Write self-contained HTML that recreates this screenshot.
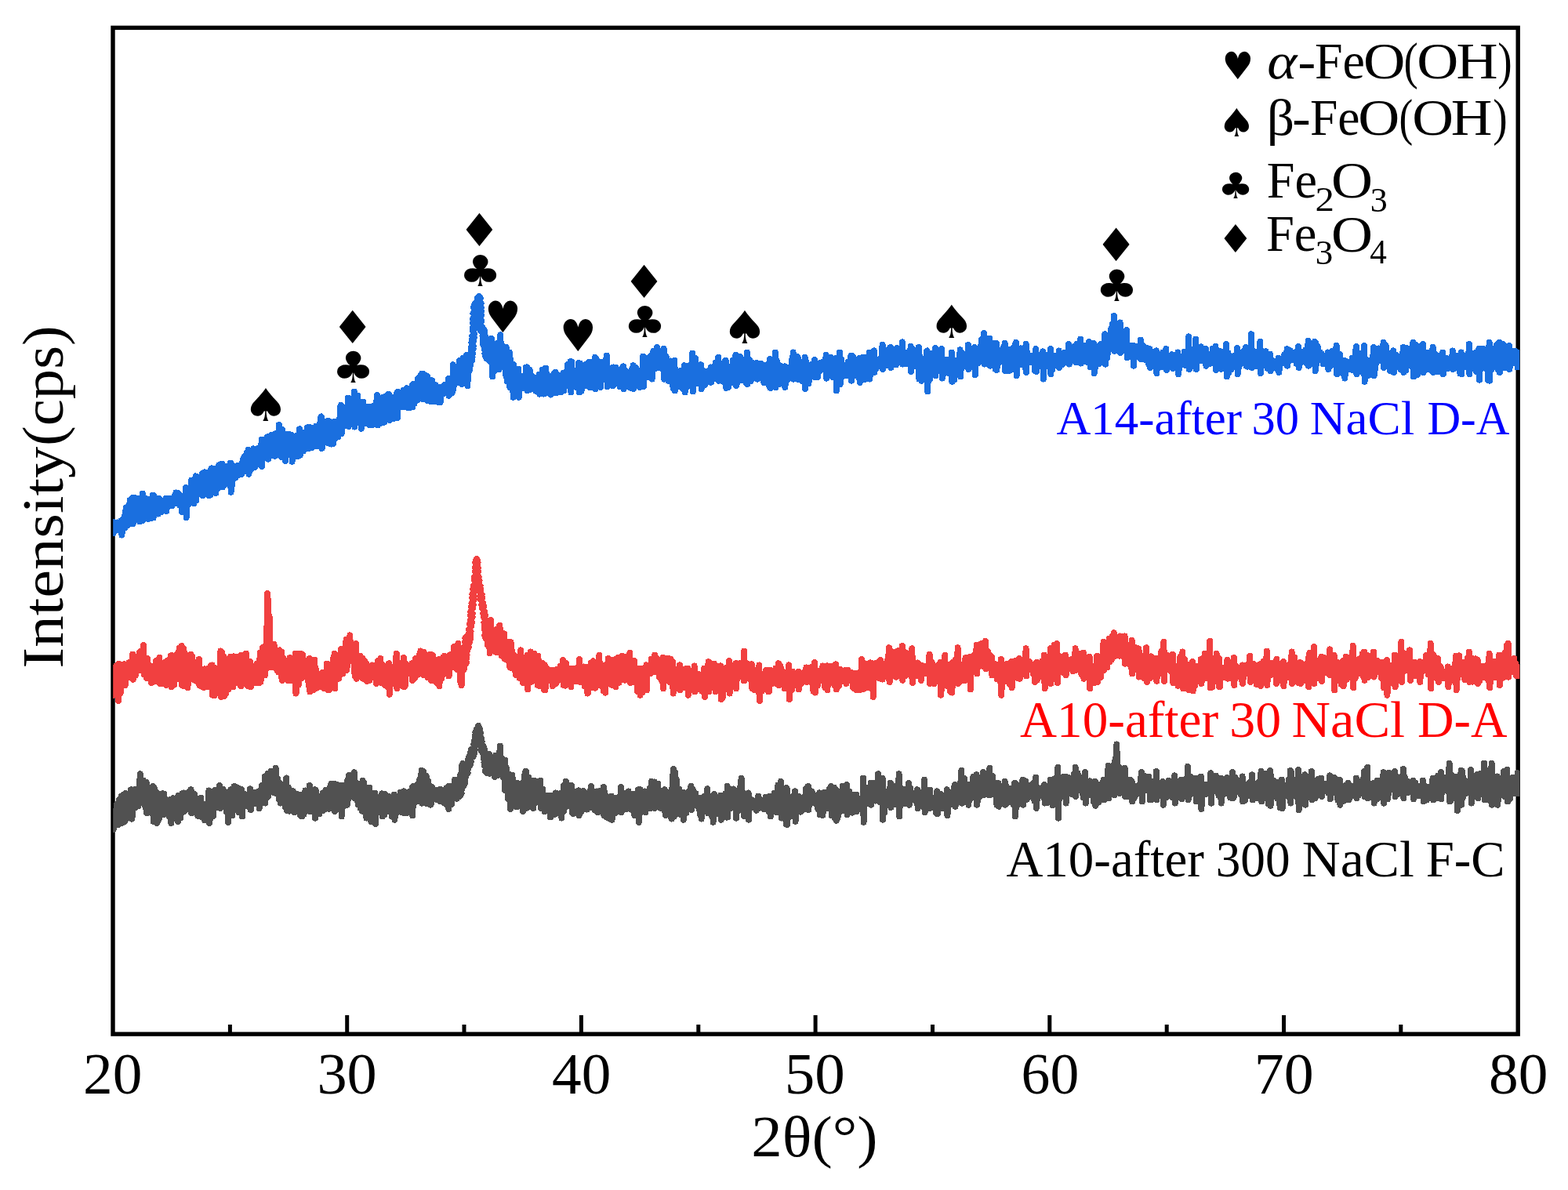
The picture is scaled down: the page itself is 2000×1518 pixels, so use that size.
<!DOCTYPE html>
<html lang="en">
<head>
<meta charset="utf-8">
<title>XRD patterns</title>
<style>
html,body{margin:0;padding:0;background:#fff;}
body{width:2000px;height:1518px;overflow:hidden;}
svg{display:block;}
</style>
</head>
<body>
<svg width="2000" height="1518" viewBox="0 0 2000 1518">
<rect x="0" y="0" width="2000" height="1518" fill="#ffffff"/>
<rect x="144.0" y="35.4" width="1792.2" height="1283.7" fill="none" stroke="#000" stroke-width="5.4"/>
<path d="M442.7 1319.1 V1295.0 M741.4 1319.1 V1295.0 M1040.1 1319.1 V1295.0 M1338.8 1319.1 V1295.0 M1637.5 1319.1 V1295.0 M293.4 1319.1 V1307.0 M592.0 1319.1 V1307.0 M890.8 1319.1 V1307.0 M1189.5 1319.1 V1307.0 M1488.2 1319.1 V1307.0 M1786.8 1319.1 V1307.0" stroke="#000" stroke-width="5" fill="none"/>
<text font-size="74.2" font-family="'Liberation Serif', 'DejaVu Serif', serif" fill="#000"><tspan x="105.95" textLength="75.38" lengthAdjust="spacingAndGlyphs" y="1394.90">20</tspan></text>
<text font-size="74.2" font-family="'Liberation Serif', 'DejaVu Serif', serif" fill="#000"><tspan x="404.40" textLength="76.37" lengthAdjust="spacingAndGlyphs" y="1394.90">30</tspan></text>
<text font-size="74.2" font-family="'Liberation Serif', 'DejaVu Serif', serif" fill="#000"><tspan x="704.08" textLength="75.25" lengthAdjust="spacingAndGlyphs" y="1394.90">40</tspan></text>
<text font-size="74.2" font-family="'Liberation Serif', 'DejaVu Serif', serif" fill="#000"><tspan x="1000.73" textLength="77.07" lengthAdjust="spacingAndGlyphs" y="1394.90">50</tspan></text>
<text font-size="74.2" font-family="'Liberation Serif', 'DejaVu Serif', serif" fill="#000"><tspan x="1302.62" textLength="73.65" lengthAdjust="spacingAndGlyphs" y="1394.90">60</tspan></text>
<text font-size="74.2" font-family="'Liberation Serif', 'DejaVu Serif', serif" fill="#000"><tspan x="1599.89" textLength="75.86" lengthAdjust="spacingAndGlyphs" y="1394.90">70</tspan></text>
<text font-size="74.2" font-family="'Liberation Serif', 'DejaVu Serif', serif" fill="#000"><tspan x="1898.95" textLength="75.38" lengthAdjust="spacingAndGlyphs" y="1394.90">80</tspan></text>
<text font-size="74.5" font-family="'Liberation Serif', 'DejaVu Serif', serif" fill="#000"><tspan x="958.30" textLength="161.26" lengthAdjust="spacingAndGlyphs" y="1475.00">2θ(°)</tspan></text>
<text transform="translate(80.00 0) rotate(-90)" y="0" font-size="74.8" font-family="'Liberation Serif', 'DejaVu Serif', serif" fill="#000"><tspan x="-852.70" textLength="283.09" lengthAdjust="spacingAndGlyphs">Intensity</tspan><tspan x="-568.79" textLength="153.30" lengthAdjust="spacingAndGlyphs">(cps)</tspan></text>
<text font-size="60.4" font-family="'Liberation Serif', 'DejaVu Serif', serif" fill="#0000ff"><tspan x="1347.40" textLength="236.64" lengthAdjust="spacingAndGlyphs" y="554.00">A14-after</tspan> <tspan x="1596.49" textLength="60.50" lengthAdjust="spacingAndGlyphs" y="554.00">30</tspan> <tspan x="1670.73" textLength="133.50" lengthAdjust="spacingAndGlyphs" y="554.00">NaCl</tspan> <tspan x="1820.43" textLength="105.00" lengthAdjust="spacingAndGlyphs" y="554.00">D-A</tspan></text>
<text font-size="65.2" font-family="'Liberation Serif', 'DejaVu Serif', serif" fill="#ff0000"><tspan x="1301.10" textLength="253.07" lengthAdjust="spacingAndGlyphs" y="940.40">A10-after</tspan> <tspan x="1568.37" textLength="65.84" lengthAdjust="spacingAndGlyphs" y="940.40">30</tspan> <tspan x="1647.50" textLength="144.67" lengthAdjust="spacingAndGlyphs" y="940.40">NaCl</tspan> <tspan x="1808.02" textLength="114.55" lengthAdjust="spacingAndGlyphs" y="940.40">D-A</tspan></text>
<text font-size="65.2" font-family="'Liberation Serif', 'DejaVu Serif', serif" fill="#000"><tspan x="1283.40" textLength="252.47" lengthAdjust="spacingAndGlyphs" y="1118.10">A10-after</tspan> <tspan x="1550.69" textLength="94.93" lengthAdjust="spacingAndGlyphs" y="1118.10">300</tspan> <tspan x="1660.82" textLength="142.93" lengthAdjust="spacingAndGlyphs" y="1118.10">NaCl</tspan> <tspan x="1818.71" textLength="100.92" lengthAdjust="spacingAndGlyphs" y="1118.10">F-C</tspan></text>
<text font-size="64.5" font-family="'Liberation Serif', 'DejaVu Serif', serif" fill="#000"><tspan x="1616.35" textLength="38.17" lengthAdjust="spacingAndGlyphs" y="99.50" font-style="italic">α</tspan><tspan x="1655.56" textLength="22.66" lengthAdjust="spacingAndGlyphs" y="99.50">-</tspan><tspan x="1677.02" textLength="63.97" lengthAdjust="spacingAndGlyphs" y="99.50">Fe</tspan><tspan x="1738.93" textLength="53.44" lengthAdjust="spacingAndGlyphs" y="99.50">O</tspan><tspan x="1790.45" textLength="18.23" lengthAdjust="spacingAndGlyphs" y="99.50">(</tspan><tspan x="1807.16" textLength="52.99" lengthAdjust="spacingAndGlyphs" y="99.50">O</tspan><tspan x="1857.52" textLength="53.06" lengthAdjust="spacingAndGlyphs" y="99.50">H</tspan><tspan x="1910.28" textLength="18.49" lengthAdjust="spacingAndGlyphs" y="99.50">)</tspan></text>
<text font-size="64.5" font-family="'Liberation Serif', 'DejaVu Serif', serif" fill="#000"><tspan x="1615.69" textLength="35.35" lengthAdjust="spacingAndGlyphs" y="172.20">β</tspan><tspan x="1648.27" textLength="23.44" lengthAdjust="spacingAndGlyphs" y="172.20">-</tspan><tspan x="1671.03" textLength="63.54" lengthAdjust="spacingAndGlyphs" y="172.20">Fe</tspan><tspan x="1732.16" textLength="52.99" lengthAdjust="spacingAndGlyphs" y="172.20">O</tspan><tspan x="1784.53" textLength="17.71" lengthAdjust="spacingAndGlyphs" y="172.20">(</tspan><tspan x="1801.17" textLength="52.77" lengthAdjust="spacingAndGlyphs" y="172.20">O</tspan><tspan x="1850.74" textLength="52.62" lengthAdjust="spacingAndGlyphs" y="172.20">H</tspan><tspan x="1904.28" textLength="18.49" lengthAdjust="spacingAndGlyphs" y="172.20">)</tspan></text>
<text font-size="64.5" font-family="'Liberation Serif', 'DejaVu Serif', serif" fill="#000"><tspan x="1615.81" textLength="64.18" lengthAdjust="spacingAndGlyphs" y="252.20">Fe</tspan><tspan x="1677.56" textLength="24.41" lengthAdjust="spacingAndGlyphs" y="269.00" font-size="43.6">2</tspan><tspan x="1697.96" textLength="52.99" lengthAdjust="spacingAndGlyphs" y="252.30">O</tspan><tspan x="1747.78" textLength="22.04" lengthAdjust="spacingAndGlyphs" y="269.60" font-size="43.6">3</tspan></text>
<text font-size="64.5" font-family="'Liberation Serif', 'DejaVu Serif', serif" fill="#000"><tspan x="1615.00" textLength="64.50" lengthAdjust="spacingAndGlyphs" y="320.00">Fe</tspan><tspan x="1677.73" textLength="22.52" lengthAdjust="spacingAndGlyphs" y="336.50" font-size="43.6">3</tspan><tspan x="1697.96" textLength="52.99" lengthAdjust="spacingAndGlyphs" y="320.50">O</tspan><tspan x="1747.21" textLength="21.58" lengthAdjust="spacingAndGlyphs" y="336.20" font-size="43.6">4</tspan></text>
<text transform="translate(309.39 537.00) scale(0.6569 0.5753)" font-size="100" font-family="'DejaVu Sans', 'Liberation Serif', sans-serif" fill="#000">♠</text>
<text transform="translate(422.67 438.00) scale(0.6018 0.5793)" font-size="100" font-family="'DejaVu Sans', 'Liberation Serif', sans-serif" fill="#000">♦</text>
<text transform="translate(423.20 488.06) scale(0.6089 0.5522)" font-size="100" font-family="'DejaVu Sans', 'Liberation Serif', sans-serif" fill="#000">♣</text>
<text transform="translate(584.57 314.00) scale(0.6018 0.5807)" font-size="100" font-family="'DejaVu Sans', 'Liberation Serif', sans-serif" fill="#000">♦</text>
<text transform="translate(585.19 365.00) scale(0.6104 0.5507)" font-size="100" font-family="'DejaVu Sans', 'Liberation Serif', sans-serif" fill="#000">♣</text>
<text transform="translate(618.14 424.40) scale(0.5181 0.5562)" font-size="100" font-family="'DejaVu Sans', 'Liberation Serif', sans-serif" fill="#000">♥</text>
<text transform="translate(714.01 447.70) scale(0.5208 0.5630)" font-size="100" font-family="'DejaVu Sans', 'Liberation Serif', sans-serif" fill="#000">♥</text>
<text transform="translate(794.54 380.00) scale(0.6036 0.5793)" font-size="100" font-family="'DejaVu Sans', 'Liberation Serif', sans-serif" fill="#000">♦</text>
<text transform="translate(795.05 430.00) scale(0.6133 0.5507)" font-size="100" font-family="'DejaVu Sans', 'Liberation Serif', sans-serif" fill="#000">♣</text>
<text transform="translate(920.46 438.20) scale(0.6586 0.5781)" font-size="100" font-family="'DejaVu Sans', 'Liberation Serif', sans-serif" fill="#000">♠</text>
<text transform="translate(1184.21 431.20) scale(0.6621 0.5795)" font-size="100" font-family="'DejaVu Sans', 'Liberation Serif', sans-serif" fill="#000">♠</text>
<text transform="translate(1396.51 333.20) scale(0.6054 0.5834)" font-size="100" font-family="'DejaVu Sans', 'Liberation Serif', sans-serif" fill="#000">♦</text>
<text transform="translate(1396.97 384.30) scale(0.6119 0.5562)" font-size="100" font-family="'DejaVu Sans', 'Liberation Serif', sans-serif" fill="#000">♣</text>
<text transform="translate(1558.75 101.00) scale(0.4500 0.4849)" font-size="100" font-family="'DejaVu Sans', 'Liberation Serif', sans-serif" fill="#000">♥</text>
<text transform="translate(1553.19 174.00) scale(0.5379 0.4959)" font-size="100" font-family="'DejaVu Sans', 'Liberation Serif', sans-serif" fill="#000">♠</text>
<text transform="translate(1553.19 253.00) scale(0.5096 0.4548)" font-size="100" font-family="'DejaVu Sans', 'Liberation Serif', sans-serif" fill="#000">♣</text>
<text transform="translate(1553.10 321.80) scale(0.5117 0.4938)" font-size="100" font-family="'DejaVu Sans', 'Liberation Serif', sans-serif" fill="#000">♦</text>
<clipPath id="plotclip"><rect x="144.2" y="30" width="1794.1" height="1295"/></clipPath>
<g fill="none" stroke-width="8.0" stroke-linejoin="round" stroke-linecap="butt" clip-path="url(#plotclip)" shape-rendering="crispEdges">
<path d="M144.0 1031.5 L144.6 1058.3 L145.2 1056.3 L145.8 1041.0 L146.4 1051.3 L147.0 1041.5 L147.6 1038.0 L148.2 1036.7 L148.8 1026.1 L149.4 1036.9 L150.0 1038.9 L150.6 1052.1 L151.2 1033.4 L151.8 1020.2 L152.4 1022.7 L153.0 1044.9 L153.6 1037.2 L154.2 1030.6 L154.8 1015.7 L155.4 1049.9 L156.0 1022.7 L156.6 1031.4 L157.2 1014.1 L157.8 1020.6 L158.4 1048.4 L159.0 1012.9 L159.6 1046.5 L160.2 1012.1 L160.8 1028.0 L161.4 1022.5 L162.0 1028.1 L162.6 1032.1 L163.2 1043.6 L163.8 1037.5 L164.4 1022.8 L165.0 1041.7 L165.6 1025.1 L166.2 1017.6 L166.8 1007.7 L167.4 1007.3 L168.0 1044.6 L168.6 1022.6 L169.2 1040.9 L169.8 1018.4 L170.4 1029.7 L171.0 1014.2 L171.6 1010.6 L172.2 1007.1 L172.8 1030.0 L173.4 1012.1 L174.0 1016.7 L174.6 1024.6 L175.2 1012.5 L175.8 1012.8 L176.4 1028.1 L177.0 1013.5 L177.6 1001.5 L178.2 1000.3 L178.8 987.3 L179.4 1024.6 L180.0 1009.6 L180.6 1023.8 L181.2 1004.1 L181.8 1020.0 L182.4 1008.8 L183.0 995.7 L183.6 1010.7 L184.2 1023.5 L184.8 1021.0 L185.4 1029.6 L186.0 1011.6 L186.6 997.8 L187.2 1037.2 L187.8 1012.1 L188.4 1030.4 L189.0 1009.8 L189.6 1011.5 L190.2 1019.1 L190.8 1025.7 L191.4 1031.8 L192.0 1026.6 L192.6 1011.1 L193.2 1026.2 L193.8 1013.5 L194.4 1012.2 L195.0 1003.0 L195.6 1047.8 L196.2 1027.4 L196.8 1005.3 L197.4 1039.8 L198.0 1028.3 L198.6 1009.7 L199.2 1015.7 L199.8 1049.9 L200.4 1022.5 L201.0 1012.0 L201.6 1047.4 L202.2 1019.4 L202.8 1044.8 L203.4 1029.9 L204.0 1022.5 L204.6 1018.6 L205.2 1021.7 L205.8 1022.5 L206.4 1012.7 L207.0 1029.3 L207.6 1012.3 L208.2 1023.6 L208.8 1039.1 L209.4 1012.6 L210.0 1035.0 L210.6 1029.1 L211.2 1019.7 L211.8 1035.1 L212.4 1030.8 L213.0 1031.3 L213.6 1038.1 L214.2 1035.3 L214.8 1023.1 L215.4 1041.2 L216.0 1034.4 L216.6 1039.5 L217.2 1030.6 L217.8 1020.0 L218.4 1049.9 L219.0 1042.1 L219.6 1037.1 L220.2 1020.6 L220.8 1018.4 L221.4 1033.1 L222.0 1026.0 L222.6 1034.4 L223.2 1041.4 L223.8 1036.8 L224.4 1040.7 L225.0 1029.0 L225.6 1031.6 L226.2 1020.0 L226.8 1047.8 L227.4 1015.2 L228.0 1029.7 L228.6 1018.8 L229.2 1034.8 L229.8 1037.3 L230.4 1043.2 L231.0 1024.4 L231.6 1019.9 L232.2 1012.4 L232.8 1027.2 L233.4 1023.7 L234.0 1024.5 L234.6 1011.5 L235.2 1035.0 L235.8 1027.2 L236.4 1024.5 L237.0 1029.4 L237.6 1024.1 L238.2 1015.3 L238.8 1018.4 L239.4 1030.4 L240.0 1031.7 L240.6 1021.6 L241.2 1017.8 L241.8 1009.6 L242.4 1010.6 L243.0 1023.6 L243.6 1007.3 L244.2 1037.2 L244.8 1011.6 L245.4 1028.3 L246.0 1027.6 L246.6 1034.5 L247.2 1018.7 L247.8 1012.7 L248.4 1014.4 L249.0 1034.0 L249.6 1027.7 L250.2 1029.3 L250.8 1031.3 L251.4 1034.2 L252.0 1040.8 L252.6 1041.0 L253.2 1019.3 L253.8 1020.0 L254.4 1041.5 L255.0 1031.8 L255.6 1028.8 L256.2 1017.8 L256.8 1031.5 L257.4 1042.3 L258.0 1033.8 L258.6 1025.4 L259.2 1035.1 L259.8 1042.4 L260.4 1029.4 L261.0 1046.3 L261.6 1029.2 L262.2 1025.6 L262.8 1027.2 L263.4 1038.8 L264.0 1038.9 L264.6 1029.8 L265.2 1032.9 L265.8 1043.7 L266.4 1008.4 L267.0 1049.9 L267.6 1045.9 L268.2 1042.5 L268.8 1036.8 L269.4 1022.6 L270.0 1021.3 L270.6 1040.3 L271.2 1023.0 L271.8 1041.0 L272.4 1018.8 L273.0 1021.9 L273.6 1019.5 L274.2 1007.8 L274.8 1013.3 L275.4 1010.4 L276.0 1017.6 L276.6 1015.9 L277.2 1012.2 L277.8 1030.5 L278.4 1012.4 L279.0 1010.1 L279.6 1028.6 L280.2 1002.0 L280.8 1031.0 L281.4 1010.3 L282.0 1020.7 L282.6 1017.9 L283.2 1021.4 L283.8 1012.9 L284.4 1006.8 L285.0 1018.6 L285.6 1029.1 L286.2 1029.1 L286.8 1027.7 L287.4 1010.1 L288.0 1012.2 L288.6 1035.5 L289.2 1023.1 L289.8 1025.4 L290.4 1015.7 L291.0 1048.8 L291.6 1029.3 L292.2 1025.6 L292.8 1037.1 L293.4 1023.6 L294.0 1007.6 L294.6 1007.1 L295.2 1032.2 L295.8 1015.2 L296.4 1040.5 L297.0 1023.0 L297.6 1011.2 L298.2 1019.8 L298.8 1003.0 L299.4 1033.0 L300.0 1003.4 L300.6 1011.3 L301.2 1032.7 L301.8 1008.6 L302.4 1004.5 L303.0 1016.8 L303.6 1020.6 L304.2 1017.8 L304.8 1036.5 L305.4 1016.4 L306.0 1031.1 L306.6 1006.4 L307.2 1024.3 L307.8 1032.5 L308.4 1007.3 L309.0 1041.5 L309.6 1012.1 L310.2 1029.9 L310.8 1023.8 L311.4 1014.1 L312.0 1021.3 L312.6 1014.4 L313.2 1013.6 L313.8 1018.6 L314.4 1016.4 L315.0 1022.8 L315.6 1028.6 L316.2 1023.7 L316.8 1022.2 L317.4 1021.0 L318.0 1019.4 L318.6 1017.5 L319.2 1006.3 L319.8 1033.0 L320.4 1015.0 L321.0 1020.0 L321.6 1020.9 L322.2 1020.8 L322.8 1020.9 L323.4 1010.8 L324.0 1018.7 L324.6 1024.4 L325.2 1016.7 L325.8 1021.1 L326.4 1025.0 L327.0 1011.8 L327.6 1022.1 L328.2 1015.1 L328.8 1023.3 L329.4 1009.5 L330.0 1009.4 L330.6 1031.0 L331.2 1021.9 L331.8 1020.6 L332.4 1019.2 L333.0 1011.3 L333.6 1018.9 L334.2 1001.8 L334.8 1005.4 L335.4 1014.4 L336.0 1009.2 L336.6 1015.7 L337.2 1005.9 L337.8 990.5 L338.4 1024.6 L339.0 1004.0 L339.6 1003.4 L340.2 1000.5 L340.8 990.7 L341.4 986.9 L342.0 1015.8 L342.6 992.2 L343.2 1010.1 L343.8 1004.7 L344.4 995.6 L345.0 997.1 L345.6 984.0 L346.2 1009.8 L346.8 997.2 L347.4 997.7 L348.0 1000.7 L348.6 1010.7 L349.2 984.8 L349.8 987.8 L350.4 1000.3 L351.0 1002.2 L351.6 980.0 L352.2 1012.0 L352.8 1010.8 L353.4 1008.4 L354.0 993.2 L354.6 996.0 L355.2 999.4 L355.8 1019.7 L356.4 1016.9 L357.0 998.9 L357.6 1024.6 L358.2 1009.1 L358.8 1005.3 L359.4 1022.0 L360.0 1011.3 L360.6 1001.4 L361.2 1014.8 L361.8 1022.5 L362.4 1008.7 L363.0 1014.9 L363.6 1029.5 L364.2 1005.6 L364.8 993.1 L365.4 992.6 L366.0 1034.0 L366.6 1006.6 L367.2 1016.4 L367.8 1004.3 L368.4 1009.2 L369.0 1034.7 L369.6 1015.1 L370.2 1008.8 L370.8 1032.9 L371.4 1021.8 L372.0 1009.7 L372.6 1031.0 L373.2 1025.0 L373.8 1009.4 L374.4 1035.0 L375.0 1032.2 L375.6 1036.0 L376.2 1019.2 L376.8 1018.3 L377.4 1030.8 L378.0 1012.5 L378.6 1035.5 L379.2 1034.8 L379.8 1014.5 L380.4 1024.9 L381.0 1023.9 L381.6 1017.3 L382.2 1024.8 L382.8 1040.0 L383.4 1034.5 L384.0 1037.7 L384.6 1013.6 L385.2 1041.5 L385.8 1041.2 L386.4 1034.7 L387.0 1028.3 L387.6 1038.7 L388.2 1016.9 L388.8 1025.5 L389.4 1008.5 L390.0 1016.9 L390.6 1010.1 L391.2 1031.9 L391.8 1016.8 L392.4 1027.5 L393.0 1009.6 L393.6 1024.6 L394.2 1026.9 L394.8 1002.0 L395.4 1035.0 L396.0 1024.9 L396.6 1010.7 L397.2 1016.8 L397.8 1034.0 L398.4 1034.0 L399.0 1008.2 L399.6 1014.5 L400.2 1024.2 L400.8 1036.7 L401.4 1007.3 L402.0 1043.6 L402.6 1008.1 L403.2 1029.4 L403.8 1020.9 L404.4 1020.7 L405.0 1030.4 L405.6 1019.9 L406.2 1031.4 L406.8 1023.4 L407.4 1038.1 L408.0 1024.3 L408.6 1026.1 L409.2 1028.6 L409.8 1015.2 L410.4 1027.9 L411.0 1025.1 L411.6 1011.5 L412.2 1034.0 L412.8 1030.8 L413.4 1033.0 L414.0 1016.9 L414.6 1031.6 L415.2 1025.3 L415.8 1007.5 L416.4 1017.1 L417.0 1021.6 L417.6 1018.0 L418.2 1022.4 L418.8 1007.6 L419.4 1031.7 L420.0 1031.7 L420.6 1006.4 L421.2 1003.8 L421.8 1031.2 L422.4 1000.0 L423.0 1031.0 L423.6 1018.3 L424.2 1004.6 L424.8 1005.7 L425.4 1020.7 L426.0 999.7 L426.6 1004.5 L427.2 1035.0 L427.8 1013.1 L428.4 1018.7 L429.0 1021.2 L429.6 1000.7 L430.2 1014.6 L430.8 1013.4 L431.4 1006.6 L432.0 1007.5 L432.6 1016.2 L433.2 1013.5 L433.8 1032.0 L434.4 1010.0 L435.0 1003.0 L435.6 1041.5 L436.2 1001.7 L436.8 1016.8 L437.4 1022.4 L438.0 1007.1 L438.6 1028.2 L439.2 1002.2 L439.8 1016.7 L440.4 1025.2 L441.0 1010.3 L441.6 1020.3 L442.2 1014.1 L442.8 1026.7 L443.4 994.7 L444.0 1020.4 L444.6 1012.0 L445.2 989.0 L445.8 1014.4 L446.4 1002.2 L447.0 1016.4 L447.6 993.6 L448.2 988.6 L448.8 1006.0 L449.4 1013.0 L450.0 1010.9 L450.6 990.3 L451.2 987.6 L451.8 985.2 L452.4 1018.3 L453.0 998.3 L453.6 1011.6 L454.2 998.8 L454.8 1004.9 L455.4 1013.8 L456.0 1010.3 L456.6 1026.4 L457.2 1008.3 L457.8 1021.5 L458.4 1000.4 L459.0 1000.6 L459.6 1030.7 L460.2 1012.0 L460.8 1016.0 L461.4 1031.3 L462.0 1034.6 L462.6 995.7 L463.2 1035.0 L463.8 1006.5 L464.4 998.7 L465.0 1029.3 L465.6 1028.4 L466.2 1026.0 L466.8 1005.2 L467.4 1043.6 L468.0 1015.2 L468.6 1022.1 L469.2 1033.8 L469.8 1035.2 L470.4 1028.0 L471.0 1004.6 L471.6 1027.1 L472.2 1030.3 L472.8 1034.9 L473.4 1047.9 L474.0 1033.2 L474.6 1026.2 L475.2 1043.5 L475.8 1036.3 L476.4 1031.7 L477.0 1027.0 L477.6 1034.4 L478.2 1011.5 L478.8 1051.0 L479.4 1035.1 L480.0 1023.3 L480.6 1027.1 L481.2 1023.3 L481.8 1017.7 L482.4 1019.8 L483.0 1036.4 L483.6 1025.8 L484.2 1029.6 L484.8 1016.5 L485.4 1028.7 L486.0 1025.3 L486.6 1022.0 L487.2 1012.4 L487.8 1041.4 L488.4 1025.2 L489.0 1019.5 L489.6 1012.6 L490.2 1039.4 L490.8 1012.7 L491.4 1022.7 L492.0 1014.2 L492.6 1019.6 L493.2 1027.7 L493.8 1017.1 L494.4 1034.8 L495.0 1020.8 L495.6 1015.6 L496.2 1021.0 L496.8 1017.4 L497.4 1029.6 L498.0 1020.7 L498.6 1025.3 L499.2 1022.9 L499.8 1041.4 L500.4 1032.0 L501.0 1037.7 L501.6 1038.9 L502.2 1033.0 L502.8 1013.6 L503.4 1045.7 L504.0 1036.0 L504.6 1020.9 L505.2 1027.0 L505.8 1035.3 L506.4 1036.9 L507.0 1024.3 L507.6 1032.3 L508.2 1025.5 L508.8 1028.3 L509.4 1031.7 L510.0 1024.0 L510.6 1010.9 L511.2 1025.2 L511.8 1019.2 L512.4 1018.4 L513.0 1036.2 L513.6 1022.9 L514.2 1032.9 L514.8 1009.4 L515.4 1037.2 L516.0 1025.3 L516.6 1017.4 L517.2 1021.3 L517.8 1024.8 L518.4 1026.5 L519.0 1037.0 L519.6 1031.1 L520.2 1011.2 L520.8 1028.3 L521.4 1020.1 L522.0 1022.3 L522.6 1012.4 L523.2 1009.6 L523.8 1019.1 L524.4 1031.6 L525.0 1033.1 L525.6 1005.2 L526.2 1040.4 L526.8 1003.1 L527.4 1028.8 L528.0 1018.8 L528.6 1017.4 L529.2 1018.3 L529.8 1018.4 L530.4 1019.9 L531.0 1013.2 L531.6 1017.1 L532.2 1001.2 L532.8 1013.1 L533.4 1022.1 L534.0 1010.6 L534.6 1019.7 L535.2 994.6 L535.8 1000.0 L536.4 1007.9 L537.0 1004.7 L537.6 983.0 L538.2 1024.6 L538.8 994.0 L539.4 988.0 L540.0 984.0 L540.6 1020.4 L541.2 1024.0 L541.8 1019.4 L542.4 1001.1 L543.0 1008.6 L543.6 989.7 L544.2 1025.1 L544.8 1001.6 L545.4 1010.1 L546.0 996.4 L546.6 1011.2 L547.2 1023.2 L547.8 1015.4 L548.4 1003.0 L549.0 1026.7 L549.6 1026.0 L550.2 1022.9 L550.8 1012.5 L551.4 1004.3 L552.0 1011.1 L552.6 1011.2 L553.2 1014.0 L553.8 1013.3 L554.4 1019.4 L555.0 1010.9 L555.6 1008.8 L556.2 1007.6 L556.8 1013.7 L557.4 1020.2 L558.0 1009.4 L558.6 1007.8 L559.2 1009.6 L559.8 1018.6 L560.4 1014.9 L561.0 1007.3 L561.6 1022.5 L562.2 1015.0 L562.8 1007.3 L563.4 1019.8 L564.0 1014.4 L564.6 1010.5 L565.2 1018.0 L565.8 1023.5 L566.4 1024.4 L567.0 1022.5 L567.6 1007.7 L568.2 1015.3 L568.8 1008.0 L569.4 1005.4 L570.0 1027.2 L570.6 1005.8 L571.2 1025.6 L571.8 1004.0 L572.4 1032.0 L573.0 1002.5 L573.6 1021.5 L574.2 1008.2 L574.8 1016.9 L575.4 1004.5 L576.0 1025.8 L576.6 1008.3 L577.2 1016.8 L577.8 1008.9 L578.4 1009.5 L579.0 1014.1 L579.6 1013.6 L580.2 994.7 L580.8 1016.0 L581.4 1002.7 L582.0 999.7 L582.6 1018.8 L583.2 1003.7 L583.8 998.0 L584.4 1014.3 L585.0 1016.8 L585.6 993.4 L586.2 1014.8 L586.8 989.9 L587.4 1014.7 L588.6 1012.3 L586.7 1009.9 L588.9 1007.6 L587.1 1005.2 L589.3 1002.8 L587.4 1000.4 L589.6 998.0 L587.8 995.6 L589.9 993.3 L588.1 990.9 L590.3 988.5 L588.4 986.1 L590.6 983.7 L588.8 981.3 L591.0 979.0 L589.1 976.6 L590.3 974.2 L591.4 976.5 L589.5 978.8 L591.7 981.1 L589.8 983.4 L591.9 985.7 L590.0 988.0 L592.2 990.4 L590.3 992.7 L592.4 995.0 L590.5 997.3 L592.7 999.6 L591.8 1001.9 L591.0 999.5 L593.2 997.0 L591.4 994.6 L593.6 992.2 L591.7 989.7 L593.9 987.3 L592.1 984.9 L594.3 982.4 L593.5 980.0 L593.0 982.0 L595.4 984.0 L593.8 986.0 L595.3 988.0 L596.6 985.6 L595.0 983.3 L597.3 980.9 L595.7 978.5 L598.0 976.1 L596.3 973.8 L598.7 971.4 L597.0 969.0 L599.4 966.7 L598.7 964.3 L597.9 966.7 L600.1 969.1 L598.3 971.4 L600.5 973.8 L599.7 976.2 L598.9 973.9 L601.0 971.6 L599.2 969.3 L601.4 967.0 L599.5 964.7 L601.7 962.4 L599.9 960.1 L602.0 957.8 L601.2 955.5 L600.7 957.5 L603.2 959.4 L601.7 961.4 L604.2 963.3 L603.7 965.3 L602.9 963.0 L605.2 960.8 L603.4 958.5 L605.7 956.2 L603.9 954.0 L606.1 951.7 L604.4 949.4 L606.6 947.1 L604.9 944.9 L606.1 942.6 L607.4 940.5 L605.8 938.3 L608.1 936.2 L606.4 934.1 L608.8 931.9 L608.1 929.8 L607.3 932.3 L609.5 934.7 L607.7 937.2 L609.9 939.6 L608.0 942.1 L610.2 944.6 L608.4 947.0 L609.6 949.5 L610.6 947.1 L608.7 944.8 L610.8 942.4 L608.8 940.0 L610.9 937.6 L608.9 935.3 L611.0 932.9 L609.0 930.5 L611.1 928.2 L610.1 925.8 L609.6 928.0 L612.1 930.3 L610.5 932.5 L613.0 934.8 L612.5 937.0 L611.8 939.2 L614.0 941.5 L612.2 943.7 L614.5 946.0 L612.8 948.2 L615.0 950.4 L613.2 952.7 L615.5 954.9 L613.8 957.2 L615.0 959.4 L616.4 957.4 L614.8 955.5 L617.1 953.5 L616.5 951.5 L615.7 953.8 L618.0 956.2 L616.2 958.5 L618.4 960.9 L616.7 963.2 L618.9 965.6 L617.1 967.9 L619.3 970.3 L617.6 972.6 L619.8 975.0 L618.0 977.3 L620.3 979.7 L619.5 982.0 L619.0 983.8 L620.5 985.6 L621.0 965.2 L621.6 984.6 L622.2 968.9 L622.8 973.7 L623.4 976.4 L624.0 961.9 L624.6 986.8 L625.2 968.4 L625.8 965.4 L626.4 965.5 L627.0 973.1 L627.6 976.0 L628.2 968.3 L628.8 966.4 L629.4 976.0 L630.0 975.0 L630.6 965.2 L631.2 990.9 L631.8 974.9 L632.4 963.6 L633.0 977.5 L633.6 985.9 L634.2 989.2 L634.8 969.6 L635.4 986.4 L636.0 980.4 L636.6 962.7 L637.2 962.6 L637.8 951.5 L638.4 986.7 L639.0 975.1 L639.6 985.9 L640.2 967.0 L640.8 978.4 L641.4 980.0 L642.0 991.8 L642.6 987.1 L643.2 971.5 L643.8 1007.7 L644.4 970.0 L645.0 1002.2 L645.6 989.8 L646.2 980.3 L646.8 996.0 L647.4 1005.8 L648.0 1018.5 L648.6 1014.6 L649.2 1005.4 L649.8 1020.1 L650.4 988.3 L651.0 1032.0 L651.6 1025.8 L652.2 1000.8 L652.8 1009.3 L653.4 988.6 L654.0 1004.3 L654.6 1027.9 L655.2 1016.2 L655.8 1024.8 L656.4 1022.7 L657.0 1004.1 L657.6 1022.7 L658.2 1029.2 L658.8 1015.0 L659.4 1006.0 L660.0 998.9 L660.6 1028.8 L661.2 1010.4 L661.8 1021.3 L662.4 1006.3 L663.0 1023.5 L663.6 1006.8 L664.2 1013.9 L664.8 1015.1 L665.4 1006.2 L666.0 1021.3 L666.6 998.9 L667.2 1035.0 L667.8 1010.9 L668.4 1000.0 L669.0 994.6 L669.6 986.3 L670.2 995.9 L670.8 983.7 L671.4 1031.0 L672.0 999.9 L672.6 1004.1 L673.2 1000.7 L673.8 1008.6 L674.4 991.6 L675.0 1013.8 L675.6 1022.3 L676.2 1029.1 L676.8 1026.9 L677.4 998.6 L678.0 1006.2 L678.6 1006.7 L679.2 1020.5 L679.8 995.7 L680.4 1031.0 L681.0 1016.4 L681.6 996.0 L682.2 1008.4 L682.8 1014.2 L683.4 996.4 L684.0 1009.3 L684.6 1021.7 L685.2 1019.3 L685.8 1013.4 L686.4 1015.0 L687.0 1018.6 L687.6 1023.2 L688.2 1011.9 L688.8 1017.6 L689.4 995.7 L690.0 1031.0 L690.6 1018.6 L691.2 1018.4 L691.8 1011.4 L692.4 1006.8 L693.0 1032.0 L693.6 1019.8 L694.2 1031.3 L694.8 1035.4 L695.4 1027.2 L696.0 1020.3 L696.6 1025.2 L697.2 1027.3 L697.8 1025.1 L698.4 1033.9 L699.0 1015.3 L699.6 1024.0 L700.2 1034.6 L700.8 1025.2 L701.4 1020.0 L702.0 1042.5 L702.6 1014.9 L703.2 1033.1 L703.8 1026.2 L704.4 1036.5 L705.0 1019.2 L705.6 1030.2 L706.2 1029.4 L706.8 1038.9 L707.4 1033.6 L708.0 1032.0 L708.6 1011.5 L709.2 1033.0 L709.8 1037.8 L710.4 1022.6 L711.0 1023.4 L711.6 1015.6 L712.2 1027.5 L712.8 1014.1 L713.4 1012.9 L714.0 1020.1 L714.6 1029.4 L715.2 1029.2 L715.8 1011.5 L716.4 1043.6 L717.0 1019.6 L717.6 1019.9 L718.2 1015.3 L718.8 1002.1 L719.4 1034.4 L720.0 1003.0 L720.6 1014.7 L721.2 1004.1 L721.8 996.8 L722.4 1028.8 L723.0 1007.3 L723.6 1012.8 L724.2 1006.9 L724.8 1007.4 L725.4 1028.0 L726.0 1007.3 L726.6 1022.9 L727.2 1020.8 L727.8 1011.8 L728.4 1018.9 L729.0 1001.8 L729.6 1007.3 L730.2 1037.2 L730.8 1023.0 L731.4 1038.0 L732.0 1023.7 L732.6 1025.3 L733.2 1020.3 L733.8 1015.4 L734.4 1019.0 L735.0 1037.1 L735.6 1024.0 L736.2 1025.6 L736.8 1017.6 L737.4 1018.8 L738.0 1008.4 L738.6 1040.4 L739.2 1027.5 L739.8 1026.3 L740.4 1014.8 L741.0 1031.1 L741.6 1035.4 L742.2 1017.9 L742.8 1017.9 L743.4 1031.7 L744.0 1008.9 L744.6 1021.8 L745.2 1022.8 L745.8 1020.3 L746.4 1031.9 L747.0 1026.6 L747.6 1019.1 L748.2 1018.8 L748.8 1032.6 L749.4 1011.9 L750.0 1025.3 L750.6 1027.8 L751.2 1028.2 L751.8 1026.8 L752.4 1009.4 L753.0 1020.0 L753.6 1012.8 L754.2 1003.0 L754.8 1029.9 L755.4 1028.9 L756.0 1020.7 L756.6 1012.3 L757.2 1023.8 L757.8 1013.6 L758.4 1021.4 L759.0 1033.6 L759.6 1014.0 L760.2 1014.3 L760.8 1025.4 L761.4 1009.4 L762.0 1031.0 L762.6 1036.4 L763.2 1011.3 L763.8 1011.2 L764.4 1025.9 L765.0 1020.9 L765.6 1025.1 L766.2 1008.7 L766.8 1020.8 L767.4 1022.6 L768.0 1030.8 L768.6 1024.8 L769.2 1017.2 L769.8 1004.0 L770.4 1040.4 L771.0 1010.0 L771.6 1019.5 L772.2 1014.1 L772.8 1022.8 L773.4 1030.3 L774.0 1042.6 L774.6 1039.6 L775.2 1024.2 L775.8 1030.8 L776.4 1025.0 L777.0 1044.1 L777.6 1032.0 L778.2 1036.3 L778.8 1022.6 L779.4 1029.0 L780.0 1015.7 L780.6 1045.7 L781.2 1017.7 L781.8 1036.4 L782.4 1032.2 L783.0 1017.7 L783.6 1026.5 L784.2 1032.9 L784.8 1037.2 L785.4 1027.2 L786.0 1031.6 L786.6 1032.8 L787.2 1022.8 L787.8 1032.9 L788.4 1017.3 L789.0 1022.5 L789.6 1027.9 L790.2 1017.6 L790.8 1024.7 L791.4 1024.2 L792.0 1004.0 L792.6 1036.2 L793.2 1020.5 L793.8 1026.4 L794.4 1017.4 L795.0 1023.9 L795.6 1014.5 L796.2 1016.0 L796.8 1019.6 L797.4 1019.0 L798.0 1012.0 L798.6 1032.3 L799.2 1026.1 L799.8 1021.1 L800.4 1025.8 L801.0 1024.1 L801.6 1009.4 L802.2 1031.0 L802.8 1012.9 L803.4 1023.9 L804.0 1019.9 L804.6 1019.3 L805.2 1032.6 L805.8 1029.8 L806.4 1026.5 L807.0 1017.4 L807.6 1012.6 L808.2 1027.5 L808.8 1024.9 L809.4 1040.0 L810.0 1023.4 L810.6 1035.9 L811.2 1023.7 L811.8 1032.2 L812.4 1037.3 L813.0 1034.0 L813.6 1032.4 L814.2 1007.3 L814.8 1048.8 L815.4 1039.5 L816.0 1010.0 L816.6 1007.1 L817.2 1015.7 L817.8 1011.0 L818.4 1028.3 L819.0 1035.7 L819.6 1035.5 L820.2 1011.1 L820.8 1021.9 L821.4 1018.1 L822.0 1032.8 L822.6 1009.4 L823.2 1036.2 L823.8 1016.0 L824.4 1027.1 L825.0 1014.0 L825.6 1012.6 L826.2 1013.5 L826.8 1024.8 L827.4 1019.2 L828.0 1031.1 L828.6 1025.0 L829.2 1005.1 L829.8 1008.8 L830.4 1030.8 L831.0 996.8 L831.6 1028.8 L832.2 1027.0 L832.8 1008.1 L833.4 1027.8 L834.0 1015.1 L834.6 997.5 L835.2 1031.0 L835.8 1006.2 L836.4 1019.5 L837.0 1011.7 L837.6 1016.1 L838.2 1005.7 L838.8 1007.7 L839.4 1000.0 L840.0 1024.6 L840.6 1015.0 L841.2 1020.7 L841.8 1021.8 L842.4 1030.8 L843.0 1016.8 L843.6 1028.7 L844.2 1014.5 L844.8 1013.9 L845.4 1016.4 L846.0 1014.3 L846.6 1028.6 L847.2 1027.2 L847.8 1007.3 L848.4 1036.2 L849.0 1040.1 L849.6 1017.0 L850.2 1017.0 L850.8 1022.2 L851.4 1029.8 L852.0 1028.3 L852.6 1030.6 L853.2 1010.8 L853.8 1015.7 L854.4 1019.3 L855.0 1041.3 L855.6 1028.9 L856.2 1011.5 L856.8 1044.6 L857.4 1007.2 L858.0 991.0 L858.6 986.4 L859.2 981.0 L859.8 1041.5 L860.4 1010.3 L861.0 985.3 L861.6 1014.5 L862.2 993.6 L862.8 994.0 L863.4 1030.4 L864.0 1023.3 L864.6 1036.7 L865.2 1010.8 L865.8 1018.0 L866.4 1006.9 L867.0 1021.6 L867.6 1038.7 L868.2 1019.9 L868.8 1019.7 L869.4 1021.2 L870.0 1029.9 L870.6 1025.6 L871.2 1010.5 L871.8 1045.7 L872.4 1042.8 L873.0 1012.5 L873.6 1013.0 L874.2 1021.5 L874.8 1021.1 L875.4 1037.0 L876.0 1027.8 L876.6 1022.9 L877.2 1030.8 L877.8 1016.5 L878.4 1010.1 L879.0 1018.6 L879.6 1019.0 L880.2 1027.0 L880.8 1022.4 L881.4 1003.0 L882.0 1033.0 L882.6 1006.5 L883.2 1015.7 L883.8 1007.4 L884.4 1026.1 L885.0 1014.8 L885.6 1027.1 L886.2 1019.6 L886.8 1017.9 L887.4 1012.2 L888.0 1027.6 L888.6 1026.2 L889.2 1022.0 L889.8 1024.7 L890.4 1024.5 L891.0 1027.2 L891.6 1032.7 L892.2 1024.8 L892.8 1021.6 L893.4 1039.9 L894.0 1017.8 L894.6 1044.6 L895.2 1032.2 L895.8 1022.4 L896.4 1027.6 L897.0 1022.6 L897.6 1022.7 L898.2 1016.0 L898.8 1022.1 L899.4 1021.6 L900.0 1031.5 L900.6 1023.6 L901.2 1017.7 L901.8 1019.6 L902.4 1006.3 L903.0 1037.2 L903.6 1018.2 L904.2 1028.2 L904.8 1032.0 L905.4 1026.2 L906.0 1030.8 L906.6 1030.2 L907.2 1020.9 L907.8 1029.5 L908.4 1042.2 L909.0 1017.8 L909.6 1048.8 L910.2 1034.9 L910.8 1013.2 L911.4 1031.8 L912.0 1024.8 L912.6 1036.4 L913.2 1026.5 L913.8 1038.0 L914.4 1028.8 L915.0 1029.5 L915.6 1033.7 L916.2 1038.2 L916.8 1025.9 L917.4 1025.7 L918.0 1018.2 L918.6 1036.2 L919.2 1014.7 L919.8 1045.7 L920.4 1015.5 L921.0 1021.5 L921.6 1019.2 L922.2 1016.1 L922.8 1022.0 L923.4 1035.2 L924.0 1030.3 L924.6 1036.4 L925.2 1012.5 L925.8 1028.5 L926.4 1026.6 L927.0 1042.7 L927.6 1003.0 L928.2 1042.5 L928.8 1021.4 L929.4 1029.5 L930.0 1015.7 L930.6 1022.0 L931.2 1031.2 L931.8 1020.3 L932.4 1022.4 L933.0 1015.3 L933.6 1019.4 L934.2 1017.3 L934.8 1027.6 L935.4 1006.4 L936.0 1018.7 L936.6 1010.4 L937.2 1012.0 L937.8 1029.4 L938.4 1009.4 L939.0 1043.6 L939.6 1031.0 L940.2 1009.4 L940.8 1035.0 L941.4 1023.0 L942.0 1015.2 L942.6 1013.8 L943.2 1014.8 L943.8 1004.4 L944.4 1016.9 L945.0 1005.6 L945.6 992.6 L946.2 1033.0 L946.8 1017.4 L947.4 1010.6 L948.0 1011.2 L948.6 1014.5 L949.2 1041.2 L949.8 1028.6 L950.4 1028.2 L951.0 1022.8 L951.6 1035.4 L952.2 1018.0 L952.8 1017.5 L953.4 1036.6 L954.0 1017.4 L954.6 1011.5 L955.2 1045.7 L955.8 1023.2 L956.4 1021.0 L957.0 1025.3 L957.6 1028.2 L958.2 1028.7 L958.8 1020.2 L959.4 1022.0 L960.0 1025.4 L960.6 1029.8 L961.2 1024.2 L961.8 1024.6 L962.4 1025.4 L963.0 1027.8 L963.6 1029.8 L964.2 1021.4 L964.8 1033.8 L965.4 1024.4 L966.0 1028.0 L966.6 1021.9 L967.2 1015.7 L967.8 1031.0 L968.4 1022.7 L969.0 1021.7 L969.6 1030.0 L970.2 1026.7 L970.8 1020.3 L971.4 1022.4 L972.0 1026.1 L972.6 1021.1 L973.2 1031.4 L973.8 1032.1 L974.4 1023.5 L975.0 1027.1 L975.6 1028.5 L976.2 1029.4 L976.8 1016.5 L977.4 1022.8 L978.0 1032.5 L978.6 1031.8 L979.2 1019.8 L979.8 1028.0 L980.4 1035.4 L981.0 1033.7 L981.6 1029.6 L982.2 1015.7 L982.8 1041.5 L983.4 1015.8 L984.0 1036.2 L984.6 1018.0 L985.2 1035.7 L985.8 1034.6 L986.4 1030.7 L987.0 1027.7 L987.6 1011.6 L988.2 1028.5 L988.8 1026.0 L989.4 1031.8 L990.0 1019.7 L990.6 1036.2 L991.2 1019.0 L991.8 1008.4 L992.4 1001.5 L993.0 1031.7 L993.6 1019.6 L994.2 1023.2 L994.8 1017.6 L995.4 1025.7 L996.0 996.8 L996.6 1043.6 L997.2 1026.8 L997.8 1023.6 L998.4 1022.5 L999.0 1025.4 L999.6 1025.2 L1000.2 1017.5 L1000.8 1026.1 L1001.4 1027.4 L1002.0 1028.9 L1002.6 1050.7 L1003.2 1005.2 L1003.8 1052.0 L1004.4 1007.6 L1005.0 1033.8 L1005.6 1027.9 L1006.2 1042.9 L1006.8 1042.0 L1007.4 1026.3 L1008.0 1037.0 L1008.6 1025.6 L1009.2 1030.5 L1009.8 1023.2 L1010.4 1040.8 L1011.0 1039.9 L1011.6 1021.7 L1012.2 1035.2 L1012.8 1014.7 L1013.4 1036.4 L1014.0 1009.4 L1014.6 1047.8 L1015.2 1021.7 L1015.8 1035.0 L1016.4 1023.5 L1017.0 1032.6 L1017.6 1033.8 L1018.2 1026.1 L1018.8 1015.9 L1019.4 1032.6 L1020.0 1025.5 L1020.6 1021.7 L1021.2 1035.7 L1021.8 1025.6 L1022.4 1020.8 L1023.0 1018.1 L1023.6 1022.8 L1024.2 1023.0 L1024.8 1021.3 L1025.4 1032.6 L1026.0 1031.6 L1026.6 1022.2 L1027.2 1020.4 L1027.8 1006.3 L1028.4 1025.0 L1029.0 1014.2 L1029.6 1031.1 L1030.2 1020.4 L1030.8 1003.0 L1031.4 1033.0 L1032.0 1016.3 L1032.6 1012.2 L1033.2 1010.4 L1033.8 1018.1 L1034.4 1009.1 L1035.0 1024.0 L1035.6 1010.0 L1036.2 1024.5 L1036.8 1020.6 L1037.4 1018.2 L1038.0 1013.8 L1038.6 1018.4 L1039.2 1019.8 L1039.8 1023.3 L1040.4 1017.6 L1041.0 1021.1 L1041.6 1020.5 L1042.2 1027.1 L1042.8 1015.0 L1043.4 1032.3 L1044.0 1024.2 L1044.6 1015.5 L1045.2 1011.5 L1045.8 1039.4 L1046.4 1023.1 L1047.0 1027.5 L1047.6 1024.7 L1048.2 1020.3 L1048.8 1026.8 L1049.4 1040.0 L1050.0 1031.2 L1050.6 1022.2 L1051.2 1011.2 L1051.8 1015.6 L1052.4 1023.2 L1053.0 1026.3 L1053.6 1029.6 L1054.2 1020.4 L1054.8 1031.1 L1055.4 1010.3 L1056.0 1018.4 L1056.6 1015.1 L1057.2 1024.3 L1057.8 1006.1 L1058.4 1022.0 L1059.0 1015.4 L1059.6 1022.0 L1060.2 1003.0 L1060.8 1040.4 L1061.4 1026.7 L1062.0 1011.9 L1062.6 1030.4 L1063.2 1039.1 L1063.8 1004.6 L1064.4 1038.7 L1065.0 1044.1 L1065.6 1028.8 L1066.2 1007.3 L1066.8 1046.7 L1067.4 1018.0 L1068.0 1016.8 L1068.6 1042.7 L1069.2 1036.5 L1069.8 1037.3 L1070.4 1012.3 L1071.0 1030.5 L1071.6 1019.1 L1072.2 1019.9 L1072.8 1020.6 L1073.4 1011.8 L1074.0 1028.8 L1074.6 1002.8 L1075.2 1020.4 L1075.8 1034.2 L1076.4 1014.7 L1077.0 1030.1 L1077.6 1015.7 L1078.2 1031.8 L1078.8 1025.7 L1079.4 1023.0 L1080.0 1001.0 L1080.6 1039.4 L1081.2 1020.5 L1081.8 1012.7 L1082.4 1027.2 L1083.0 1009.3 L1083.6 1012.3 L1084.2 1021.9 L1084.8 1032.5 L1085.4 1027.2 L1086.0 1028.1 L1086.6 1013.9 L1087.2 1036.6 L1087.8 1029.3 L1088.4 1018.6 L1089.0 1026.1 L1089.6 1024.7 L1090.2 1017.9 L1090.8 1031.0 L1091.4 1028.7 L1092.0 1013.6 L1092.6 1035.0 L1093.2 1021.1 L1093.8 1028.6 L1094.4 1019.8 L1095.0 1018.7 L1095.6 1027.9 L1096.2 1018.7 L1096.8 1021.0 L1097.4 1027.7 L1098.0 1019.7 L1098.6 1031.3 L1099.2 1028.1 L1099.8 1027.8 L1100.4 1034.2 L1101.0 992.6 L1101.6 1048.8 L1102.2 1028.5 L1102.8 1025.5 L1103.4 1020.4 L1104.0 1024.8 L1104.6 1024.7 L1105.2 1015.9 L1105.8 1005.5 L1106.4 1017.6 L1107.0 1025.3 L1107.6 1009.5 L1108.2 1012.3 L1108.8 1015.8 L1109.4 1004.6 L1110.0 1018.6 L1110.6 998.9 L1111.2 1026.7 L1111.8 1006.0 L1112.4 1009.9 L1113.0 1016.4 L1113.6 1006.3 L1114.2 1015.7 L1114.8 1013.9 L1115.4 999.1 L1116.0 1002.9 L1116.6 1021.6 L1117.2 1016.7 L1117.8 1017.9 L1118.4 1007.4 L1119.0 1006.4 L1119.6 999.8 L1120.2 987.3 L1120.8 1018.3 L1121.4 1013.6 L1122.0 1011.7 L1122.6 1023.4 L1123.2 1014.3 L1123.8 1000.8 L1124.4 1018.1 L1125.0 1011.8 L1125.6 992.6 L1126.2 1045.7 L1126.8 1028.8 L1127.4 1031.9 L1128.0 1036.6 L1128.6 1023.1 L1129.2 1020.6 L1129.8 1010.1 L1130.4 1013.7 L1131.0 1016.4 L1131.6 1026.9 L1132.2 1024.6 L1132.8 1025.7 L1133.4 1020.2 L1134.0 1012.1 L1134.6 1011.1 L1135.2 1008.1 L1135.8 998.9 L1136.4 1029.9 L1137.0 1016.7 L1137.6 1024.8 L1138.2 1017.8 L1138.8 1024.3 L1139.4 1006.3 L1140.0 1004.3 L1140.6 1004.2 L1141.2 1002.6 L1141.8 1026.5 L1142.4 1024.6 L1143.0 1017.0 L1143.6 1023.2 L1144.2 1015.0 L1144.8 1021.1 L1145.4 1002.5 L1146.0 1022.9 L1146.6 987.3 L1147.2 1041.5 L1147.8 1021.3 L1148.4 1011.2 L1149.0 1016.5 L1149.6 1006.0 L1150.2 1014.9 L1150.8 1024.2 L1151.4 1009.7 L1152.0 1006.7 L1152.6 1014.8 L1153.2 1015.5 L1153.8 1025.5 L1154.4 1008.2 L1155.0 1018.8 L1155.6 1010.2 L1156.2 1017.3 L1156.8 1013.6 L1157.4 1016.7 L1158.0 1008.0 L1158.6 1002.2 L1159.2 998.9 L1159.8 1026.7 L1160.4 1013.8 L1161.0 1004.8 L1161.6 1020.3 L1162.2 1018.3 L1162.8 1016.6 L1163.4 1020.4 L1164.0 1018.9 L1164.6 1015.1 L1165.2 1014.6 L1165.8 1012.2 L1166.4 1019.3 L1167.0 1019.9 L1167.6 1021.7 L1168.2 1012.7 L1168.8 1018.9 L1169.4 1019.5 L1170.0 1007.3 L1170.6 1031.0 L1171.2 1013.1 L1171.8 1010.6 L1172.4 1015.7 L1173.0 1021.0 L1173.6 1014.8 L1174.2 1018.6 L1174.8 1017.1 L1175.4 1010.5 L1176.0 1028.5 L1176.6 1026.0 L1177.2 1021.0 L1177.8 1016.1 L1178.4 1030.4 L1179.0 994.7 L1179.6 1036.2 L1180.2 1008.2 L1180.8 1011.9 L1181.4 1028.1 L1182.0 1017.3 L1182.6 1015.4 L1183.2 1011.4 L1183.8 1009.4 L1184.4 1023.2 L1185.0 1022.6 L1185.6 1031.3 L1186.2 1007.6 L1186.8 1020.5 L1187.4 1019.1 L1188.0 1026.0 L1188.6 1023.6 L1189.2 1017.8 L1189.8 1027.2 L1190.4 1021.8 L1191.0 1022.6 L1191.6 1025.7 L1192.2 1030.9 L1192.8 1023.3 L1193.4 1021.2 L1194.0 1036.9 L1194.6 1015.6 L1195.2 1009.4 L1195.8 1038.3 L1196.4 1019.4 L1197.0 1017.8 L1197.6 1024.2 L1198.2 1031.5 L1198.8 1024.8 L1199.4 1020.8 L1200.0 1013.2 L1200.6 1019.3 L1201.2 1020.8 L1201.8 1025.4 L1202.4 1030.6 L1203.0 1019.4 L1203.6 1014.9 L1204.2 1024.0 L1204.8 1031.2 L1205.4 1026.3 L1206.0 1026.2 L1206.6 1027.3 L1207.2 1030.4 L1207.8 1007.3 L1208.4 1040.4 L1209.0 1031.1 L1209.6 1019.1 L1210.2 1018.0 L1210.8 1018.9 L1211.4 1020.2 L1212.0 1012.9 L1212.6 1026.0 L1213.2 1014.5 L1213.8 1026.5 L1214.4 1012.5 L1215.0 1012.4 L1215.6 1018.3 L1216.2 1010.8 L1216.8 1005.0 L1217.4 1008.0 L1218.0 1001.0 L1218.6 1028.8 L1219.2 1012.8 L1219.8 1013.3 L1220.4 1006.2 L1221.0 1017.6 L1221.6 1008.9 L1222.2 1008.0 L1222.8 1009.3 L1223.4 1001.4 L1224.0 1008.7 L1224.6 999.2 L1225.2 997.6 L1225.8 1004.0 L1226.4 983.0 L1227.0 1024.6 L1227.6 1018.1 L1228.2 996.7 L1228.8 1008.5 L1229.4 997.7 L1230.0 993.0 L1230.6 1018.5 L1231.2 1016.6 L1231.8 999.9 L1232.4 1008.5 L1233.0 1011.7 L1233.6 1006.3 L1234.2 1014.0 L1234.8 1001.0 L1235.4 1026.7 L1236.0 1011.6 L1236.6 1008.4 L1237.2 1004.7 L1237.8 1011.2 L1238.4 1002.6 L1239.0 1017.4 L1239.6 1017.8 L1240.2 1012.2 L1240.8 997.7 L1241.4 990.7 L1242.0 1000.7 L1242.6 1003.5 L1243.2 1009.6 L1243.8 1004.1 L1244.4 1008.8 L1245.0 1011.6 L1245.6 988.3 L1246.2 1026.7 L1246.8 1008.7 L1247.4 1021.1 L1248.0 1002.5 L1248.6 995.0 L1249.2 1003.3 L1249.8 1000.0 L1250.4 1015.8 L1251.0 1007.9 L1251.6 1009.0 L1252.2 1006.4 L1252.8 1014.3 L1253.4 997.5 L1254.0 985.2 L1254.6 1014.0 L1255.2 994.9 L1255.8 1005.9 L1256.4 1006.1 L1257.0 1000.3 L1257.6 999.0 L1258.2 1002.8 L1258.8 1002.5 L1259.4 992.2 L1260.0 1003.2 L1260.6 997.7 L1261.2 1014.0 L1261.8 992.0 L1262.4 980.0 L1263.0 1014.0 L1263.6 1000.4 L1264.2 999.9 L1264.8 993.9 L1265.4 1004.1 L1266.0 990.2 L1266.6 1007.4 L1267.2 997.0 L1267.8 1013.3 L1268.4 1001.7 L1269.0 1006.0 L1269.6 1010.9 L1270.2 1009.0 L1270.8 1018.7 L1271.4 1026.5 L1272.0 1003.4 L1272.6 1012.3 L1273.2 998.9 L1273.8 1028.8 L1274.4 1022.6 L1275.0 1012.4 L1275.6 1023.0 L1276.2 1006.6 L1276.8 1011.8 L1277.4 1014.2 L1278.0 1003.3 L1278.6 1010.6 L1279.2 1009.1 L1279.8 1023.4 L1280.4 1016.8 L1281.0 1014.9 L1281.6 996.8 L1282.2 1026.7 L1282.8 1001.4 L1283.4 1014.7 L1284.0 1010.6 L1284.6 1024.0 L1285.2 1016.4 L1285.8 1016.7 L1286.4 1013.9 L1287.0 1009.8 L1287.6 1013.8 L1288.2 1006.0 L1288.8 1012.5 L1289.4 1013.7 L1290.0 1018.1 L1290.6 1017.0 L1291.2 1010.1 L1291.8 1014.2 L1292.4 1026.0 L1293.0 1024.2 L1293.6 1012.5 L1294.2 998.9 L1294.8 1041.5 L1295.4 1023.2 L1296.0 1017.5 L1296.6 1029.8 L1297.2 1000.9 L1297.8 1015.9 L1298.4 1011.4 L1299.0 1015.7 L1299.6 1017.6 L1300.2 1018.0 L1300.8 1001.6 L1301.4 1005.5 L1302.0 1013.5 L1302.6 1008.6 L1303.2 1006.3 L1303.8 1014.5 L1304.4 994.7 L1305.0 1026.7 L1305.6 1007.2 L1306.2 1008.2 L1306.8 1020.1 L1307.4 1016.5 L1308.0 996.3 L1308.6 1011.5 L1309.2 1013.6 L1309.8 1019.7 L1310.4 1018.5 L1311.0 1009.2 L1311.6 1001.7 L1312.2 1017.0 L1312.8 1006.2 L1313.4 1008.1 L1314.0 1016.5 L1314.6 1009.0 L1315.2 1011.6 L1315.8 1014.0 L1316.4 1007.7 L1317.0 1014.9 L1317.6 1010.2 L1318.2 999.2 L1318.8 1013.8 L1319.4 1021.6 L1320.0 1021.2 L1320.6 1015.6 L1321.2 991.5 L1321.8 1031.0 L1322.4 1022.6 L1323.0 1017.2 L1323.6 1004.9 L1324.2 1010.2 L1324.8 1010.5 L1325.4 1006.9 L1326.0 1009.5 L1326.6 1014.8 L1327.2 1010.4 L1327.8 1013.7 L1328.4 1015.0 L1329.0 1005.2 L1329.6 1012.5 L1330.2 1012.1 L1330.8 1012.3 L1331.4 1011.2 L1332.0 1001.0 L1332.6 1024.6 L1333.2 1008.1 L1333.8 1006.5 L1334.4 1020.0 L1335.0 1009.8 L1335.6 1014.0 L1336.2 1024.0 L1336.8 1003.9 L1337.4 1017.3 L1338.0 1013.1 L1338.6 1018.5 L1339.2 1010.1 L1339.8 994.7 L1340.4 1022.5 L1341.0 999.6 L1341.6 1014.5 L1342.2 1019.7 L1342.8 1027.4 L1343.4 1008.1 L1344.0 1017.3 L1344.6 993.5 L1345.2 1022.1 L1345.8 1002.7 L1346.4 993.9 L1347.0 1020.2 L1347.6 1015.2 L1348.2 1012.0 L1348.8 1009.6 L1349.4 978.9 L1350.0 1043.6 L1350.6 1017.8 L1351.2 1013.9 L1351.8 1009.2 L1352.4 1009.5 L1353.0 1004.9 L1353.6 1006.4 L1354.2 1011.4 L1354.8 1015.7 L1355.4 1009.9 L1356.0 1009.7 L1356.6 990.7 L1357.2 1009.6 L1357.8 996.5 L1358.4 1006.3 L1359.0 990.5 L1359.6 1024.6 L1360.2 1009.3 L1360.8 997.2 L1361.4 1013.3 L1362.0 991.6 L1362.6 1008.7 L1363.2 1000.7 L1363.8 1004.0 L1364.4 998.5 L1365.0 999.2 L1365.6 994.0 L1366.2 1009.9 L1366.8 1003.6 L1367.4 1003.0 L1368.0 1013.2 L1368.6 995.7 L1369.2 1003.7 L1369.8 987.5 L1370.4 1003.8 L1371.0 1014.1 L1371.6 978.9 L1372.2 1016.0 L1372.8 1003.0 L1373.4 1000.2 L1374.0 992.7 L1374.6 986.3 L1375.2 997.5 L1375.8 994.8 L1376.4 1003.3 L1377.0 995.4 L1377.6 999.1 L1378.2 1006.3 L1378.8 992.4 L1379.4 1009.2 L1380.0 1000.2 L1380.6 1007.8 L1381.2 1011.4 L1381.8 1017.6 L1382.4 1005.7 L1383.0 1009.3 L1383.6 1016.8 L1384.2 985.2 L1384.8 1024.6 L1385.4 1007.2 L1386.0 1015.6 L1386.6 1003.0 L1387.2 1006.2 L1387.8 1000.3 L1388.4 1004.4 L1389.0 997.2 L1389.6 1012.1 L1390.2 996.4 L1390.8 1013.1 L1391.4 1009.2 L1392.0 1011.9 L1392.6 1014.0 L1393.2 1010.9 L1393.8 1010.8 L1394.4 1003.1 L1395.0 1022.4 L1395.6 1008.3 L1396.2 1007.8 L1396.8 996.8 L1397.4 1027.8 L1398.0 1021.7 L1398.6 1014.4 L1399.2 1009.6 L1399.8 1006.6 L1400.4 1001.6 L1401.0 1023.6 L1401.6 1009.5 L1402.2 1002.9 L1402.8 1005.5 L1403.4 1010.7 L1404.0 1000.6 L1404.6 1019.1 L1405.2 1003.3 L1405.8 1004.2 L1406.4 1003.3 L1407.0 1000.6 L1407.6 994.7 L1408.2 1020.4 L1408.8 1003.8 L1409.4 1007.4 L1410.0 1007.0 L1410.6 1000.2 L1411.2 1006.3 L1411.8 995.5 L1412.4 1009.9 L1413.0 999.3 L1413.6 976.8 L1414.2 1018.3 L1414.8 1001.9 L1415.4 994.2 L1416.0 991.8 L1416.6 1006.1 L1417.2 1001.6 L1417.8 983.3 L1418.4 999.8 L1419.0 989.0 L1419.6 1001.7 L1420.2 996.8 L1420.8 976.0 L1421.4 1014.0 L1422.0 977.9 L1422.6 968.1 L1423.2 974.7 L1423.8 984.6 L1424.4 949.4 L1425.0 995.0 L1425.6 983.9 L1426.2 982.8 L1426.8 996.3 L1427.4 979.0 L1428.0 1012.0 L1428.6 994.5 L1429.2 989.6 L1429.8 982.6 L1430.4 993.6 L1431.0 983.3 L1431.6 994.9 L1432.2 1005.0 L1432.8 999.0 L1433.4 996.3 L1434.0 983.3 L1434.6 980.0 L1435.2 1016.0 L1435.8 1011.8 L1436.4 999.0 L1437.0 996.9 L1437.6 1011.5 L1438.2 997.7 L1438.8 999.2 L1439.4 1008.9 L1440.0 1016.3 L1440.6 1003.9 L1441.2 994.8 L1441.8 1000.9 L1442.4 1005.8 L1443.0 1008.0 L1443.6 996.8 L1444.2 1022.5 L1444.8 1004.1 L1445.4 1001.7 L1446.0 1003.8 L1446.6 1018.3 L1447.2 1011.9 L1447.8 1013.2 L1448.4 1014.3 L1449.0 1003.6 L1449.6 1008.1 L1450.2 1005.5 L1450.8 1009.5 L1451.4 1004.1 L1452.0 1011.6 L1452.6 1001.6 L1453.2 1003.7 L1453.8 1003.9 L1454.4 1005.2 L1455.0 991.9 L1455.6 1001.3 L1456.2 985.2 L1456.8 1022.5 L1457.4 1011.9 L1458.0 1003.3 L1458.6 998.3 L1459.2 989.7 L1459.8 1000.0 L1460.4 998.6 L1461.0 1004.9 L1461.6 993.1 L1462.2 1007.8 L1462.8 999.4 L1463.4 1005.0 L1464.0 1007.1 L1464.6 1002.5 L1465.2 990.8 L1465.8 1000.0 L1466.4 1007.3 L1467.0 1020.5 L1467.6 997.0 L1468.2 1011.8 L1468.8 1010.8 L1469.4 1020.0 L1470.0 1015.3 L1470.6 998.9 L1471.2 999.0 L1471.8 1006.6 L1472.4 1007.5 L1473.0 999.2 L1473.6 1001.8 L1474.2 1004.5 L1474.8 984.0 L1475.4 1020.4 L1476.0 1010.8 L1476.6 1002.9 L1477.2 1003.8 L1477.8 1000.9 L1478.4 1000.4 L1479.0 1004.3 L1479.6 1004.2 L1480.2 1005.0 L1480.8 1001.6 L1481.4 1000.3 L1482.0 1012.2 L1482.6 997.6 L1483.2 996.8 L1483.8 1026.7 L1484.4 1022.7 L1485.0 1008.8 L1485.6 1018.4 L1486.2 1012.1 L1486.8 1007.2 L1487.4 1017.3 L1488.0 1016.0 L1488.6 1010.5 L1489.2 1015.6 L1489.8 1010.9 L1490.4 995.7 L1491.0 1008.0 L1491.6 1002.1 L1492.2 1000.1 L1492.8 1009.3 L1493.4 1006.0 L1494.0 1012.0 L1494.6 1004.3 L1495.2 1016.8 L1495.8 1010.2 L1496.4 1004.6 L1497.0 1012.8 L1497.6 1009.5 L1498.2 989.4 L1498.8 1024.6 L1499.4 1004.6 L1500.0 996.2 L1500.6 1010.2 L1501.2 1015.9 L1501.8 1014.7 L1502.4 1015.7 L1503.0 1012.1 L1503.6 1013.9 L1504.2 1003.3 L1504.8 1012.8 L1505.4 1013.9 L1506.0 1006.3 L1506.6 994.7 L1507.2 1019.3 L1507.8 1011.8 L1508.4 998.9 L1509.0 1004.1 L1509.6 1001.0 L1510.2 1002.9 L1510.8 994.6 L1511.4 1016.3 L1512.0 1003.6 L1512.6 1005.0 L1513.2 1000.5 L1513.8 992.6 L1514.4 996.6 L1515.0 977.8 L1515.6 1020.4 L1516.2 1007.5 L1516.8 1015.0 L1517.4 1005.4 L1518.0 998.6 L1518.6 991.1 L1519.2 1003.0 L1519.8 1004.7 L1520.4 999.7 L1521.0 1009.3 L1521.6 1007.4 L1522.2 1011.0 L1522.8 993.5 L1523.4 1008.5 L1524.0 1001.2 L1524.6 1013.4 L1525.2 992.6 L1525.8 1022.5 L1526.4 1006.7 L1527.0 1018.4 L1527.6 1006.2 L1528.2 1017.2 L1528.8 1020.1 L1529.4 1008.3 L1530.0 1007.5 L1530.6 996.0 L1531.2 1021.4 L1531.8 990.5 L1532.4 1032.0 L1533.0 1016.2 L1533.6 1008.9 L1534.2 1004.9 L1534.8 1006.3 L1535.4 1002.9 L1536.0 1011.8 L1536.6 1009.7 L1537.2 1009.5 L1537.8 1000.7 L1538.4 1012.8 L1539.0 1001.1 L1539.6 1001.3 L1540.2 1003.9 L1540.8 1006.4 L1541.4 1010.0 L1542.0 1007.9 L1542.6 1010.0 L1543.2 1000.8 L1543.8 1005.4 L1544.4 986.3 L1545.0 1024.6 L1545.6 1002.6 L1546.2 1002.4 L1546.8 1007.8 L1547.4 1009.2 L1548.0 1009.1 L1548.6 1004.5 L1549.2 1005.7 L1549.8 1009.2 L1550.4 1004.3 L1551.0 989.6 L1551.6 994.7 L1552.2 996.1 L1552.8 1002.0 L1553.4 1011.5 L1554.0 1000.1 L1554.6 1014.7 L1555.2 1009.4 L1555.8 1011.7 L1556.4 1012.2 L1557.0 992.6 L1557.6 1024.6 L1558.2 1001.9 L1558.8 1002.8 L1559.4 1009.0 L1560.0 1013.7 L1560.6 1010.0 L1561.2 1009.5 L1561.8 995.4 L1562.4 1003.8 L1563.0 1004.7 L1563.6 1009.1 L1564.2 995.0 L1564.8 992.1 L1565.4 1012.4 L1566.0 1008.7 L1566.6 1011.4 L1567.2 1007.0 L1567.8 1001.2 L1568.4 1005.9 L1569.0 1017.2 L1569.6 1005.4 L1570.2 995.4 L1570.8 1007.0 L1571.4 1018.4 L1572.0 985.2 L1572.6 1018.3 L1573.2 1011.4 L1573.8 1016.8 L1574.4 1005.9 L1575.0 1006.6 L1575.6 991.7 L1576.2 1006.0 L1576.8 1000.2 L1577.4 1009.8 L1578.0 1002.0 L1578.6 1001.6 L1579.2 1001.5 L1579.8 1004.7 L1580.4 1004.3 L1581.0 1009.9 L1581.6 1008.1 L1582.2 1000.9 L1582.8 1013.7 L1583.4 1008.6 L1584.0 1004.1 L1584.6 990.5 L1585.2 1022.5 L1585.8 1007.5 L1586.4 999.3 L1587.0 1006.0 L1587.6 1007.5 L1588.2 1020.8 L1588.8 1013.2 L1589.4 1006.4 L1590.0 1002.2 L1590.6 1006.1 L1591.2 1005.7 L1591.8 1010.2 L1592.4 999.7 L1593.0 1000.7 L1593.6 1003.9 L1594.2 1015.1 L1594.8 997.5 L1595.4 1009.1 L1596.0 1007.7 L1596.6 1003.4 L1597.2 988.3 L1597.8 1020.4 L1598.4 1007.5 L1599.0 1006.7 L1599.6 1003.6 L1600.2 1000.1 L1600.8 1004.9 L1601.4 1003.1 L1602.0 1002.9 L1602.6 1004.3 L1603.2 1018.5 L1603.8 1009.2 L1604.4 1002.8 L1605.0 998.1 L1605.6 1002.3 L1606.2 1011.5 L1606.8 999.4 L1607.4 1003.6 L1608.0 996.3 L1608.6 984.0 L1609.2 1022.5 L1609.8 1005.2 L1610.4 992.0 L1611.0 998.8 L1611.6 999.5 L1612.2 992.9 L1612.8 1007.7 L1613.4 995.4 L1614.0 987.2 L1614.6 1012.7 L1615.2 1004.6 L1615.8 1006.0 L1616.4 1002.2 L1617.0 999.1 L1617.6 1025.6 L1618.2 1009.3 L1618.8 1016.6 L1619.4 1011.8 L1620.0 983.0 L1620.6 1027.8 L1621.2 989.9 L1621.8 1010.1 L1622.4 1004.0 L1623.0 1005.4 L1623.6 1011.7 L1624.2 995.7 L1624.8 1010.9 L1625.4 1015.5 L1626.0 1007.3 L1626.6 1006.3 L1627.2 1001.2 L1627.8 1010.0 L1628.4 1003.4 L1629.0 1018.2 L1629.6 998.0 L1630.2 1013.3 L1630.8 1005.9 L1631.4 1013.1 L1632.0 1008.9 L1632.6 1030.5 L1633.2 1001.3 L1633.8 1007.7 L1634.4 1001.6 L1635.0 994.7 L1635.6 1031.0 L1636.2 1015.8 L1636.8 1015.8 L1637.4 1010.1 L1638.0 1011.5 L1638.6 1014.2 L1639.2 1010.6 L1639.8 1013.5 L1640.4 1001.5 L1641.0 1013.3 L1641.6 1008.4 L1642.2 1001.4 L1642.8 1016.0 L1643.4 1000.6 L1644.0 994.6 L1644.6 1014.5 L1645.2 1009.9 L1645.8 983.0 L1646.4 1024.6 L1647.0 985.3 L1647.6 1014.7 L1648.2 1002.4 L1648.8 1000.6 L1649.4 1014.8 L1650.0 994.5 L1650.6 1003.8 L1651.2 1004.4 L1651.8 1013.1 L1652.4 1012.8 L1653.0 1008.2 L1653.6 1008.3 L1654.2 1016.5 L1654.8 1002.4 L1655.4 1009.0 L1656.0 982.0 L1656.6 1033.0 L1657.2 994.1 L1657.8 989.9 L1658.4 1006.8 L1659.0 1007.3 L1659.6 1020.7 L1660.2 1013.6 L1660.8 1012.6 L1661.4 1013.0 L1662.0 1012.8 L1662.6 1012.7 L1663.2 1000.1 L1663.8 1010.3 L1664.4 988.3 L1665.0 1026.7 L1665.6 1010.7 L1666.2 990.5 L1666.8 1008.2 L1667.4 999.8 L1668.0 1002.1 L1668.6 1004.1 L1669.2 997.7 L1669.8 1008.8 L1670.4 1011.8 L1671.0 997.2 L1671.6 999.9 L1672.2 999.7 L1672.8 984.0 L1673.4 1020.4 L1674.0 1016.9 L1674.6 996.8 L1675.2 1001.5 L1675.8 1002.8 L1676.4 1007.4 L1677.0 1001.9 L1677.6 1017.9 L1678.2 995.6 L1678.8 1001.8 L1679.4 1004.0 L1680.0 1000.4 L1680.6 1006.7 L1681.2 1006.2 L1681.8 993.7 L1682.4 1004.4 L1683.0 1013.4 L1683.6 1005.1 L1684.2 999.8 L1684.8 1008.2 L1685.4 992.6 L1686.0 1016.0 L1686.6 1002.4 L1687.2 1011.0 L1687.8 1002.2 L1688.4 1009.8 L1689.0 1006.3 L1689.6 1002.6 L1690.2 1000.5 L1690.8 1003.9 L1691.4 1009.4 L1692.0 1002.7 L1692.6 1001.1 L1693.2 1008.4 L1693.8 999.2 L1694.4 1011.5 L1695.0 999.8 L1695.6 1005.1 L1696.2 989.4 L1696.8 1019.3 L1697.4 1007.7 L1698.0 1008.7 L1698.6 1011.0 L1699.2 1012.4 L1699.8 1005.5 L1700.4 1002.6 L1701.0 1003.8 L1701.6 1007.4 L1702.2 992.0 L1702.8 1003.5 L1703.4 1007.9 L1704.0 1007.2 L1704.6 1001.3 L1705.2 1006.4 L1705.8 1010.6 L1706.4 1020.5 L1707.0 1011.2 L1707.6 995.1 L1708.2 1017.6 L1708.8 994.7 L1709.4 1026.7 L1710.0 1012.3 L1710.6 1005.2 L1711.2 1013.3 L1711.8 1010.9 L1712.4 1012.2 L1713.0 1012.4 L1713.6 1008.8 L1714.2 1021.6 L1714.8 1009.6 L1715.4 1010.6 L1716.0 1001.9 L1716.6 1012.5 L1717.2 1007.6 L1717.8 1010.9 L1718.4 1015.1 L1719.0 1009.7 L1719.6 998.9 L1720.2 1020.4 L1720.8 1003.7 L1721.4 1017.9 L1722.0 1002.3 L1722.6 1006.1 L1723.2 1006.7 L1723.8 1015.5 L1724.4 1014.5 L1725.0 1005.7 L1725.6 1010.9 L1726.2 1004.7 L1726.8 1007.8 L1727.4 1014.8 L1728.0 1007.4 L1728.6 1002.2 L1729.2 1008.1 L1729.8 992.6 L1730.4 1018.3 L1731.0 994.9 L1731.6 1009.1 L1732.2 1005.4 L1732.8 1014.8 L1733.4 1005.0 L1734.0 1009.7 L1734.6 999.6 L1735.2 1005.9 L1735.8 999.7 L1736.4 1011.7 L1737.0 1000.5 L1737.6 1001.2 L1738.2 998.5 L1738.8 994.3 L1739.4 993.4 L1740.0 984.0 L1740.6 1016.0 L1741.2 994.1 L1741.8 1002.4 L1742.4 1000.6 L1743.0 1006.5 L1743.6 1008.4 L1744.2 978.9 L1744.8 1018.3 L1745.4 1006.8 L1746.0 1003.8 L1746.6 1004.6 L1747.2 1014.3 L1747.8 1000.0 L1748.4 1005.1 L1749.0 1007.0 L1749.6 1005.8 L1750.2 1002.2 L1750.8 1005.7 L1751.4 1003.2 L1752.0 998.9 L1752.6 1024.6 L1753.2 1001.7 L1753.8 1016.3 L1754.4 1019.6 L1755.0 1007.3 L1755.6 1009.4 L1756.2 1019.2 L1756.8 995.6 L1757.4 1015.1 L1758.0 1016.5 L1758.6 1003.4 L1759.2 1008.2 L1759.8 1014.9 L1760.4 1004.5 L1761.0 1007.4 L1761.6 1005.1 L1762.2 997.2 L1762.8 1009.7 L1763.4 1017.7 L1764.0 999.4 L1764.6 985.2 L1765.2 1024.6 L1765.8 999.4 L1766.4 1002.7 L1767.0 1000.7 L1767.6 1002.5 L1768.2 1017.8 L1768.8 1018.9 L1769.4 1008.8 L1770.0 1019.3 L1770.6 1013.7 L1771.2 1007.5 L1771.8 985.8 L1772.4 1008.5 L1773.0 1003.4 L1773.6 1002.4 L1774.2 997.8 L1774.8 990.3 L1775.4 990.3 L1776.0 1006.7 L1776.6 997.5 L1777.2 999.2 L1777.8 1000.8 L1778.4 1000.1 L1779.0 984.0 L1779.6 1016.0 L1780.2 1006.9 L1780.8 990.0 L1781.4 991.4 L1782.0 1009.9 L1782.6 996.1 L1783.2 1003.6 L1783.8 1012.7 L1784.4 1002.4 L1785.0 994.2 L1785.6 995.4 L1786.2 1005.2 L1786.8 1000.5 L1787.4 1005.5 L1788.0 990.3 L1788.6 996.6 L1789.2 1000.5 L1789.8 981.0 L1790.4 1018.3 L1791.0 996.1 L1791.6 991.1 L1792.2 998.6 L1792.8 1005.1 L1793.4 1003.8 L1794.0 1001.1 L1794.6 1008.9 L1795.2 1001.1 L1795.8 1010.9 L1796.4 997.1 L1797.0 1003.2 L1797.6 1009.9 L1798.2 1000.6 L1798.8 1000.0 L1799.4 1007.6 L1800.0 997.4 L1800.6 1001.5 L1801.2 1007.2 L1801.8 1000.1 L1802.4 995.7 L1803.0 1019.3 L1803.6 1005.2 L1804.2 1003.6 L1804.8 1007.8 L1805.4 998.5 L1806.0 1007.7 L1806.6 1002.0 L1807.2 1008.9 L1807.8 1005.2 L1808.4 1008.4 L1809.0 1012.4 L1809.6 1015.1 L1810.2 1006.0 L1810.8 1013.1 L1811.4 1011.7 L1812.0 1003.1 L1812.6 1011.9 L1813.2 1002.3 L1813.8 1009.2 L1814.4 1012.0 L1815.0 995.7 L1815.6 1022.5 L1816.2 1014.7 L1816.8 1008.3 L1817.4 1005.6 L1818.0 1002.9 L1818.6 1005.8 L1819.2 1014.0 L1819.8 1020.6 L1820.4 1007.5 L1821.0 1010.2 L1821.6 1007.2 L1822.2 1009.6 L1822.8 1007.8 L1823.4 1003.9 L1824.0 1005.6 L1824.6 1009.9 L1825.2 1011.1 L1825.8 1011.0 L1826.4 1005.5 L1827.0 999.4 L1827.6 992.6 L1828.2 1020.4 L1828.8 1010.0 L1829.4 1000.9 L1830.0 1008.6 L1830.6 1005.5 L1831.2 1009.8 L1831.8 1002.8 L1832.4 1018.5 L1833.0 1001.9 L1833.6 1000.4 L1834.2 989.5 L1834.8 1007.2 L1835.4 1005.5 L1836.0 992.9 L1836.6 993.4 L1837.2 1003.6 L1837.8 985.2 L1838.4 1019.3 L1839.0 992.5 L1839.6 1007.4 L1840.2 1004.0 L1840.8 1001.2 L1841.4 1004.8 L1842.0 1004.4 L1842.6 1004.0 L1843.2 1001.9 L1843.8 991.7 L1844.4 1002.8 L1845.0 993.4 L1845.6 995.3 L1846.2 1001.5 L1846.8 1009.3 L1847.4 994.4 L1848.0 1004.5 L1848.6 973.6 L1849.2 1022.5 L1849.8 1016.8 L1850.4 987.8 L1851.0 1020.3 L1851.6 989.0 L1852.2 1011.0 L1852.8 998.5 L1853.4 997.7 L1854.0 1004.7 L1854.6 1002.0 L1855.2 1009.9 L1855.8 1006.6 L1856.4 1014.5 L1857.0 1008.7 L1857.6 1012.7 L1858.2 990.5 L1858.8 1034.0 L1859.4 1012.8 L1860.0 1017.5 L1860.6 994.5 L1861.2 1000.7 L1861.8 1012.5 L1862.4 988.0 L1863.0 1006.6 L1863.6 983.0 L1864.2 1026.7 L1864.8 983.6 L1865.4 997.5 L1866.0 1017.3 L1866.6 992.5 L1867.2 1012.8 L1867.8 1005.8 L1868.4 1004.7 L1869.0 999.5 L1869.6 1012.1 L1870.2 1007.9 L1870.8 1002.8 L1871.4 1010.3 L1872.0 1001.5 L1872.6 996.5 L1873.2 1001.4 L1873.8 1002.9 L1874.4 1004.4 L1875.0 1005.5 L1875.6 998.9 L1876.2 982.0 L1876.8 1024.6 L1877.4 1013.6 L1878.0 1008.6 L1878.6 1007.3 L1879.2 1009.0 L1879.8 996.5 L1880.4 1004.4 L1881.0 1007.8 L1881.6 1000.0 L1882.2 1000.1 L1882.8 1003.7 L1883.4 998.7 L1884.0 987.9 L1884.6 990.5 L1885.2 1018.3 L1885.8 1008.7 L1886.4 994.1 L1887.0 1013.3 L1887.6 1007.8 L1888.2 1001.1 L1888.8 986.9 L1889.4 998.3 L1890.0 996.4 L1890.6 996.5 L1891.2 994.3 L1891.8 1000.3 L1892.4 1005.7 L1893.0 973.6 L1893.6 1020.4 L1894.2 981.9 L1894.8 1004.1 L1895.4 1000.0 L1896.0 1007.9 L1896.6 1008.8 L1897.2 1001.6 L1897.8 1002.5 L1898.4 1003.8 L1899.0 1002.1 L1899.6 1020.7 L1900.2 994.6 L1900.8 1007.1 L1901.4 1018.8 L1902.0 997.1 L1902.6 973.6 L1903.2 1026.7 L1903.8 1004.5 L1904.4 1001.4 L1905.0 1013.0 L1905.6 1010.5 L1906.2 1002.3 L1906.8 1003.5 L1907.4 1004.6 L1908.0 1018.4 L1908.6 1013.3 L1909.2 1000.5 L1909.8 990.5 L1910.4 1026.7 L1911.0 1007.6 L1911.6 1009.9 L1912.2 997.7 L1912.8 999.2 L1913.4 1003.9 L1914.0 1001.3 L1914.6 1002.7 L1915.2 998.2 L1915.8 1003.3 L1916.4 1011.4 L1917.0 1009.5 L1917.6 1002.9 L1918.2 984.2 L1918.8 1015.9 L1919.4 1000.1 L1920.0 1008.2 L1920.6 1002.0 L1921.2 1004.4 L1921.8 999.8 L1922.4 982.0 L1923.0 1022.5 L1923.6 1002.7 L1924.2 1011.5 L1924.8 1001.7 L1925.4 1001.9 L1926.0 1018.8 L1926.6 999.4 L1927.2 1009.3 L1927.8 1003.8 L1928.4 999.4 L1929.0 991.9 L1929.6 1005.8 L1930.2 1009.5 L1930.8 1004.6 L1931.4 1012.4 L1932.0 1002.9 L1932.6 1007.5 L1933.2 998.6 L1933.8 993.0 L1934.4 996.7 L1935.0 996.5 L1935.6 986.3 L1936.2 1016.0" stroke="#515151"/>
<path d="M144.0 859.0 L144.6 886.7 L145.2 867.6 L145.8 863.7 L146.4 866.0 L147.0 868.2 L147.6 865.0 L148.2 849.7 L148.8 881.3 L149.4 874.3 L150.0 851.2 L150.6 847.3 L151.2 894.0 L151.8 872.2 L152.4 847.3 L153.0 865.7 L153.6 884.0 L154.2 855.0 L154.8 868.4 L155.4 847.7 L156.0 871.7 L156.6 863.9 L157.2 853.2 L157.8 867.0 L158.4 847.3 L159.0 847.3 L159.6 874.0 L160.2 855.8 L160.8 859.2 L161.4 850.0 L162.0 857.7 L162.6 853.5 L163.2 864.4 L163.8 853.0 L164.4 845.4 L165.0 855.3 L165.6 852.5 L166.2 859.9 L166.8 850.7 L167.4 850.0 L168.0 856.8 L168.6 864.6 L169.2 834.7 L169.8 866.7 L170.4 853.5 L171.0 843.3 L171.6 859.2 L172.2 854.8 L172.8 861.6 L173.4 858.4 L174.0 848.7 L174.6 841.2 L175.2 843.6 L175.8 847.0 L176.4 853.0 L177.0 846.3 L177.6 832.5 L178.2 831.5 L178.8 855.0 L179.4 834.0 L180.0 836.1 L180.6 843.8 L181.2 851.1 L181.8 848.8 L182.4 833.2 L183.0 823.0 L183.6 860.4 L184.2 841.7 L184.8 857.1 L185.4 853.9 L186.0 857.8 L186.6 855.4 L187.2 864.9 L187.8 839.9 L188.4 851.8 L189.0 863.3 L189.6 852.7 L190.2 850.0 L190.8 858.3 L191.4 857.7 L192.0 858.1 L192.6 849.4 L193.2 871.0 L193.8 864.1 L194.4 856.0 L195.0 868.1 L195.6 869.7 L196.2 856.0 L196.8 856.3 L197.4 856.9 L198.0 859.2 L198.6 860.7 L199.2 843.0 L199.8 854.8 L200.4 869.1 L201.0 855.6 L201.6 867.1 L202.2 844.8 L202.8 858.8 L203.4 839.0 L204.0 872.0 L204.6 871.2 L205.2 860.0 L205.8 867.2 L206.4 855.9 L207.0 846.1 L207.6 872.3 L208.2 865.1 L208.8 855.1 L209.4 853.8 L210.0 854.0 L210.6 844.4 L211.2 858.5 L211.8 848.4 L212.4 873.9 L213.0 850.9 L213.6 854.0 L214.2 863.5 L214.8 842.0 L215.4 863.4 L216.0 858.4 L216.6 852.0 L217.2 863.3 L217.8 836.8 L218.4 876.2 L219.0 835.9 L219.6 853.4 L220.2 863.4 L220.8 842.0 L221.4 860.2 L222.0 873.6 L222.6 848.0 L223.2 851.9 L223.8 844.3 L224.4 849.7 L225.0 840.7 L225.6 846.4 L226.2 834.3 L226.8 858.9 L227.4 866.3 L228.0 843.9 L228.6 826.9 L229.2 863.0 L229.8 847.8 L230.4 852.5 L231.0 824.7 L231.6 824.0 L232.2 874.0 L232.8 866.2 L233.4 851.9 L234.0 826.9 L234.6 830.9 L235.2 875.4 L235.8 836.4 L236.4 853.5 L237.0 844.0 L237.6 861.8 L238.2 875.6 L238.8 835.7 L239.4 877.3 L240.0 862.6 L240.6 838.2 L241.2 842.9 L241.8 837.6 L242.4 848.7 L243.0 843.7 L243.6 834.7 L244.2 865.7 L244.8 845.5 L245.4 838.2 L246.0 858.9 L246.6 862.4 L247.2 866.8 L247.8 855.6 L248.4 845.9 L249.0 853.1 L249.6 850.6 L250.2 868.6 L250.8 859.4 L251.4 854.5 L252.0 846.6 L252.6 843.8 L253.2 859.4 L253.8 841.0 L254.4 874.0 L255.0 855.3 L255.6 856.8 L256.2 865.5 L256.8 856.5 L257.4 875.7 L258.0 855.5 L258.6 867.0 L259.2 857.6 L259.8 864.0 L260.4 877.0 L261.0 853.4 L261.6 870.3 L262.2 856.8 L262.8 873.0 L263.4 876.1 L264.0 867.1 L264.6 859.9 L265.2 853.1 L265.8 875.5 L266.4 875.6 L267.0 861.5 L267.6 865.9 L268.2 850.7 L268.8 867.6 L269.4 848.9 L270.0 862.6 L270.6 848.4 L271.2 886.7 L271.8 864.0 L272.4 877.7 L273.0 879.6 L273.6 887.3 L274.2 852.1 L274.8 855.4 L275.4 861.5 L276.0 859.4 L276.6 882.3 L277.2 868.3 L277.8 859.4 L278.4 861.7 L279.0 877.1 L279.6 861.1 L280.2 872.1 L280.8 840.9 L281.4 830.5 L282.0 888.9 L282.6 846.7 L283.2 832.2 L283.8 856.3 L284.4 849.1 L285.0 851.4 L285.6 837.8 L286.2 887.8 L286.8 845.0 L287.4 849.6 L288.0 884.8 L288.6 858.0 L289.2 855.5 L289.8 858.6 L290.4 879.5 L291.0 879.5 L291.6 867.5 L292.2 868.8 L292.8 860.8 L293.4 863.1 L294.0 837.8 L294.6 872.0 L295.2 851.7 L295.8 855.0 L296.4 864.6 L297.0 876.5 L297.6 847.7 L298.2 837.3 L298.8 860.4 L299.4 860.7 L300.0 863.7 L300.6 859.0 L301.2 871.2 L301.8 838.1 L302.4 861.9 L303.0 853.0 L303.6 850.9 L304.2 850.7 L304.8 845.6 L305.4 860.7 L306.0 861.1 L306.6 839.0 L307.2 875.2 L307.8 835.8 L308.4 870.2 L309.0 839.9 L309.6 841.1 L310.2 847.2 L310.8 837.2 L311.4 842.5 L312.0 852.0 L312.6 852.6 L313.2 844.9 L313.8 833.6 L314.4 873.0 L315.0 851.6 L315.6 860.6 L316.2 875.3 L316.8 867.6 L317.4 848.6 L318.0 854.9 L318.6 846.2 L319.2 844.2 L319.8 876.2 L320.4 852.2 L321.0 868.6 L321.6 864.1 L322.2 856.1 L322.8 861.2 L323.4 850.4 L324.0 853.3 L324.6 860.7 L325.2 851.5 L325.8 871.0 L326.4 863.8 L327.0 867.7 L327.6 846.5 L328.2 846.2 L328.8 851.9 L329.4 859.7 L330.0 871.3 L330.6 852.9 L331.2 846.4 L331.8 832.6 L332.4 869.9 L333.0 864.5 L333.6 857.1 L334.2 860.2 L334.8 826.1 L335.4 833.1 L336.0 854.0 L336.6 825.2 L337.2 830.0 L337.8 861.5 L338.4 846.7 L338.6 852.0 L339.2 834.0 L339.8 853.0 L340.2 828.0 L340.2 800.0 L341.2 795.0 L341.2 761.0 L340.9 757.0 L341.7 765.0 L341.8 782.0 L343.8 787.0 L343.8 818.0 L342.5 850.0 L344.5 826.0 L345.5 851.0 L346.5 824.0 L347.5 850.0 L349.5 822.0 L350.5 851.0 L351.0 851.0 L351.6 851.6 L352.2 847.0 L352.8 833.6 L353.4 855.0 L354.0 834.9 L354.6 849.6 L355.2 857.5 L355.8 855.3 L356.4 830.8 L357.0 829.5 L357.6 847.9 L358.2 845.7 L358.8 863.8 L359.4 831.5 L360.0 867.8 L360.6 845.6 L361.2 839.6 L361.8 854.0 L362.4 862.9 L363.0 854.6 L363.6 848.2 L364.2 843.1 L364.8 859.5 L365.4 848.4 L366.0 851.6 L366.6 846.3 L367.2 867.8 L367.8 855.4 L368.4 853.7 L369.0 853.2 L369.6 839.1 L370.2 868.5 L370.8 846.9 L371.4 859.2 L372.0 845.2 L372.6 855.9 L373.2 862.6 L373.8 841.1 L374.4 839.2 L375.0 866.8 L375.6 849.4 L376.2 854.4 L376.8 833.6 L377.4 884.6 L378.0 882.1 L378.6 842.7 L379.2 872.7 L379.8 853.4 L380.4 855.8 L381.0 873.3 L381.6 837.8 L382.2 857.3 L382.8 833.6 L383.4 833.6 L384.0 865.7 L384.6 852.3 L385.2 858.6 L385.8 852.7 L386.4 835.3 L387.0 862.8 L387.6 841.7 L388.2 843.5 L388.8 859.4 L389.4 847.1 L390.0 850.6 L390.6 848.5 L391.2 862.4 L391.8 847.9 L392.4 845.5 L393.0 869.1 L393.6 851.9 L394.2 875.4 L394.8 840.0 L395.4 882.5 L396.0 870.6 L396.6 880.6 L397.2 851.5 L397.8 854.1 L398.4 846.1 L399.0 873.2 L399.6 880.2 L400.2 843.1 L400.8 853.5 L401.4 842.0 L402.0 876.2 L402.6 878.4 L403.2 854.5 L403.8 863.7 L404.4 863.5 L405.0 877.2 L405.6 864.4 L406.2 876.5 L406.8 860.7 L407.4 860.0 L408.0 875.2 L408.6 864.9 L409.2 862.4 L409.8 868.0 L410.4 876.4 L411.0 858.4 L411.6 867.8 L412.2 857.6 L412.8 865.8 L413.4 868.8 L414.0 878.5 L414.6 864.9 L415.2 859.3 L415.8 864.3 L416.4 869.6 L417.0 846.6 L417.6 868.0 L418.2 850.5 L418.8 880.4 L419.4 850.5 L420.0 880.2 L420.6 864.9 L421.2 870.7 L421.8 870.5 L422.4 869.6 L423.0 861.8 L423.6 861.0 L424.2 874.6 L424.8 843.5 L425.4 838.5 L426.0 863.1 L426.6 833.6 L427.2 878.3 L427.8 854.1 L428.4 845.7 L429.0 846.1 L429.6 842.9 L430.2 865.5 L430.8 863.1 L431.4 836.1 L432.0 865.7 L432.6 846.8 L433.2 861.4 L433.8 852.7 L434.4 855.6 L435.0 827.9 L435.6 849.3 L436.2 850.6 L436.8 831.5 L437.4 859.4 L438.0 842.5 L438.6 832.8 L439.2 843.5 L439.8 849.0 L440.4 842.1 L441.0 826.5 L441.6 815.7 L442.2 855.0 L442.8 849.6 L443.4 836.4 L444.0 831.7 L444.6 822.7 L445.2 832.6 L445.8 825.8 L446.4 810.4 L447.0 838.3 L447.6 820.5 L448.2 827.8 L448.8 820.7 L449.4 835.2 L450.0 827.0 L450.6 844.1 L451.2 834.7 L451.8 852.5 L452.4 858.5 L453.0 862.7 L453.6 843.8 L454.2 821.0 L454.8 865.7 L455.4 843.2 L456.0 863.4 L456.6 837.1 L457.2 850.0 L457.8 852.9 L458.4 847.6 L459.0 859.8 L459.6 837.1 L460.2 854.1 L460.8 855.0 L461.4 849.1 L462.0 840.6 L462.6 840.0 L463.2 865.7 L463.8 852.9 L464.4 849.7 L465.0 854.6 L465.6 843.9 L466.2 857.0 L466.8 860.3 L467.4 846.3 L468.0 868.8 L468.6 855.5 L469.2 859.7 L469.8 861.0 L470.4 850.8 L471.0 855.8 L471.6 867.8 L472.2 858.5 L472.8 855.3 L473.4 858.4 L474.0 863.1 L474.6 848.5 L475.2 862.9 L475.8 852.6 L476.4 859.2 L477.0 860.7 L477.6 861.0 L478.2 857.7 L478.8 856.1 L479.4 850.5 L480.0 872.0 L480.6 859.1 L481.2 866.6 L481.8 843.3 L482.4 848.2 L483.0 865.3 L483.6 853.2 L484.2 868.2 L484.8 842.0 L485.4 840.0 L486.0 871.0 L486.6 857.9 L487.2 857.9 L487.8 847.5 L488.4 849.0 L489.0 849.5 L489.6 869.1 L490.2 868.4 L490.8 873.9 L491.4 863.0 L492.0 873.8 L492.6 872.0 L493.2 856.8 L493.8 867.9 L494.4 875.9 L495.0 851.9 L495.6 869.0 L496.2 846.3 L496.8 885.7 L497.4 864.3 L498.0 858.3 L498.6 856.0 L499.2 864.3 L499.8 867.9 L500.4 872.0 L501.0 869.2 L501.6 859.1 L502.2 864.4 L502.8 853.2 L503.4 850.0 L504.0 861.2 L504.6 857.0 L505.2 838.5 L505.8 833.6 L506.4 878.3 L507.0 852.4 L507.6 852.9 L508.2 852.1 L508.8 858.3 L509.4 872.7 L510.0 846.5 L510.6 848.8 L511.2 845.5 L511.8 868.4 L512.4 852.2 L513.0 865.1 L513.6 875.6 L514.2 859.1 L514.8 839.0 L515.4 876.2 L516.0 866.7 L516.6 874.9 L517.2 846.5 L517.8 850.3 L518.4 857.2 L519.0 852.0 L519.6 859.0 L520.2 854.4 L520.8 851.2 L521.4 855.9 L522.0 858.0 L522.6 851.1 L523.2 850.8 L523.8 855.6 L524.4 848.0 L525.0 858.9 L525.6 846.3 L526.2 867.8 L526.8 859.7 L527.4 851.9 L528.0 856.5 L528.6 857.4 L529.2 865.0 L529.8 840.1 L530.4 856.3 L531.0 846.1 L531.6 855.0 L532.2 843.4 L532.8 843.2 L533.4 860.6 L534.0 845.8 L534.6 835.5 L535.2 849.0 L535.8 837.8 L536.4 830.5 L537.0 857.2 L537.6 850.4 L538.2 850.3 L538.8 859.7 L539.4 844.9 L540.0 831.5 L540.6 861.5 L541.2 844.7 L541.8 860.4 L542.4 845.9 L543.0 834.9 L543.6 853.7 L544.2 850.7 L544.8 848.4 L545.4 864.2 L546.0 847.2 L546.6 852.8 L547.2 852.5 L547.8 859.6 L548.4 859.8 L549.0 834.5 L549.6 834.7 L550.2 867.8 L550.8 861.3 L551.4 854.8 L552.0 836.2 L552.6 850.0 L553.2 856.4 L553.8 849.1 L554.4 861.6 L555.0 864.1 L555.6 847.0 L556.2 869.8 L556.8 849.4 L557.4 849.6 L558.0 854.4 L558.6 854.6 L559.2 872.8 L559.8 841.0 L560.4 875.2 L561.0 860.4 L561.6 845.3 L562.2 847.4 L562.8 850.8 L563.4 865.2 L564.0 857.8 L564.6 846.7 L565.2 838.6 L565.8 838.8 L566.4 851.2 L567.0 836.8 L567.6 838.6 L568.2 840.1 L568.8 842.6 L569.4 848.4 L570.0 853.0 L570.6 848.0 L571.2 854.9 L571.8 839.0 L572.4 862.5 L573.0 861.3 L573.6 835.5 L574.2 845.8 L574.8 835.1 L575.4 839.6 L576.0 835.3 L576.6 845.9 L577.2 837.5 L577.8 840.4 L578.4 838.7 L579.0 825.2 L579.6 851.0 L580.2 833.1 L580.8 849.4 L581.4 839.9 L582.0 843.0 L582.6 853.0 L583.2 854.3 L583.8 840.3 L584.4 821.0 L585.0 848.8 L585.6 844.3 L586.2 834.2 L586.8 855.2 L587.4 870.7 L588.0 827.3 L588.6 874.0 L589.2 841.8 L589.8 840.9 L590.4 848.6 L591.0 845.8 L591.6 854.4 L592.2 830.6 L592.8 844.1 L593.4 835.9 L593.8 847.0 L595.2 844.7 L592.6 842.3 L595.3 840.0 L592.8 837.7 L595.4 835.3 L592.9 833.0 L595.6 830.7 L593.0 828.3 L595.7 826.0 L593.2 823.7 L595.8 821.3 L593.3 819.0 L596.0 816.7 L593.4 814.3 L594.8 812.0 L596.3 814.3 L594.0 816.6 L596.8 818.9 L594.4 821.1 L597.2 823.4 L594.9 825.7 L596.4 828.0 L597.8 825.7 L595.4 823.4 L598.1 821.1 L595.6 818.9 L598.3 816.6 L595.9 814.3 L597.3 812.0 L598.8 814.0 L596.5 816.0 L599.3 818.0 L598.3 820.0 L597.1 817.6 L599.9 815.2 L597.5 812.8 L600.2 810.4 L597.8 807.9 L600.5 805.5 L598.1 803.1 L599.5 800.7 L601.1 798.5 L598.9 796.2 L601.8 794.0 L599.6 791.7 L601.2 789.5 L602.6 787.2 L600.0 784.9 L602.7 782.6 L600.1 780.3 L601.5 778.0 L603.2 775.8 L600.9 773.6 L603.9 771.4 L601.6 769.2 L603.3 767.0 L604.7 764.8 L602.2 762.6 L605.0 760.4 L602.5 758.2 L603.9 756.0 L605.6 753.8 L603.4 751.6 L606.3 749.4 L604.1 747.2 L605.8 745.0 L607.3 742.7 L604.9 740.4 L607.6 738.2 L605.2 735.9 L606.7 733.6 L608.2 731.3 L605.7 729.0 L608.5 726.6 L606.0 724.3 L607.5 722.0 L608.9 719.8 L606.4 717.5 L609.1 715.2 L607.9 713.0 L606.7 715.2 L609.4 717.5 L607.0 719.8 L608.4 722.0 L609.8 724.3 L607.4 726.6 L610.1 729.0 L607.7 731.3 L609.1 733.6 L610.7 735.9 L608.5 738.2 L611.4 740.4 L609.2 742.7 L610.8 745.0 L612.5 747.2 L610.3 749.4 L613.3 751.6 L611.1 753.8 L612.8 756.0 L614.5 758.2 L612.2 760.4 L615.2 762.6 L612.9 764.8 L614.6 767.0 L616.3 769.2 L614.1 771.4 L617.1 773.6 L614.9 775.8 L616.6 778.0 L618.3 780.3 L616.1 782.6 L619.2 784.9 L617.0 787.2 L618.7 789.5 L620.1 791.8 L617.6 794.1 L620.2 796.4 L617.7 798.8 L620.4 801.1 L617.9 803.4 L620.5 805.7 L619.3 808.0 L618.3 810.3 L621.2 812.7 L620.2 815.0 L619.0 812.8 L621.8 810.6 L619.3 808.3 L622.1 806.1 L619.6 803.9 L622.4 801.7 L619.9 799.4 L622.7 797.2 L621.5 795.0 L621.6 811.2 L622.2 822.8 L622.8 809.8 L623.4 809.7 L624.0 792.5 L624.6 833.0 L625.2 804.8 L625.8 791.1 L626.4 820.9 L627.0 822.5 L627.6 815.9 L628.2 827.9 L628.8 820.2 L629.4 827.8 L630.0 815.3 L630.6 804.0 L631.2 827.7 L631.8 831.2 L632.4 810.7 L633.0 803.1 L633.6 832.4 L634.2 815.5 L634.8 820.0 L635.4 819.2 L636.0 813.9 L636.6 814.7 L637.2 797.8 L637.8 829.8 L638.4 802.7 L639.0 822.3 L639.6 836.6 L640.2 817.9 L640.8 810.2 L641.4 812.4 L642.0 819.6 L642.6 811.6 L643.2 808.3 L643.8 840.4 L644.4 832.3 L645.0 840.9 L645.6 830.5 L646.2 822.5 L646.8 840.4 L647.4 831.9 L648.0 829.4 L648.6 837.5 L649.2 844.3 L649.8 818.9 L650.4 851.0 L651.0 851.5 L651.6 819.2 L652.2 829.8 L652.8 829.0 L653.4 844.4 L654.0 839.2 L654.6 842.2 L655.2 838.2 L655.8 835.7 L656.4 855.0 L657.0 850.7 L657.6 846.4 L658.2 860.8 L658.8 841.6 L659.4 845.5 L660.0 843.1 L660.6 856.1 L661.2 841.7 L661.8 842.5 L662.4 864.6 L663.0 851.8 L663.6 865.4 L664.2 829.4 L664.8 863.6 L665.4 861.5 L666.0 855.7 L666.6 857.5 L667.2 870.9 L667.8 838.7 L668.4 862.5 L669.0 854.9 L669.6 846.7 L670.2 855.6 L670.8 854.8 L671.4 846.0 L672.0 856.5 L672.6 835.7 L673.2 879.4 L673.8 868.3 L674.4 856.1 L675.0 858.8 L675.6 846.5 L676.2 839.2 L676.8 831.5 L677.4 869.9 L678.0 847.1 L678.6 851.6 L679.2 852.3 L679.8 851.6 L680.4 857.5 L681.0 849.9 L681.6 833.6 L682.2 868.2 L682.8 851.3 L683.4 862.1 L684.0 843.4 L684.6 838.7 L685.2 839.0 L685.8 874.0 L686.4 836.7 L687.0 853.5 L687.6 856.7 L688.2 870.3 L688.8 875.2 L689.4 860.6 L690.0 874.4 L690.6 856.7 L691.2 845.6 L691.8 858.8 L692.4 863.4 L693.0 857.8 L693.6 866.5 L694.2 879.9 L694.8 848.4 L695.4 880.4 L696.0 872.3 L696.6 858.3 L697.2 852.7 L697.8 864.5 L698.4 861.6 L699.0 855.5 L699.6 857.4 L700.2 864.3 L700.8 861.8 L701.4 857.5 L702.0 855.3 L702.6 868.3 L703.2 863.4 L703.8 867.7 L704.4 854.7 L705.0 875.2 L705.6 862.9 L706.2 858.4 L706.8 869.0 L707.4 873.0 L708.0 856.8 L708.6 867.1 L709.2 871.9 L709.8 861.9 L710.4 853.7 L711.0 859.5 L711.6 860.9 L712.2 864.1 L712.8 867.8 L713.4 854.1 L714.0 858.5 L714.6 849.5 L715.2 867.0 L715.8 857.8 L716.4 849.4 L717.0 861.2 L717.6 846.5 L718.2 842.0 L718.8 874.0 L719.4 853.9 L720.0 869.3 L720.6 856.7 L721.2 874.7 L721.8 846.2 L722.4 868.6 L723.0 873.3 L723.6 862.5 L724.2 855.4 L724.8 868.7 L725.4 857.7 L726.0 871.2 L726.6 858.6 L727.2 861.1 L727.8 852.6 L728.4 876.2 L729.0 859.1 L729.6 868.9 L730.2 853.2 L730.8 859.7 L731.4 860.9 L732.0 854.8 L732.6 863.2 L733.2 853.2 L733.8 858.0 L734.4 863.0 L735.0 869.3 L735.6 861.8 L736.2 866.2 L736.8 859.9 L737.4 850.9 L738.0 855.5 L738.6 856.4 L739.2 841.0 L739.8 869.9 L740.4 849.8 L741.0 867.0 L741.6 852.2 L742.2 863.6 L742.8 850.6 L743.4 860.1 L744.0 862.6 L744.6 850.4 L745.2 852.3 L745.8 875.6 L746.4 873.8 L747.0 873.6 L747.6 869.0 L748.2 850.5 L748.8 850.5 L749.4 884.6 L750.0 883.9 L750.6 859.9 L751.2 865.6 L751.8 851.4 L752.4 870.2 L753.0 875.8 L753.6 845.8 L754.2 876.8 L754.8 854.6 L755.4 849.8 L756.0 844.1 L756.6 843.2 L757.2 849.3 L757.8 874.4 L758.4 851.1 L759.0 877.6 L759.6 872.6 L760.2 862.3 L760.8 860.5 L761.4 859.6 L762.0 870.4 L762.6 858.5 L763.2 855.4 L763.8 850.0 L764.4 835.7 L765.0 872.0 L765.6 874.6 L766.2 857.5 L766.8 849.5 L767.4 866.1 L768.0 869.5 L768.6 859.6 L769.2 868.9 L769.8 881.6 L770.4 859.0 L771.0 881.1 L771.6 848.4 L772.2 883.6 L772.8 863.2 L773.4 863.5 L774.0 868.7 L774.6 853.2 L775.2 860.7 L775.8 840.0 L776.4 872.0 L777.0 870.1 L777.6 852.3 L778.2 854.3 L778.8 842.2 L779.4 856.1 L780.0 865.8 L780.6 873.9 L781.2 842.4 L781.8 847.9 L782.4 859.3 L783.0 852.0 L783.6 873.2 L784.2 857.5 L784.8 841.0 L785.4 876.2 L786.0 846.8 L786.6 852.2 L787.2 850.5 L787.8 845.4 L788.4 838.9 L789.0 858.7 L789.6 870.7 L790.2 838.9 L790.8 848.7 L791.4 857.6 L792.0 859.1 L792.6 849.2 L793.2 849.7 L793.8 836.7 L794.4 853.4 L795.0 837.7 L795.6 845.2 L796.2 839.0 L796.8 862.5 L797.4 867.6 L798.0 854.6 L798.6 846.6 L799.2 859.5 L799.8 837.6 L800.4 852.8 L801.0 845.5 L801.6 840.2 L802.2 840.5 L802.8 864.8 L803.4 832.6 L804.0 871.0 L804.6 855.6 L805.2 858.8 L805.8 844.0 L806.4 861.6 L807.0 853.8 L807.6 853.9 L808.2 868.5 L808.8 843.0 L809.4 870.4 L810.0 854.9 L810.6 855.6 L811.2 863.9 L811.8 857.7 L812.4 870.9 L813.0 881.9 L813.6 869.2 L814.2 882.5 L814.8 861.0 L815.4 855.1 L816.0 852.6 L816.6 886.7 L817.2 862.4 L817.8 874.9 L818.4 871.4 L819.0 853.4 L819.6 883.5 L820.2 860.6 L820.8 878.5 L821.4 877.4 L822.0 872.3 L822.6 865.9 L823.2 868.9 L823.8 853.6 L824.4 848.4 L825.0 880.4 L825.6 860.0 L826.2 858.8 L826.8 859.4 L827.4 859.4 L828.0 850.0 L828.6 850.2 L829.2 859.3 L829.8 852.5 L830.4 854.1 L831.0 840.6 L831.6 850.0 L832.2 848.6 L832.8 851.1 L833.4 854.6 L834.0 850.7 L834.6 848.4 L835.2 835.7 L835.8 857.2 L836.4 850.1 L837.0 845.9 L837.6 846.6 L838.2 840.1 L838.8 846.1 L839.4 851.6 L840.0 846.9 L840.6 850.2 L841.2 863.9 L841.8 845.2 L842.4 861.3 L843.0 856.3 L843.6 865.2 L844.2 868.7 L844.8 849.6 L845.4 839.0 L846.0 878.3 L846.6 851.8 L847.2 855.6 L847.8 848.6 L848.4 861.4 L849.0 852.9 L849.6 865.4 L850.2 855.2 L850.8 840.1 L851.4 862.4 L852.0 854.5 L852.6 864.0 L853.2 840.0 L853.8 869.9 L854.4 856.4 L855.0 866.7 L855.6 840.8 L856.2 858.8 L856.8 855.9 L857.4 866.2 L858.0 844.2 L858.6 884.6 L859.2 860.3 L859.8 878.6 L860.4 857.3 L861.0 865.3 L861.6 854.2 L862.2 877.9 L862.8 858.4 L863.4 873.3 L864.0 863.9 L864.6 867.5 L865.2 866.8 L865.8 853.1 L866.4 853.2 L867.0 848.4 L867.6 880.4 L868.2 858.2 L868.8 869.5 L869.4 871.3 L870.0 855.7 L870.6 868.0 L871.2 877.2 L871.8 871.6 L872.4 866.9 L873.0 865.5 L873.6 872.1 L874.2 859.6 L874.8 853.0 L875.4 877.8 L876.0 861.4 L876.6 878.1 L877.2 852.6 L877.8 886.7 L878.4 882.9 L879.0 863.4 L879.6 873.7 L880.2 873.0 L880.8 856.4 L881.4 867.4 L882.0 861.8 L882.6 871.8 L883.2 873.1 L883.8 870.5 L884.4 865.6 L885.0 865.3 L885.6 849.4 L886.2 882.5 L886.8 865.8 L887.4 870.5 L888.0 862.7 L888.6 874.3 L889.2 879.1 L889.8 877.2 L890.4 860.4 L891.0 864.1 L891.6 860.1 L892.2 878.6 L892.8 867.9 L893.4 868.0 L894.0 872.1 L894.6 876.4 L895.2 881.7 L895.8 869.6 L896.4 880.4 L897.0 863.9 L897.6 862.6 L898.2 852.6 L898.8 888.9 L899.4 866.6 L900.0 868.3 L900.6 869.3 L901.2 878.3 L901.8 853.7 L902.4 872.4 L903.0 856.1 L903.6 844.2 L904.2 882.5 L904.8 850.2 L905.4 878.5 L906.0 846.1 L906.6 876.0 L907.2 872.3 L907.8 870.3 L908.4 855.5 L909.0 872.4 L909.6 854.7 L910.2 860.3 L910.8 846.6 L911.4 854.8 L912.0 870.2 L912.6 882.3 L913.2 877.9 L913.8 850.0 L914.4 875.1 L915.0 866.0 L915.6 859.5 L916.2 869.6 L916.8 878.7 L917.4 875.5 L918.0 850.4 L918.6 865.6 L919.2 849.4 L919.8 892.0 L920.4 878.9 L921.0 853.5 L921.6 890.1 L922.2 870.6 L922.8 869.3 L923.4 875.9 L924.0 875.8 L924.6 867.7 L925.2 878.8 L925.8 874.2 L926.4 864.7 L927.0 851.5 L927.6 871.1 L928.2 856.2 L928.8 858.4 L929.4 868.1 L930.0 843.0 L930.6 884.6 L931.2 866.1 L931.8 865.9 L932.4 872.6 L933.0 865.3 L933.6 863.7 L934.2 861.8 L934.8 869.6 L935.4 850.6 L936.0 866.9 L936.6 854.0 L937.2 875.7 L937.8 875.4 L938.4 846.3 L939.0 878.3 L939.6 857.4 L940.2 846.3 L940.8 865.7 L941.4 859.4 L942.0 861.1 L942.6 862.7 L943.2 861.8 L943.8 855.9 L944.4 851.9 L945.0 845.8 L945.6 860.1 L946.2 853.2 L946.8 845.3 L947.4 853.0 L948.0 846.8 L948.6 868.1 L949.2 830.5 L949.8 867.8 L950.4 858.4 L951.0 850.8 L951.6 850.2 L952.2 861.9 L952.8 852.4 L953.4 846.4 L954.0 858.4 L954.6 853.1 L955.2 865.7 L955.8 856.9 L956.4 861.4 L957.0 852.7 L957.6 858.1 L958.2 859.0 L958.8 847.3 L959.4 878.3 L960.0 869.6 L960.6 854.0 L961.2 854.0 L961.8 865.0 L962.4 880.0 L963.0 861.6 L963.6 877.9 L964.2 869.0 L964.8 876.0 L965.4 861.2 L966.0 868.3 L966.6 873.2 L967.2 882.3 L967.8 880.1 L968.4 848.4 L969.0 894.0 L969.6 869.0 L970.2 871.3 L970.8 865.6 L971.4 881.8 L972.0 862.5 L972.6 871.2 L973.2 873.9 L973.8 872.7 L974.4 879.1 L975.0 858.9 L975.6 861.0 L976.2 877.3 L976.8 855.2 L977.4 879.8 L978.0 867.1 L978.6 866.7 L979.2 872.1 L979.8 854.7 L980.4 882.5 L981.0 881.8 L981.6 870.4 L982.2 859.3 L982.8 854.7 L983.4 863.9 L984.0 861.4 L984.6 869.8 L985.2 859.9 L985.8 871.8 L986.4 871.3 L987.0 866.6 L987.6 863.4 L988.2 865.1 L988.8 867.8 L989.4 852.5 L990.0 856.3 L990.6 863.3 L991.2 872.3 L991.8 868.1 L992.4 870.3 L993.0 846.3 L993.6 874.0 L994.2 853.6 L994.8 849.1 L995.4 864.4 L996.0 866.5 L996.6 853.3 L997.2 860.2 L997.8 873.2 L998.4 867.5 L999.0 857.0 L999.6 858.3 L1000.2 867.4 L1000.8 878.2 L1001.4 873.9 L1002.0 871.6 L1002.6 873.0 L1003.2 864.9 L1003.8 873.2 L1004.4 860.6 L1005.0 868.5 L1005.6 861.2 L1006.2 848.4 L1006.8 892.0 L1007.4 879.1 L1008.0 869.8 L1008.6 867.2 L1009.2 876.9 L1009.8 880.3 L1010.4 865.6 L1011.0 856.6 L1011.6 863.6 L1012.2 875.0 L1012.8 865.8 L1013.4 872.9 L1014.0 860.4 L1014.6 864.6 L1015.2 861.7 L1015.8 865.2 L1016.4 873.1 L1017.0 871.2 L1017.6 861.8 L1018.2 856.8 L1018.8 879.4 L1019.4 872.4 L1020.0 868.2 L1020.6 869.2 L1021.2 862.4 L1021.8 872.3 L1022.4 862.2 L1023.0 865.1 L1023.6 863.3 L1024.2 858.6 L1024.8 868.4 L1025.4 857.6 L1026.0 860.7 L1026.6 866.0 L1027.2 864.9 L1027.8 858.3 L1028.4 851.5 L1029.0 869.9 L1029.6 862.2 L1030.2 861.5 L1030.8 857.7 L1031.4 865.2 L1032.0 859.4 L1032.6 866.5 L1033.2 859.9 L1033.8 861.6 L1034.4 851.3 L1035.0 864.3 L1035.6 862.9 L1036.2 872.3 L1036.8 863.0 L1037.4 881.5 L1038.0 860.5 L1038.6 867.5 L1039.2 845.2 L1039.8 883.6 L1040.4 861.7 L1041.0 863.9 L1041.6 867.5 L1042.2 862.6 L1042.8 874.5 L1043.4 857.7 L1044.0 870.2 L1044.6 864.1 L1045.2 855.6 L1045.8 867.2 L1046.4 858.8 L1047.0 867.4 L1047.6 860.7 L1048.2 858.1 L1048.8 867.2 L1049.4 849.5 L1050.0 860.9 L1050.6 860.5 L1051.2 860.6 L1051.8 849.9 L1052.4 877.1 L1053.0 873.9 L1053.6 854.5 L1054.2 869.4 L1054.8 849.4 L1055.4 880.4 L1056.0 861.7 L1056.6 868.3 L1057.2 865.6 L1057.8 868.8 L1058.4 862.1 L1059.0 865.9 L1059.6 865.6 L1060.2 856.5 L1060.8 849.6 L1061.4 871.2 L1062.0 861.8 L1062.6 866.8 L1063.2 867.7 L1063.8 859.9 L1064.4 860.9 L1065.0 874.4 L1065.6 857.2 L1066.2 847.3 L1066.8 879.4 L1067.4 856.7 L1068.0 866.3 L1068.6 865.7 L1069.2 858.4 L1069.8 875.3 L1070.4 856.9 L1071.0 856.9 L1071.6 865.7 L1072.2 853.9 L1072.8 866.1 L1073.4 862.0 L1074.0 868.9 L1074.6 869.1 L1075.2 869.0 L1075.8 857.7 L1076.4 868.7 L1077.0 860.2 L1077.6 862.2 L1078.2 866.5 L1078.8 854.7 L1079.4 872.0 L1080.0 865.5 L1080.6 863.2 L1081.2 854.8 L1081.8 859.4 L1082.4 860.6 L1083.0 858.4 L1083.6 863.7 L1084.2 858.7 L1084.8 866.5 L1085.4 864.9 L1086.0 868.2 L1086.6 858.3 L1087.2 865.5 L1087.8 876.9 L1088.4 877.7 L1089.0 868.6 L1089.6 861.8 L1090.2 866.8 L1090.8 878.4 L1091.4 868.6 L1092.0 859.0 L1092.6 880.4 L1093.2 863.6 L1093.8 869.9 L1094.4 866.6 L1095.0 866.8 L1095.6 860.5 L1096.2 857.8 L1096.8 880.1 L1097.4 869.6 L1098.0 867.9 L1098.6 868.8 L1099.2 841.0 L1099.8 879.4 L1100.4 858.6 L1101.0 857.4 L1101.6 862.2 L1102.2 878.3 L1102.8 846.3 L1103.4 865.6 L1104.0 850.2 L1104.6 872.8 L1105.2 857.6 L1105.8 864.5 L1106.4 856.8 L1107.0 876.8 L1107.6 863.5 L1108.2 854.3 L1108.8 870.6 L1109.4 867.4 L1110.0 845.4 L1110.6 872.0 L1111.2 873.5 L1111.8 867.6 L1112.4 860.8 L1113.0 846.3 L1113.6 888.9 L1114.2 865.8 L1114.8 854.6 L1115.4 864.9 L1116.0 863.7 L1116.6 862.3 L1117.2 863.6 L1117.8 861.8 L1118.4 845.5 L1119.0 857.2 L1119.6 852.6 L1120.2 864.6 L1120.8 857.3 L1121.4 856.6 L1122.0 858.4 L1122.6 850.8 L1123.2 842.0 L1123.8 865.7 L1124.4 852.9 L1125.0 851.6 L1125.6 866.6 L1126.2 857.7 L1126.8 851.7 L1127.4 852.0 L1128.0 851.8 L1128.6 853.3 L1129.2 847.0 L1129.8 858.4 L1130.4 846.6 L1131.0 847.8 L1131.6 855.5 L1132.2 844.3 L1132.8 836.2 L1133.4 865.6 L1134.0 826.3 L1134.6 869.9 L1135.2 853.7 L1135.8 844.4 L1136.4 862.6 L1137.0 831.2 L1137.6 838.3 L1138.2 854.3 L1138.8 831.4 L1139.4 832.3 L1140.0 856.7 L1140.6 853.5 L1141.2 836.1 L1141.8 845.9 L1142.4 831.5 L1143.0 863.6 L1143.6 854.7 L1144.2 838.1 L1144.8 844.4 L1145.4 830.9 L1146.0 838.4 L1146.6 829.9 L1147.2 837.7 L1147.8 846.4 L1148.4 838.9 L1149.0 842.9 L1149.6 852.2 L1150.2 842.0 L1150.8 824.0 L1151.4 867.8 L1152.0 858.2 L1152.6 843.6 L1153.2 836.8 L1153.8 847.9 L1154.4 862.1 L1155.0 832.4 L1155.6 848.8 L1156.2 846.4 L1156.8 846.5 L1157.4 849.2 L1158.0 857.0 L1158.6 845.0 L1159.2 838.1 L1159.8 847.2 L1160.4 860.2 L1161.0 837.0 L1161.6 850.1 L1162.2 862.4 L1162.8 846.8 L1163.4 827.3 L1164.0 871.0 L1164.6 855.7 L1165.2 849.3 L1165.8 857.5 L1166.4 856.4 L1167.0 851.6 L1167.6 859.4 L1168.2 858.7 L1168.8 851.5 L1169.4 862.0 L1170.0 852.9 L1170.6 845.5 L1171.2 855.7 L1171.8 859.1 L1172.4 854.7 L1173.0 862.5 L1173.6 858.7 L1174.2 848.4 L1174.8 867.8 L1175.4 853.2 L1176.0 857.6 L1176.6 854.3 L1177.2 849.3 L1177.8 859.9 L1178.4 857.7 L1179.0 855.2 L1179.6 856.6 L1180.2 853.9 L1180.8 854.4 L1181.4 853.6 L1182.0 854.2 L1182.6 859.3 L1183.2 849.3 L1183.8 858.5 L1184.4 847.5 L1185.0 839.8 L1185.6 834.7 L1186.2 872.0 L1186.8 857.3 L1187.4 861.0 L1188.0 851.8 L1188.6 844.5 L1189.2 851.1 L1189.8 866.9 L1190.4 862.3 L1191.0 855.6 L1191.6 872.0 L1192.2 854.3 L1192.8 859.7 L1193.4 856.7 L1194.0 865.4 L1194.6 865.0 L1195.2 854.8 L1195.8 854.5 L1196.4 849.0 L1197.0 853.0 L1197.6 859.1 L1198.2 856.2 L1198.8 864.1 L1199.4 845.2 L1200.0 886.7 L1200.6 873.3 L1201.2 880.0 L1201.8 847.8 L1202.4 864.0 L1203.0 866.9 L1203.6 855.7 L1204.2 860.9 L1204.8 853.1 L1205.4 835.7 L1206.0 874.0 L1206.6 857.0 L1207.2 865.6 L1207.8 850.5 L1208.4 864.5 L1209.0 860.6 L1209.6 875.9 L1210.2 861.0 L1210.8 857.2 L1211.4 872.4 L1212.0 881.8 L1212.6 866.6 L1213.2 866.4 L1213.8 846.3 L1214.4 883.6 L1215.0 855.0 L1215.6 870.2 L1216.2 844.6 L1216.8 856.7 L1217.4 850.5 L1218.0 866.9 L1218.6 850.8 L1219.2 841.3 L1219.8 847.0 L1220.4 841.9 L1221.0 857.2 L1221.6 826.3 L1222.2 872.0 L1222.8 863.4 L1223.4 853.8 L1224.0 860.5 L1224.6 860.7 L1225.2 858.5 L1225.8 868.7 L1226.4 863.8 L1227.0 852.3 L1227.6 859.8 L1228.2 868.0 L1228.8 852.4 L1229.4 867.0 L1230.0 857.1 L1230.6 842.0 L1231.2 867.8 L1231.8 839.0 L1232.4 855.6 L1233.0 865.2 L1233.6 860.9 L1234.2 858.6 L1234.8 852.9 L1235.4 855.3 L1236.0 853.6 L1236.6 851.6 L1237.2 837.8 L1237.8 879.4 L1238.4 853.8 L1239.0 848.8 L1239.6 847.0 L1240.2 854.3 L1240.8 843.9 L1241.4 843.5 L1242.0 849.5 L1242.6 853.2 L1243.2 835.2 L1243.8 848.1 L1244.4 846.3 L1245.0 850.7 L1245.6 823.0 L1246.2 859.4 L1246.8 848.4 L1247.4 848.6 L1248.0 829.1 L1248.6 849.6 L1249.2 845.6 L1249.8 831.1 L1250.4 839.4 L1251.0 847.6 L1251.6 821.3 L1252.2 840.3 L1252.8 836.4 L1253.4 849.8 L1254.0 842.2 L1254.6 846.2 L1255.2 839.3 L1255.8 847.2 L1256.4 847.3 L1257.0 817.8 L1257.6 853.0 L1258.2 844.0 L1258.8 844.8 L1259.4 843.9 L1260.0 830.9 L1260.6 845.2 L1261.2 841.4 L1261.8 835.2 L1262.4 844.5 L1263.0 836.7 L1263.6 845.2 L1264.2 838.4 L1264.8 837.8 L1265.4 861.5 L1266.0 858.9 L1266.6 860.8 L1267.2 856.9 L1267.8 846.4 L1268.4 857.3 L1269.0 858.2 L1269.6 854.0 L1270.2 851.5 L1270.8 861.2 L1271.4 858.4 L1272.0 866.4 L1272.6 850.8 L1273.2 847.5 L1273.8 854.3 L1274.4 855.6 L1275.0 868.3 L1275.6 860.9 L1276.2 866.4 L1276.8 841.0 L1277.4 886.7 L1278.0 852.8 L1278.6 854.7 L1279.2 860.4 L1279.8 863.5 L1280.4 862.3 L1281.0 857.6 L1281.6 867.5 L1282.2 865.0 L1282.8 862.6 L1283.4 868.9 L1284.0 859.5 L1284.6 846.6 L1285.2 862.4 L1285.8 863.2 L1286.4 862.7 L1287.0 860.9 L1287.6 861.8 L1288.2 873.1 L1288.8 858.1 L1289.4 859.5 L1290.0 844.2 L1290.6 877.3 L1291.2 863.6 L1291.8 856.8 L1292.4 856.6 L1293.0 859.0 L1293.6 859.6 L1294.2 855.1 L1294.8 855.6 L1295.4 842.7 L1296.0 845.7 L1296.6 854.4 L1297.2 853.7 L1297.8 851.5 L1298.4 865.2 L1299.0 845.9 L1299.6 855.9 L1300.2 840.0 L1300.8 865.7 L1301.4 860.7 L1302.0 843.6 L1302.6 852.2 L1303.2 851.9 L1303.8 847.8 L1304.4 848.5 L1305.0 845.8 L1305.6 847.1 L1306.2 843.2 L1306.8 858.4 L1307.4 856.9 L1308.0 845.4 L1308.6 827.3 L1309.2 862.5 L1309.8 846.4 L1310.4 844.1 L1311.0 842.9 L1311.6 848.9 L1312.2 854.6 L1312.8 843.8 L1313.4 845.5 L1314.0 853.0 L1314.6 854.4 L1315.2 850.6 L1315.8 851.2 L1316.4 853.9 L1317.0 855.2 L1317.6 853.5 L1318.2 860.5 L1318.8 860.8 L1319.4 847.3 L1320.0 869.9 L1320.6 861.3 L1321.2 859.7 L1321.8 857.2 L1322.4 844.9 L1323.0 867.4 L1323.6 858.2 L1324.2 855.4 L1324.8 862.3 L1325.4 850.2 L1326.0 862.8 L1326.6 859.4 L1327.2 857.5 L1327.8 854.6 L1328.4 854.1 L1329.0 853.4 L1329.6 843.3 L1330.2 850.4 L1330.8 854.2 L1331.4 859.1 L1332.0 835.7 L1332.6 878.3 L1333.2 848.1 L1333.8 853.3 L1334.4 852.4 L1335.0 858.8 L1335.6 847.2 L1336.2 854.4 L1336.8 850.3 L1337.4 854.8 L1338.0 848.5 L1338.6 867.9 L1339.2 848.4 L1339.8 827.3 L1340.4 872.0 L1341.0 861.9 L1341.6 862.0 L1342.2 840.8 L1342.8 851.5 L1343.4 862.8 L1344.0 844.9 L1344.6 823.0 L1345.2 844.0 L1345.8 865.8 L1346.4 851.7 L1347.0 837.8 L1347.6 833.7 L1348.2 821.0 L1348.8 871.0 L1349.4 835.5 L1350.0 845.4 L1350.6 836.5 L1351.2 837.9 L1351.8 852.0 L1352.4 837.6 L1353.0 854.6 L1353.6 849.5 L1354.2 853.4 L1354.8 844.3 L1355.4 849.1 L1356.0 858.0 L1356.6 843.1 L1357.2 848.2 L1357.8 856.8 L1358.4 859.0 L1359.0 835.7 L1359.6 861.5 L1360.2 856.4 L1360.8 846.3 L1361.4 849.1 L1362.0 843.8 L1362.6 846.8 L1363.2 848.8 L1363.8 853.3 L1364.4 847.3 L1365.0 851.4 L1365.6 844.9 L1366.2 841.4 L1366.8 843.7 L1367.4 844.7 L1368.0 844.2 L1368.6 856.5 L1369.2 839.8 L1369.8 847.5 L1370.4 843.2 L1371.0 854.7 L1371.6 827.3 L1372.2 855.0 L1372.8 834.8 L1373.4 852.4 L1374.0 839.2 L1374.6 838.4 L1375.2 839.3 L1375.8 851.1 L1376.4 841.2 L1377.0 846.8 L1377.6 848.8 L1378.2 842.9 L1378.8 833.8 L1379.4 860.0 L1380.0 833.6 L1380.6 851.9 L1381.2 859.8 L1381.8 832.6 L1382.4 865.7 L1383.0 851.3 L1383.6 859.2 L1384.2 854.5 L1384.8 849.0 L1385.4 852.1 L1386.0 859.6 L1386.6 846.1 L1387.2 858.2 L1387.8 850.4 L1388.4 865.1 L1389.0 847.3 L1389.6 837.8 L1390.2 878.3 L1390.8 852.2 L1391.4 849.8 L1392.0 857.2 L1392.6 857.3 L1393.2 858.3 L1393.8 854.1 L1394.4 855.5 L1395.0 866.0 L1395.6 871.2 L1396.2 853.4 L1396.8 852.5 L1397.4 854.4 L1398.0 859.8 L1398.6 843.6 L1399.2 836.8 L1399.8 869.9 L1400.4 841.5 L1401.0 853.5 L1401.6 853.7 L1402.2 847.1 L1402.8 855.2 L1403.4 842.8 L1404.0 864.0 L1404.6 848.4 L1405.2 844.2 L1405.8 851.7 L1406.4 841.0 L1407.0 830.4 L1407.6 818.9 L1408.2 855.0 L1408.8 822.2 L1409.4 840.4 L1410.0 836.5 L1410.6 836.9 L1411.2 825.0 L1411.8 823.6 L1412.4 851.5 L1413.0 834.6 L1413.6 819.2 L1414.2 841.0 L1414.8 814.7 L1415.4 844.6 L1416.0 832.6 L1416.6 831.9 L1417.2 841.6 L1417.8 841.5 L1418.4 811.9 L1419.0 816.7 L1419.6 816.2 L1420.2 823.6 L1420.8 807.3 L1421.4 837.2 L1422.0 828.8 L1422.6 830.3 L1423.2 822.9 L1423.8 831.9 L1424.4 820.4 L1425.0 816.4 L1425.6 825.8 L1426.2 818.5 L1426.8 819.5 L1427.4 820.6 L1428.0 836.6 L1428.6 811.5 L1429.2 836.2 L1429.8 824.9 L1430.4 832.6 L1431.0 829.7 L1431.6 823.5 L1432.2 836.4 L1432.8 835.3 L1433.4 832.3 L1434.0 839.2 L1434.6 811.5 L1435.2 846.7 L1435.8 843.3 L1436.4 830.7 L1437.0 832.2 L1437.6 835.1 L1438.2 841.2 L1438.8 823.2 L1439.4 834.9 L1440.0 830.8 L1440.6 847.5 L1441.2 834.7 L1441.8 830.0 L1442.4 850.6 L1443.0 839.5 L1443.6 816.8 L1444.2 859.4 L1444.8 849.4 L1445.4 840.4 L1446.0 847.4 L1446.6 850.1 L1447.2 838.4 L1447.8 840.0 L1448.4 826.0 L1449.0 832.5 L1449.6 845.0 L1450.2 845.5 L1450.8 827.2 L1451.4 839.4 L1452.0 827.3 L1452.6 863.6 L1453.2 831.6 L1453.8 845.7 L1454.4 835.7 L1455.0 860.2 L1455.6 847.5 L1456.2 844.0 L1456.8 840.3 L1457.4 844.4 L1458.0 852.0 L1458.6 843.8 L1459.2 852.7 L1459.8 865.3 L1460.4 854.8 L1461.0 843.7 L1461.6 850.2 L1462.2 826.3 L1462.8 869.9 L1463.4 849.9 L1464.0 853.2 L1464.6 848.2 L1465.2 852.5 L1465.8 856.1 L1466.4 846.6 L1467.0 865.2 L1467.6 851.4 L1468.2 837.3 L1468.8 850.7 L1469.4 857.2 L1470.0 852.9 L1470.6 846.4 L1471.2 850.2 L1471.8 854.4 L1472.4 854.9 L1473.0 841.3 L1473.6 851.8 L1474.2 843.9 L1474.8 840.0 L1475.4 868.8 L1476.0 853.0 L1476.6 858.1 L1477.2 858.1 L1477.8 854.2 L1478.4 847.8 L1479.0 856.9 L1479.6 848.8 L1480.2 849.9 L1480.8 858.9 L1481.4 831.0 L1482.0 838.9 L1482.6 836.1 L1483.2 848.7 L1483.8 852.2 L1484.4 818.9 L1485.0 868.8 L1485.6 839.9 L1486.2 838.5 L1486.8 850.9 L1487.4 842.2 L1488.0 835.4 L1488.6 845.7 L1489.2 837.0 L1489.8 844.4 L1490.4 854.6 L1491.0 853.7 L1491.6 846.4 L1492.2 846.3 L1492.8 852.0 L1493.4 855.7 L1494.0 856.9 L1494.6 846.7 L1495.2 857.1 L1495.8 834.7 L1496.4 871.0 L1497.0 847.8 L1497.6 855.4 L1498.2 861.2 L1498.8 861.8 L1499.4 853.6 L1500.0 859.4 L1500.6 854.3 L1501.2 852.2 L1501.8 850.1 L1502.4 874.7 L1503.0 860.9 L1503.6 853.2 L1504.2 865.1 L1504.8 867.7 L1505.4 837.8 L1506.0 871.7 L1506.6 862.2 L1507.2 853.3 L1507.8 845.1 L1508.4 831.5 L1509.0 878.3 L1509.6 868.0 L1510.2 853.0 L1510.8 840.8 L1511.4 864.5 L1512.0 850.8 L1512.6 859.2 L1513.2 861.5 L1513.8 847.6 L1514.4 855.9 L1515.0 859.8 L1515.6 860.7 L1516.2 879.8 L1516.8 853.2 L1517.4 864.3 L1518.0 853.3 L1518.6 862.9 L1519.2 871.6 L1519.8 870.0 L1520.4 876.0 L1521.0 844.2 L1521.6 881.5 L1522.2 859.8 L1522.8 858.8 L1523.4 864.2 L1524.0 874.8 L1524.6 867.1 L1525.2 866.0 L1525.8 856.5 L1526.4 862.7 L1527.0 857.8 L1527.6 856.1 L1528.2 849.6 L1528.8 855.2 L1529.4 855.9 L1530.0 853.9 L1530.6 852.5 L1531.2 856.2 L1531.8 841.0 L1532.4 872.0 L1533.0 867.1 L1533.6 854.4 L1534.2 864.0 L1534.8 855.4 L1535.4 849.4 L1536.0 846.7 L1536.6 834.0 L1537.2 857.5 L1537.8 852.3 L1538.4 864.9 L1539.0 847.0 L1539.6 852.1 L1540.2 861.8 L1540.8 833.4 L1541.4 837.5 L1542.0 846.3 L1542.6 854.8 L1543.2 817.8 L1543.8 877.3 L1544.4 855.2 L1545.0 842.8 L1545.6 856.0 L1546.2 876.7 L1546.8 864.7 L1547.4 847.7 L1548.0 864.2 L1548.6 840.7 L1549.2 864.5 L1549.8 852.9 L1550.4 853.1 L1551.0 854.6 L1551.6 833.6 L1552.2 852.4 L1552.8 848.8 L1553.4 858.2 L1554.0 860.2 L1554.6 875.4 L1555.2 840.0 L1555.8 876.2 L1556.4 862.5 L1557.0 859.1 L1557.6 858.7 L1558.2 862.6 L1558.8 856.6 L1559.4 855.7 L1560.0 859.4 L1560.6 852.4 L1561.2 853.5 L1561.8 858.3 L1562.4 857.8 L1563.0 864.5 L1563.6 855.8 L1564.2 854.7 L1564.8 857.7 L1565.4 842.0 L1566.0 865.7 L1566.6 863.1 L1567.2 856.9 L1567.8 861.1 L1568.4 852.1 L1569.0 864.6 L1569.6 848.5 L1570.2 844.8 L1570.8 847.8 L1571.4 846.0 L1572.0 850.3 L1572.6 845.0 L1573.2 853.0 L1573.8 839.0 L1574.4 874.0 L1575.0 851.8 L1575.6 855.1 L1576.2 857.9 L1576.8 849.7 L1577.4 861.5 L1578.0 853.2 L1578.6 861.8 L1579.2 857.3 L1579.8 858.8 L1580.4 858.9 L1581.0 854.3 L1581.6 863.3 L1582.2 857.5 L1582.8 860.6 L1583.4 864.3 L1584.0 868.2 L1584.6 848.4 L1585.2 872.0 L1585.8 861.6 L1586.4 857.5 L1587.0 858.4 L1587.6 855.0 L1588.2 856.2 L1588.8 859.1 L1589.4 857.1 L1590.0 859.3 L1590.6 852.0 L1591.2 847.8 L1591.8 855.1 L1592.4 858.4 L1593.0 852.9 L1593.6 848.8 L1594.2 836.8 L1594.8 869.9 L1595.4 848.0 L1596.0 857.0 L1596.6 854.4 L1597.2 858.4 L1597.8 860.4 L1598.4 849.1 L1599.0 846.9 L1599.6 858.6 L1600.2 854.2 L1600.8 854.7 L1601.4 860.6 L1602.0 860.2 L1602.6 872.8 L1603.2 855.5 L1603.8 854.8 L1604.4 859.8 L1605.0 863.5 L1605.6 848.8 L1606.2 856.0 L1606.8 865.7 L1607.4 847.3 L1608.0 875.2 L1608.6 867.0 L1609.2 850.3 L1609.8 856.1 L1610.4 851.9 L1611.0 870.6 L1611.6 843.7 L1612.2 856.6 L1612.8 853.5 L1613.4 854.7 L1614.0 856.3 L1614.6 847.5 L1615.2 845.0 L1615.8 830.5 L1616.4 874.0 L1617.0 853.5 L1617.6 849.3 L1618.2 845.2 L1618.8 854.8 L1619.4 852.8 L1620.0 855.5 L1620.6 849.5 L1621.2 861.0 L1621.8 845.8 L1622.4 853.4 L1623.0 849.4 L1623.6 856.0 L1624.2 857.9 L1624.8 856.1 L1625.4 852.7 L1626.0 857.9 L1626.6 855.0 L1627.2 850.8 L1627.8 872.0 L1628.4 841.0 L1629.0 869.9 L1629.6 852.4 L1630.2 860.4 L1630.8 857.2 L1631.4 856.8 L1632.0 862.5 L1632.6 851.4 L1633.2 855.6 L1633.8 860.0 L1634.4 848.9 L1635.0 850.4 L1635.6 846.1 L1636.2 858.1 L1636.8 844.2 L1637.4 875.2 L1638.0 858.7 L1638.6 855.6 L1639.2 858.3 L1639.8 852.0 L1640.4 857.8 L1641.0 860.1 L1641.6 850.0 L1642.2 850.8 L1642.8 863.7 L1643.4 854.8 L1644.0 848.2 L1644.6 849.4 L1645.2 859.2 L1645.8 852.6 L1646.4 858.1 L1647.0 855.8 L1647.6 831.5 L1648.2 872.0 L1648.8 843.0 L1649.4 864.4 L1650.0 856.7 L1650.6 853.3 L1651.2 838.5 L1651.8 847.7 L1652.4 867.9 L1653.0 863.6 L1653.6 849.3 L1654.2 857.2 L1654.8 849.3 L1655.4 862.5 L1656.0 870.7 L1656.6 867.5 L1657.2 857.9 L1657.8 866.3 L1658.4 845.2 L1659.0 872.0 L1659.6 853.5 L1660.2 850.4 L1660.8 866.3 L1661.4 847.1 L1662.0 852.5 L1662.6 851.3 L1663.2 860.7 L1663.8 851.7 L1664.4 868.5 L1665.0 853.2 L1665.6 855.6 L1666.2 863.1 L1666.8 852.9 L1667.4 856.1 L1668.0 861.8 L1668.6 840.0 L1669.2 876.2 L1669.8 835.3 L1670.4 832.8 L1671.0 845.0 L1671.6 847.6 L1672.2 849.5 L1672.8 843.9 L1673.4 854.6 L1674.0 842.3 L1674.6 854.1 L1675.2 859.6 L1675.8 825.2 L1676.4 872.0 L1677.0 853.9 L1677.6 855.3 L1678.2 842.1 L1678.8 853.4 L1679.4 847.6 L1680.0 847.4 L1680.6 857.1 L1681.2 847.0 L1681.8 860.0 L1682.4 865.3 L1683.0 863.8 L1683.6 854.6 L1684.2 854.3 L1684.8 858.8 L1685.4 837.8 L1686.0 868.8 L1686.6 852.2 L1687.2 851.5 L1687.8 848.2 L1688.4 850.5 L1689.0 838.9 L1689.6 858.0 L1690.2 846.6 L1690.8 843.7 L1691.4 848.8 L1692.0 852.9 L1692.6 846.3 L1693.2 853.1 L1693.8 855.2 L1694.4 851.4 L1695.0 846.3 L1695.6 860.2 L1696.2 828.4 L1696.8 861.5 L1697.4 850.2 L1698.0 842.7 L1698.6 838.9 L1699.2 847.9 L1699.8 860.0 L1700.4 858.3 L1701.0 856.3 L1701.6 835.7 L1702.2 880.4 L1702.8 850.9 L1703.4 860.9 L1704.0 855.4 L1704.6 857.6 L1705.2 854.0 L1705.8 845.1 L1706.4 855.9 L1707.0 860.3 L1707.6 858.1 L1708.2 859.4 L1708.8 847.1 L1709.4 856.9 L1710.0 868.0 L1710.6 872.8 L1711.2 849.9 L1711.8 846.6 L1712.4 847.8 L1713.0 843.0 L1713.6 875.2 L1714.2 860.7 L1714.8 855.2 L1715.4 868.0 L1716.0 845.9 L1716.6 837.7 L1717.2 854.8 L1717.8 866.7 L1718.4 861.0 L1719.0 845.5 L1719.6 852.9 L1720.2 845.8 L1720.8 847.5 L1721.4 849.8 L1722.0 853.8 L1722.6 843.8 L1723.2 840.9 L1723.8 843.0 L1724.4 835.3 L1725.0 860.5 L1725.6 824.0 L1726.2 877.3 L1726.8 840.6 L1727.4 850.3 L1728.0 842.5 L1728.6 865.3 L1729.2 843.0 L1729.8 859.0 L1730.4 846.9 L1731.0 853.5 L1731.6 853.1 L1732.2 847.1 L1732.8 848.1 L1733.4 840.9 L1734.0 857.9 L1734.6 858.9 L1735.2 854.4 L1735.8 855.2 L1736.4 847.0 L1737.0 845.0 L1737.6 834.2 L1738.2 845.9 L1738.8 849.3 L1739.4 864.0 L1740.0 831.5 L1740.6 867.8 L1741.2 851.6 L1741.8 848.1 L1742.4 847.4 L1743.0 854.2 L1743.6 851.6 L1744.2 835.9 L1744.8 864.2 L1745.4 858.8 L1746.0 847.4 L1746.6 849.8 L1747.2 847.1 L1747.8 861.1 L1748.4 845.1 L1749.0 853.9 L1749.6 845.5 L1750.2 846.8 L1750.8 849.9 L1751.4 854.3 L1752.0 831.5 L1752.6 863.6 L1753.2 859.8 L1753.8 845.1 L1754.4 844.7 L1755.0 855.8 L1755.6 843.8 L1756.2 845.4 L1756.8 842.6 L1757.4 851.9 L1758.0 857.4 L1758.6 852.5 L1759.2 851.7 L1759.8 854.8 L1760.4 856.5 L1761.0 848.0 L1761.6 856.1 L1762.2 864.8 L1762.8 854.1 L1763.4 845.2 L1764.0 861.7 L1764.6 845.5 L1765.2 877.4 L1765.8 858.1 L1766.4 855.4 L1767.0 874.1 L1767.6 866.7 L1768.2 846.2 L1768.8 842.0 L1769.4 886.7 L1770.0 875.1 L1770.6 857.5 L1771.2 865.3 L1771.8 864.2 L1772.4 855.1 L1773.0 857.5 L1773.6 848.6 L1774.2 857.3 L1774.8 864.9 L1775.4 850.7 L1776.0 863.4 L1776.6 860.1 L1777.2 871.9 L1777.8 857.9 L1778.4 849.6 L1779.0 835.7 L1779.6 876.2 L1780.2 844.8 L1780.8 838.6 L1781.4 846.0 L1782.0 846.9 L1782.6 846.5 L1783.2 850.6 L1783.8 862.5 L1784.4 853.9 L1785.0 857.6 L1785.6 843.0 L1786.2 833.8 L1786.8 833.5 L1787.4 818.9 L1788.0 869.9 L1788.6 840.1 L1789.2 845.3 L1789.8 856.7 L1790.4 851.4 L1791.0 837.7 L1791.6 855.7 L1792.2 840.7 L1792.8 844.3 L1793.4 846.1 L1794.0 833.8 L1794.6 842.7 L1795.2 840.8 L1795.8 850.7 L1796.4 852.3 L1797.0 850.4 L1797.6 855.5 L1798.2 829.4 L1798.8 867.8 L1799.4 843.6 L1800.0 843.8 L1800.6 857.8 L1801.2 851.6 L1801.8 851.7 L1802.4 845.3 L1803.0 858.3 L1803.6 859.6 L1804.2 855.9 L1804.8 845.1 L1805.4 862.2 L1806.0 853.6 L1806.6 856.7 L1807.2 851.4 L1807.8 852.9 L1808.4 857.3 L1809.0 855.6 L1809.6 855.1 L1810.2 858.0 L1810.8 844.2 L1811.4 869.9 L1812.0 848.5 L1812.6 857.5 L1813.2 858.0 L1813.8 856.4 L1814.4 851.0 L1815.0 854.9 L1815.6 845.7 L1816.2 851.0 L1816.8 844.5 L1817.4 852.6 L1818.0 854.6 L1818.6 853.2 L1819.2 836.1 L1819.8 848.0 L1820.4 843.8 L1821.0 846.3 L1821.6 860.4 L1822.2 841.1 L1822.8 838.1 L1823.4 846.6 L1824.0 861.5 L1824.6 821.0 L1825.2 878.3 L1825.8 848.7 L1826.4 847.2 L1827.0 833.8 L1827.6 844.4 L1828.2 834.9 L1828.8 836.1 L1829.4 856.5 L1830.0 853.0 L1830.6 857.7 L1831.2 853.7 L1831.8 861.4 L1832.4 854.7 L1833.0 865.9 L1833.6 850.5 L1834.2 840.0 L1834.8 869.9 L1835.4 848.9 L1836.0 862.1 L1836.6 858.4 L1837.2 850.7 L1837.8 861.1 L1838.4 852.4 L1839.0 861.1 L1839.6 864.4 L1840.2 855.9 L1840.8 864.0 L1841.4 860.9 L1842.0 865.2 L1842.6 859.5 L1843.2 863.0 L1843.8 857.6 L1844.4 860.6 L1845.0 860.1 L1845.6 860.3 L1846.2 857.5 L1846.8 850.5 L1847.4 876.2 L1848.0 854.4 L1848.6 871.3 L1849.2 860.6 L1849.8 868.2 L1850.4 860.3 L1851.0 865.7 L1851.6 853.3 L1852.2 856.9 L1852.8 858.8 L1853.4 859.4 L1854.0 862.4 L1854.6 861.4 L1855.2 856.1 L1855.8 847.0 L1856.4 865.9 L1857.0 836.8 L1857.6 880.4 L1858.2 863.5 L1858.8 866.7 L1859.4 861.3 L1860.0 852.5 L1860.6 857.3 L1861.2 836.4 L1861.8 854.1 L1862.4 846.2 L1863.0 856.4 L1863.6 860.3 L1864.2 855.0 L1864.8 851.3 L1865.4 852.8 L1866.0 858.0 L1866.6 858.0 L1867.2 844.9 L1867.8 863.0 L1868.4 867.0 L1869.0 856.4 L1869.6 857.7 L1870.2 854.1 L1870.8 857.0 L1871.4 850.7 L1872.0 839.6 L1872.6 851.2 L1873.2 848.7 L1873.8 831.5 L1874.4 869.9 L1875.0 863.9 L1875.6 851.4 L1876.2 853.4 L1876.8 863.9 L1877.4 839.5 L1878.0 869.7 L1878.6 851.2 L1879.2 864.4 L1879.8 853.8 L1880.4 858.9 L1881.0 847.5 L1881.6 852.7 L1882.2 840.4 L1882.8 857.7 L1883.4 851.6 L1884.0 850.1 L1884.6 842.0 L1885.2 872.0 L1885.8 864.8 L1886.4 858.6 L1887.0 868.9 L1887.6 858.1 L1888.2 862.7 L1888.8 856.8 L1889.4 857.8 L1890.0 858.1 L1890.6 850.2 L1891.2 857.4 L1891.8 863.7 L1892.4 855.4 L1893.0 849.7 L1893.6 849.9 L1894.2 850.5 L1894.8 849.9 L1895.4 849.2 L1896.0 856.3 L1896.6 852.7 L1897.2 866.2 L1897.8 867.2 L1898.4 856.6 L1899.0 858.6 L1899.6 833.6 L1900.2 877.3 L1900.8 857.6 L1901.4 870.6 L1902.0 856.1 L1902.6 855.1 L1903.2 857.2 L1903.8 861.8 L1904.4 858.9 L1905.0 844.1 L1905.6 849.4 L1906.2 864.4 L1906.8 860.4 L1907.4 860.4 L1908.0 843.8 L1908.6 854.5 L1909.2 851.1 L1909.8 859.9 L1910.4 863.8 L1911.0 855.6 L1911.6 861.2 L1912.2 835.7 L1912.8 874.0 L1913.4 864.6 L1914.0 855.1 L1914.6 858.0 L1915.2 852.3 L1915.8 844.6 L1916.4 857.7 L1917.0 864.7 L1917.6 848.5 L1918.2 849.0 L1918.8 841.1 L1919.4 833.1 L1920.0 837.7 L1920.6 842.5 L1921.2 843.2 L1921.8 823.4 L1922.4 848.8 L1923.0 843.0 L1923.6 821.0 L1924.2 863.6 L1924.8 851.2 L1925.4 851.9 L1926.0 848.9 L1926.6 845.7 L1927.2 841.5 L1927.8 848.4 L1928.4 847.7 L1929.0 845.6 L1929.6 848.8 L1930.2 851.1 L1930.8 857.2 L1931.4 840.1 L1932.0 854.4 L1932.6 845.3 L1933.2 846.6 L1933.8 861.2 L1934.4 860.7 L1935.0 855.9 L1935.6 850.5 L1936.2 865.7" stroke="#f14040"/>
<path d="M144.0 663.0 L144.6 680.5 L145.2 666.2 L145.8 671.8 L146.4 672.6 L147.0 672.2 L147.6 671.5 L148.2 671.0 L148.8 673.1 L149.4 666.5 L150.0 676.5 L150.6 669.0 L151.2 675.3 L151.8 671.8 L152.4 671.5 L153.0 675.5 L153.6 670.6 L154.2 672.2 L154.8 664.0 L155.4 682.6 L156.0 673.2 L156.6 672.0 L157.2 673.7 L157.8 662.0 L158.4 660.5 L159.0 673.5 L159.6 652.7 L160.2 660.3 L160.8 647.4 L161.4 671.0 L162.0 651.3 L162.6 665.0 L163.2 648.0 L163.8 648.8 L164.4 669.0 L165.0 654.5 L165.6 638.3 L166.2 654.5 L166.8 658.8 L167.4 648.5 L168.0 644.0 L168.6 647.9 L169.2 634.8 L169.8 668.0 L170.4 663.7 L171.0 641.1 L171.6 635.1 L172.2 647.1 L172.8 639.6 L173.4 650.1 L174.0 637.1 L174.6 646.7 L175.2 656.4 L175.8 650.6 L176.4 660.1 L177.0 635.7 L177.6 647.9 L178.2 665.5 L178.8 649.6 L179.4 647.9 L180.0 657.8 L180.6 655.7 L181.2 653.2 L181.8 629.5 L182.4 663.7 L183.0 636.5 L183.6 655.6 L184.2 647.9 L184.8 661.7 L185.4 658.8 L186.0 653.9 L186.6 636.2 L187.2 653.8 L187.8 658.0 L188.4 650.7 L189.0 662.0 L189.6 648.4 L190.2 658.4 L190.8 636.8 L191.4 656.9 L192.0 640.4 L192.6 661.1 L193.2 645.8 L193.8 659.8 L194.4 654.8 L195.0 631.6 L195.6 660.5 L196.2 632.0 L196.8 640.6 L197.4 650.2 L198.0 641.1 L198.6 647.2 L199.2 642.8 L199.8 652.6 L200.4 645.9 L201.0 644.0 L201.6 655.6 L202.2 643.6 L202.8 635.8 L203.4 650.0 L204.0 650.8 L204.6 638.5 L205.2 645.1 L205.8 652.9 L206.4 647.3 L207.0 642.2 L207.6 646.8 L208.2 640.0 L208.8 648.6 L209.4 639.1 L210.0 648.0 L210.6 639.8 L211.2 646.0 L211.8 635.8 L212.4 652.0 L213.0 638.7 L213.6 645.5 L214.2 643.7 L214.8 645.9 L215.4 639.1 L216.0 641.1 L216.6 639.8 L217.2 635.7 L217.8 645.2 L218.4 641.0 L219.0 640.3 L219.6 645.2 L220.2 643.0 L220.8 640.2 L221.4 635.3 L222.0 633.5 L222.6 639.4 L223.2 632.5 L223.8 633.1 L224.4 628.5 L225.0 641.5 L225.6 636.9 L226.2 642.2 L226.8 633.4 L227.4 629.2 L228.0 635.3 L228.6 641.3 L229.2 644.3 L229.8 636.9 L230.4 644.5 L231.0 635.6 L231.6 632.5 L232.2 653.0 L232.8 633.9 L233.4 648.8 L234.0 639.8 L234.6 641.9 L235.2 636.8 L235.8 639.4 L236.4 636.3 L237.0 622.0 L237.6 660.4 L238.2 649.6 L238.8 644.6 L239.4 635.5 L240.0 640.6 L240.6 627.7 L241.2 642.2 L241.8 629.8 L242.4 635.1 L243.0 630.7 L243.6 638.3 L244.2 612.7 L244.8 627.1 L245.4 622.8 L246.0 624.4 L246.6 612.9 L247.2 642.3 L247.8 620.9 L248.4 629.9 L249.0 614.9 L249.6 607.4 L250.2 638.4 L250.8 618.8 L251.4 620.1 L252.0 626.3 L252.6 626.1 L253.2 611.0 L253.8 609.0 L254.4 615.0 L255.0 612.9 L255.6 621.0 L256.2 630.3 L256.8 610.4 L257.4 625.6 L258.0 604.0 L258.6 632.0 L259.2 627.1 L259.8 631.4 L260.4 612.5 L261.0 602.4 L261.6 616.9 L262.2 605.8 L262.8 628.6 L263.4 614.3 L264.0 619.2 L264.6 603.2 L265.2 610.1 L265.8 624.9 L266.4 632.1 L267.0 622.0 L267.6 613.0 L268.2 631.5 L268.8 617.5 L269.4 597.8 L270.0 597.5 L270.6 621.0 L271.2 616.8 L271.8 603.9 L272.4 627.4 L273.0 627.4 L273.6 604.7 L274.2 606.5 L274.8 598.0 L275.4 629.0 L276.0 614.7 L276.6 605.7 L277.2 609.1 L277.8 623.1 L278.4 614.8 L279.0 593.6 L279.6 593.0 L280.2 610.8 L280.8 603.8 L281.4 614.3 L282.0 620.4 L282.6 619.2 L283.2 591.6 L283.8 621.5 L284.4 601.2 L285.0 604.9 L285.6 608.2 L286.2 608.6 L286.8 605.4 L287.4 618.0 L288.0 594.6 L288.6 609.5 L289.2 616.8 L289.8 609.1 L290.4 614.7 L291.0 598.4 L291.6 614.3 L292.2 600.0 L292.8 606.9 L293.4 615.1 L294.0 590.5 L294.6 627.8 L295.2 592.4 L295.8 617.4 L296.4 618.3 L297.0 598.1 L297.6 598.6 L298.2 596.9 L298.8 597.8 L299.4 597.3 L300.0 609.7 L300.6 594.9 L301.2 600.1 L301.8 605.2 L302.4 598.9 L303.0 600.3 L303.6 599.3 L304.2 593.7 L304.8 605.7 L305.4 593.9 L306.0 596.9 L306.6 593.9 L307.2 598.2 L307.8 600.0 L308.4 604.8 L309.0 600.4 L309.6 586.4 L310.2 594.2 L310.8 591.9 L311.4 582.7 L312.0 594.3 L312.6 601.5 L313.2 596.6 L313.8 587.0 L314.4 578.6 L315.0 576.9 L315.6 578.0 L316.2 595.7 L316.8 573.7 L317.4 604.7 L318.0 600.5 L318.6 580.9 L319.2 583.0 L319.8 586.5 L320.4 577.5 L321.0 597.8 L321.6 584.7 L322.2 578.3 L322.8 581.3 L323.4 572.4 L324.0 585.1 L324.6 586.5 L325.2 595.9 L325.8 580.6 L326.4 593.2 L327.0 592.0 L327.6 573.3 L328.2 582.1 L328.8 585.8 L329.4 571.7 L330.0 578.8 L330.6 572.1 L331.2 582.7 L331.8 579.3 L332.4 575.1 L333.0 587.0 L333.6 561.0 L334.2 595.0 L334.8 578.6 L335.4 575.9 L336.0 584.5 L336.6 578.8 L337.2 567.6 L337.8 584.2 L338.4 576.0 L339.0 574.9 L339.6 567.0 L340.2 558.0 L340.8 557.6 L341.4 557.2 L342.0 585.6 L342.6 577.6 L343.2 562.5 L343.8 563.8 L344.4 564.6 L345.0 574.9 L345.6 558.7 L346.2 572.7 L346.8 554.7 L347.4 580.4 L348.0 577.0 L348.6 581.0 L349.2 569.6 L349.8 567.0 L350.4 577.4 L351.0 581.7 L351.6 553.2 L352.2 577.4 L352.8 552.4 L353.4 559.8 L354.0 576.4 L354.6 577.2 L355.2 559.1 L355.8 542.0 L356.4 578.3 L357.0 572.5 L357.6 559.8 L358.2 562.3 L358.8 582.8 L359.4 565.0 L360.0 547.9 L360.6 562.6 L361.2 573.7 L361.8 577.0 L362.4 553.3 L363.0 580.9 L363.6 557.9 L364.2 587.8 L364.8 558.8 L365.4 570.8 L366.0 567.0 L366.6 578.7 L367.2 553.7 L367.8 573.9 L368.4 580.1 L369.0 554.1 L369.6 579.2 L370.2 580.2 L370.8 574.8 L371.4 557.2 L372.0 554.7 L372.6 588.8 L373.2 582.2 L373.8 568.8 L374.4 565.2 L375.0 558.2 L375.6 560.4 L376.2 576.5 L376.8 573.7 L377.4 572.1 L378.0 570.3 L378.6 568.4 L379.2 555.3 L379.8 582.1 L380.4 561.2 L381.0 581.5 L381.6 572.0 L382.2 547.3 L382.8 580.4 L383.4 557.9 L384.0 569.9 L384.6 562.7 L385.2 563.8 L385.8 551.9 L386.4 573.1 L387.0 575.5 L387.6 563.8 L388.2 568.6 L388.8 570.9 L389.4 551.7 L390.0 551.0 L390.6 555.4 L391.2 567.4 L391.8 545.4 L392.4 556.6 L393.0 545.2 L393.6 572.0 L394.2 552.3 L394.8 570.4 L395.4 558.0 L396.0 545.3 L396.6 568.1 L397.2 571.2 L397.8 548.6 L398.4 545.8 L399.0 560.9 L399.6 551.8 L400.2 558.8 L400.8 564.8 L401.4 550.5 L402.0 568.8 L402.6 553.7 L403.2 543.7 L403.8 555.0 L404.4 557.3 L405.0 545.2 L405.6 569.0 L406.2 551.7 L406.8 564.2 L407.4 552.0 L408.0 539.7 L408.6 562.7 L409.2 532.5 L409.8 531.5 L410.4 572.0 L411.0 571.5 L411.6 541.3 L412.2 548.3 L412.8 551.2 L413.4 560.3 L414.0 563.2 L414.6 538.5 L415.2 541.0 L415.8 561.3 L416.4 556.1 L417.0 549.7 L417.6 537.5 L418.2 565.0 L418.8 536.7 L419.4 561.4 L420.0 537.4 L420.6 553.4 L421.2 553.0 L421.8 538.5 L422.4 566.6 L423.0 543.8 L423.6 541.2 L424.2 557.3 L424.8 540.0 L425.4 565.7 L426.0 553.6 L426.6 558.6 L427.2 537.7 L427.8 545.0 L428.4 543.8 L429.0 557.9 L429.6 537.6 L430.2 550.4 L430.8 549.7 L431.4 557.4 L432.0 547.7 L432.6 542.0 L433.2 545.6 L433.8 519.5 L434.4 533.4 L435.0 516.8 L435.6 553.0 L436.2 540.7 L436.8 530.6 L437.4 526.3 L438.0 541.5 L438.6 524.9 L439.2 538.4 L439.8 535.3 L440.4 522.9 L441.0 543.1 L441.6 530.0 L442.2 519.7 L442.8 537.1 L443.4 538.4 L444.0 507.6 L444.6 543.9 L445.2 523.5 L445.8 518.5 L446.4 537.1 L447.0 522.6 L447.6 534.9 L448.2 511.4 L448.8 517.4 L449.4 508.8 L450.0 511.8 L450.6 520.7 L451.2 519.1 L451.8 499.5 L452.4 544.6 L453.0 536.3 L453.6 521.7 L454.2 538.9 L454.8 533.7 L455.4 531.8 L456.0 504.5 L456.6 519.6 L457.2 535.6 L457.8 528.3 L458.4 532.1 L459.0 524.3 L459.6 538.8 L460.2 514.7 L460.8 546.7 L461.4 544.7 L462.0 538.3 L462.6 537.4 L463.2 512.7 L463.8 517.3 L464.4 520.9 L465.0 536.9 L465.6 531.5 L466.2 518.7 L466.8 539.9 L467.4 535.7 L468.0 532.2 L468.6 530.2 L469.2 523.6 L469.8 530.1 L470.4 538.8 L471.0 518.9 L471.6 542.5 L472.2 542.5 L472.8 526.7 L473.4 532.4 L474.0 522.3 L474.6 542.5 L475.2 537.9 L475.8 526.8 L476.4 530.6 L477.0 517.5 L477.6 522.8 L478.2 525.1 L478.8 531.6 L479.4 537.2 L480.0 541.5 L480.6 505.1 L481.2 504.0 L481.8 542.5 L482.4 538.2 L483.0 519.9 L483.6 510.7 L484.2 524.7 L484.8 526.2 L485.4 532.6 L486.0 539.6 L486.6 513.3 L487.2 523.6 L487.8 523.1 L488.4 522.9 L489.0 506.7 L489.6 535.9 L490.2 538.6 L490.8 530.5 L491.4 521.8 L492.0 530.7 L492.6 505.1 L493.2 531.9 L493.8 512.4 L494.4 523.3 L495.0 503.1 L495.6 510.1 L496.2 503.0 L496.8 536.0 L497.4 513.3 L498.0 512.4 L498.6 509.3 L499.2 528.2 L499.8 527.3 L500.4 511.5 L501.0 509.8 L501.6 534.4 L502.2 519.4 L502.8 506.7 L503.4 523.5 L504.0 512.2 L504.6 527.3 L505.2 511.8 L505.8 519.3 L506.4 501.0 L507.0 533.0 L507.6 499.6 L508.2 508.2 L508.8 513.9 L509.4 506.7 L510.0 510.1 L510.6 519.3 L511.2 517.7 L511.8 517.6 L512.4 507.5 L513.0 511.1 L513.6 503.3 L514.2 507.1 L514.8 497.8 L515.4 519.3 L516.0 506.4 L516.6 501.2 L517.2 514.8 L517.8 512.1 L518.4 497.7 L519.0 495.4 L519.6 510.5 L520.2 520.0 L520.8 520.0 L521.4 515.2 L522.0 503.9 L522.6 520.5 L523.2 519.2 L523.8 500.5 L524.4 516.5 L525.0 502.9 L525.6 491.5 L526.2 519.3 L526.8 516.6 L527.4 515.6 L528.0 489.7 L528.6 514.6 L529.2 501.9 L529.8 502.0 L530.4 501.3 L531.0 492.1 L531.6 498.2 L532.2 510.7 L532.8 483.2 L533.4 497.4 L534.0 491.1 L534.6 499.7 L535.2 503.4 L535.8 486.4 L536.4 478.9 L537.0 489.2 L537.6 492.3 L538.2 476.7 L538.8 508.8 L539.4 489.7 L540.0 476.9 L540.6 506.8 L541.2 509.1 L541.8 492.2 L542.4 478.4 L543.0 498.8 L543.6 483.5 L544.2 491.2 L544.8 480.0 L545.4 511.1 L546.0 490.9 L546.6 489.6 L547.2 506.3 L547.8 492.7 L548.4 487.4 L549.0 512.0 L549.6 484.7 L550.2 490.0 L550.8 501.4 L551.4 486.0 L552.0 501.4 L552.6 490.0 L553.2 512.4 L553.8 501.2 L554.4 490.9 L555.0 497.4 L555.6 492.2 L556.2 491.7 L556.8 501.5 L557.4 501.1 L558.0 504.8 L558.6 512.8 L559.2 499.7 L559.8 508.9 L560.4 498.3 L561.0 493.7 L561.6 513.0 L562.2 512.1 L562.8 499.7 L563.4 499.1 L564.0 499.7 L564.6 501.8 L565.2 498.3 L565.8 502.3 L566.4 496.9 L567.0 491.1 L567.6 497.1 L568.2 492.9 L568.8 496.9 L569.4 491.0 L570.0 493.2 L570.6 490.8 L571.2 493.5 L571.8 483.2 L572.4 504.7 L573.0 483.6 L573.6 492.0 L574.2 490.9 L574.8 502.3 L575.4 492.2 L576.0 484.5 L576.6 501.3 L577.2 498.8 L577.8 465.3 L578.4 496.3 L579.0 484.7 L579.6 472.3 L580.2 481.7 L580.8 482.7 L581.4 485.9 L582.0 488.9 L582.6 487.1 L583.2 468.8 L583.8 468.3 L584.4 475.5 L585.0 468.9 L585.6 471.7 L586.2 460.2 L586.8 465.0 L587.4 470.8 L588.0 469.7 L588.6 461.0 L589.2 490.0 L589.8 477.1 L590.4 457.0 L591.0 466.1 L591.6 459.9 L592.2 485.9 L592.8 456.7 L593.4 477.8 L594.0 464.0 L594.6 463.5 L595.2 453.2 L595.8 454.7 L596.4 492.0 L597.0 466.2 L597.6 467.7 L598.0 474.0 L599.4 471.6 L596.9 469.1 L599.6 466.7 L597.1 464.2 L599.9 461.8 L597.4 459.3 L600.1 456.9 L597.6 454.4 L599.0 452.0 L600.6 454.0 L598.3 456.0 L601.2 458.0 L598.9 460.0 L600.5 462.0 L602.0 459.8 L599.7 457.7 L602.5 455.5 L600.2 453.3 L603.0 451.2 L602.0 449.0 L600.8 447.0 L603.5 445.0 L601.1 443.0 L603.8 441.0 L602.6 439.0 L601.5 436.9 L604.3 434.7 L601.9 432.6 L604.8 430.4 L602.4 428.3 L605.2 426.1 L604.1 424.0 L602.8 422.0 L605.4 420.0 L602.8 418.0 L605.4 416.0 L604.1 414.0 L602.9 411.6 L605.5 409.2 L603.0 406.9 L604.3 404.5 L605.8 402.0 L603.5 399.6 L606.3 397.1 L605.2 394.6 L603.9 392.3 L606.6 390.1 L605.3 387.8 L605.1 388.9 L607.5 390.0 L609.3 388.0 L607.2 386.0 L610.3 384.0 L609.5 382.0 L609.1 380.0 L611.2 378.0 L612.8 380.3 L610.6 382.7 L612.2 385.0 L613.6 387.4 L611.1 389.9 L613.8 392.3 L611.2 394.8 L613.9 397.2 L611.4 399.6 L614.1 402.1 L612.9 404.5 L611.6 407.0 L614.2 409.4 L611.7 411.9 L613.0 414.4 L614.7 416.4 L612.5 418.4 L615.5 420.3 L613.3 422.3 L615.0 424.3 L616.9 422.7 L614.9 421.0 L616.8 419.4 L618.1 421.7 L615.6 423.9 L618.2 426.2 L615.7 428.4 L618.3 430.7 L615.8 433.0 L618.4 435.2 L615.9 437.5 L618.5 439.7 L617.3 442.0 L616.2 439.7 L619.0 437.3 L616.6 435.0 L619.4 432.7 L617.0 430.3 L618.5 428.0 L619.9 430.3 L617.5 432.7 L620.2 435.0 L617.7 437.3 L620.5 439.7 L618.0 442.0 L620.7 444.3 L618.3 446.7 L621.0 449.0 L618.5 451.3 L621.3 453.7 L620.1 456.0 L618.9 453.8 L621.6 451.5 L619.1 449.2 L621.8 447.0 L619.4 444.8 L622.1 442.5 L619.6 440.2 L621.0 438.0 L621.0 457.4 L621.6 447.6 L622.2 457.5 L622.8 433.9 L623.4 444.4 L624.0 459.5 L624.6 452.6 L625.2 454.4 L625.8 461.9 L626.4 462.3 L627.0 431.8 L627.6 437.9 L628.2 480.4 L628.8 445.3 L629.4 449.4 L630.0 461.2 L630.6 460.4 L631.2 473.1 L631.8 449.9 L632.4 454.8 L633.0 443.0 L633.6 466.7 L634.2 462.0 L634.8 437.8 L635.4 438.6 L636.0 452.3 L636.6 471.0 L637.2 446.1 L637.8 446.4 L638.4 427.3 L639.0 465.7 L639.6 451.1 L640.2 440.5 L640.8 464.5 L641.4 462.2 L642.0 468.2 L642.6 442.5 L643.2 452.7 L643.8 453.6 L644.4 461.0 L645.0 478.1 L645.6 443.0 L646.2 479.4 L646.8 486.6 L647.4 453.9 L648.0 474.7 L648.6 485.4 L649.2 476.2 L649.8 449.5 L650.4 494.0 L651.0 457.9 L651.6 472.7 L652.2 470.5 L652.8 491.5 L653.4 485.8 L654.0 468.4 L654.6 506.8 L655.2 465.2 L655.8 496.4 L656.4 470.6 L657.0 503.0 L657.6 481.9 L658.2 498.5 L658.8 497.8 L659.4 480.1 L660.0 477.6 L660.6 482.4 L661.2 470.5 L661.8 506.8 L662.4 492.0 L663.0 492.1 L663.6 495.5 L664.2 489.4 L664.8 489.1 L665.4 483.4 L666.0 479.6 L666.6 495.3 L667.2 487.1 L667.8 485.0 L668.4 487.6 L669.0 485.2 L669.6 486.4 L670.2 486.4 L670.8 468.5 L671.4 472.6 L672.0 468.4 L672.6 498.4 L673.2 494.3 L673.8 492.3 L674.4 479.5 L675.0 497.5 L675.6 471.9 L676.2 487.0 L676.8 492.8 L677.4 488.4 L678.0 480.8 L678.6 494.2 L679.2 480.0 L679.8 496.0 L680.4 481.1 L681.0 492.2 L681.6 481.7 L682.2 492.0 L682.8 488.1 L683.4 498.8 L684.0 495.8 L684.6 489.8 L685.2 498.9 L685.8 481.6 L686.4 497.2 L687.0 488.9 L687.6 478.0 L688.2 502.6 L688.8 483.6 L689.4 477.3 L690.0 487.9 L690.6 480.1 L691.2 496.9 L691.8 471.6 L692.4 477.9 L693.0 474.0 L693.6 502.6 L694.2 484.4 L694.8 493.7 L695.4 485.8 L696.0 469.5 L696.6 501.5 L697.2 476.6 L697.8 489.6 L698.4 497.5 L699.0 484.7 L699.6 488.4 L700.2 488.9 L700.8 480.5 L701.4 496.2 L702.0 480.0 L702.6 503.6 L703.2 500.1 L703.8 493.0 L704.4 484.8 L705.0 490.6 L705.6 493.5 L706.2 489.9 L706.8 476.8 L707.4 498.7 L708.0 485.1 L708.6 474.7 L709.2 501.5 L709.8 485.8 L710.4 492.5 L711.0 481.7 L711.6 495.1 L712.2 490.0 L712.8 483.0 L713.4 486.8 L714.0 495.7 L714.6 479.1 L715.2 497.9 L715.8 500.4 L716.4 487.9 L717.0 481.2 L717.6 493.2 L718.2 487.4 L718.8 475.8 L719.4 498.4 L720.0 484.3 L720.6 477.8 L721.2 484.1 L721.8 478.7 L722.4 473.6 L723.0 485.8 L723.6 492.2 L724.2 464.9 L724.8 480.9 L725.4 474.0 L726.0 472.3 L726.6 482.2 L727.2 481.3 L727.8 461.0 L728.4 500.5 L729.0 461.3 L729.6 489.3 L730.2 477.9 L730.8 475.8 L731.4 472.8 L732.0 479.5 L732.6 487.8 L733.2 478.4 L733.8 476.2 L734.4 493.8 L735.0 478.3 L735.6 482.1 L736.2 485.0 L736.8 479.7 L737.4 474.2 L738.0 463.0 L738.6 500.5 L739.2 478.8 L739.8 463.6 L740.4 471.5 L741.0 485.6 L741.6 498.7 L742.2 478.0 L742.8 486.1 L743.4 480.4 L744.0 477.6 L744.6 479.0 L745.2 484.4 L745.8 469.7 L746.4 468.4 L747.0 492.0 L747.6 464.8 L748.2 481.5 L748.8 476.0 L749.4 478.0 L750.0 485.4 L750.6 474.6 L751.2 462.0 L751.8 475.6 L752.4 479.3 L753.0 494.4 L753.6 482.8 L754.2 462.4 L754.8 474.2 L755.4 479.9 L756.0 463.9 L756.6 475.0 L757.2 470.6 L757.8 482.7 L758.4 468.0 L759.0 455.8 L759.6 496.0 L760.2 478.0 L760.8 458.4 L761.4 462.7 L762.0 460.2 L762.6 485.5 L763.2 489.5 L763.8 463.0 L764.4 464.5 L765.0 474.7 L765.6 462.0 L766.2 494.0 L766.8 480.7 L767.4 476.4 L768.0 478.9 L768.6 476.0 L769.2 465.8 L769.8 479.4 L770.4 461.4 L771.0 471.3 L771.6 465.2 L772.2 471.5 L772.8 458.9 L773.4 476.0 L774.0 453.7 L774.6 493.0 L775.2 489.8 L775.8 486.4 L776.4 483.7 L777.0 480.4 L777.6 471.3 L778.2 486.1 L778.8 474.2 L779.4 477.6 L780.0 470.6 L780.6 471.4 L781.2 468.8 L781.8 492.1 L782.4 468.4 L783.0 491.0 L783.6 474.4 L784.2 476.1 L784.8 479.1 L785.4 468.7 L786.0 472.5 L786.6 474.6 L787.2 482.7 L787.8 480.9 L788.4 482.0 L789.0 475.2 L789.6 474.5 L790.2 478.7 L790.8 493.5 L791.4 480.5 L792.0 487.8 L792.6 476.5 L793.2 470.0 L793.8 478.6 L794.4 480.5 L795.0 467.4 L795.6 496.0 L796.2 473.6 L796.8 474.1 L797.4 475.7 L798.0 472.8 L798.6 484.6 L799.2 489.0 L799.8 477.5 L800.4 477.4 L801.0 492.6 L801.6 483.4 L802.2 479.2 L802.8 476.4 L803.4 479.3 L804.0 481.5 L804.6 494.8 L805.2 490.6 L805.8 482.5 L806.4 469.7 L807.0 486.0 L807.6 466.3 L808.2 496.0 L808.8 484.4 L809.4 474.7 L810.0 492.6 L810.6 478.7 L811.2 469.2 L811.8 490.1 L812.4 477.9 L813.0 489.9 L813.6 487.0 L814.2 484.8 L814.8 483.9 L815.4 476.8 L816.0 493.8 L816.6 475.6 L817.2 474.0 L817.8 476.8 L818.4 477.9 L819.0 471.2 L819.6 484.5 L820.2 454.7 L820.8 493.0 L821.4 476.9 L822.0 465.0 L822.6 481.9 L823.2 462.2 L823.8 476.0 L824.4 457.2 L825.0 456.8 L825.6 467.5 L826.2 480.9 L826.8 468.3 L827.4 479.9 L828.0 479.7 L828.6 477.0 L829.2 471.9 L829.8 454.3 L830.4 468.5 L831.0 455.8 L831.6 483.6 L832.2 477.7 L832.8 466.5 L833.4 448.1 L834.0 463.1 L834.6 463.8 L835.2 470.2 L835.8 465.7 L836.4 467.0 L837.0 455.0 L837.6 455.2 L838.2 443.0 L838.8 466.7 L839.4 455.0 L840.0 458.9 L840.6 469.2 L841.2 457.9 L841.8 454.1 L842.4 448.4 L843.0 467.4 L843.6 465.5 L844.2 467.3 L844.8 464.3 L845.4 468.4 L846.0 471.5 L846.6 445.0 L847.2 483.6 L847.8 468.8 L848.4 465.2 L849.0 461.6 L849.6 455.0 L850.2 469.6 L850.8 476.9 L851.4 475.2 L852.0 462.0 L852.6 485.7 L853.2 469.8 L853.8 473.7 L854.4 461.9 L855.0 465.1 L855.6 460.5 L856.2 485.4 L856.8 474.9 L857.4 483.1 L858.0 483.8 L858.6 495.2 L859.2 477.5 L859.8 489.8 L860.4 460.0 L861.0 498.4 L861.6 482.7 L862.2 478.0 L862.8 486.8 L863.4 480.6 L864.0 487.5 L864.6 473.4 L865.2 484.8 L865.8 489.4 L866.4 492.6 L867.0 483.2 L867.6 491.0 L868.2 473.1 L868.8 484.1 L869.4 480.2 L870.0 475.9 L870.6 472.9 L871.2 496.1 L871.8 478.6 L872.4 478.8 L873.0 466.3 L873.6 500.5 L874.2 466.5 L874.8 492.4 L875.4 484.2 L876.0 485.6 L876.6 470.4 L877.2 492.8 L877.8 477.0 L878.4 473.6 L879.0 487.6 L879.6 483.2 L880.2 465.9 L880.8 485.8 L881.4 473.3 L882.0 465.9 L882.6 485.8 L883.2 450.5 L883.8 499.4 L884.4 472.3 L885.0 473.9 L885.6 464.3 L886.2 464.8 L886.8 457.1 L887.4 475.6 L888.0 464.4 L888.6 469.8 L889.2 484.5 L889.8 489.3 L890.4 470.8 L891.0 479.5 L891.6 479.0 L892.2 481.3 L892.8 477.4 L893.4 476.2 L894.0 465.3 L894.6 496.0 L895.2 483.0 L895.8 473.6 L896.4 472.8 L897.0 486.5 L897.6 477.2 L898.2 486.5 L898.8 491.2 L899.4 480.8 L900.0 473.5 L900.6 488.4 L901.2 483.0 L901.8 478.9 L902.4 485.2 L903.0 479.0 L903.6 480.5 L904.2 475.8 L904.8 483.3 L905.4 477.5 L906.0 477.3 L906.6 468.4 L907.2 487.8 L907.8 485.9 L908.4 476.8 L909.0 473.5 L909.6 470.1 L910.2 475.1 L910.8 483.4 L911.4 474.0 L912.0 471.1 L912.6 462.7 L913.2 468.6 L913.8 478.3 L914.4 472.3 L915.0 472.9 L915.6 473.9 L916.2 455.8 L916.8 485.7 L917.4 472.8 L918.0 475.8 L918.6 477.8 L919.2 463.6 L919.8 480.9 L920.4 473.5 L921.0 469.5 L921.6 486.0 L922.2 466.5 L922.8 486.8 L923.4 482.4 L924.0 466.1 L924.6 481.8 L925.2 460.1 L925.8 460.0 L926.4 495.0 L927.0 465.8 L927.6 484.1 L928.2 486.0 L928.8 481.5 L929.4 493.8 L930.0 486.1 L930.6 469.0 L931.2 477.7 L931.8 471.5 L932.4 474.1 L933.0 472.5 L933.6 484.0 L934.2 488.5 L934.8 459.5 L935.4 480.7 L936.0 483.0 L936.6 478.5 L937.2 464.1 L937.8 481.6 L938.4 452.6 L939.0 492.0 L939.6 490.5 L940.2 468.8 L940.8 478.4 L941.4 476.9 L942.0 455.0 L942.6 483.2 L943.2 473.6 L943.8 454.8 L944.4 461.0 L945.0 475.2 L945.6 481.9 L946.2 461.1 L946.8 485.3 L947.4 475.5 L948.0 465.4 L948.6 463.3 L949.2 471.9 L949.8 470.2 L950.4 458.4 L951.0 462.0 L951.6 488.6 L952.2 474.7 L952.8 449.5 L953.4 490.0 L954.0 468.4 L954.6 460.2 L955.2 464.8 L955.8 459.1 L956.4 467.4 L957.0 473.0 L957.6 486.1 L958.2 470.1 L958.8 462.3 L959.4 471.5 L960.0 467.2 L960.6 475.6 L961.2 471.9 L961.8 469.2 L962.4 466.0 L963.0 476.5 L963.6 481.9 L964.2 479.9 L964.8 474.9 L965.4 463.0 L966.0 483.6 L966.6 474.9 L967.2 479.1 L967.8 464.5 L968.4 474.8 L969.0 470.8 L969.6 475.7 L970.2 471.1 L970.8 463.6 L971.4 472.9 L972.0 482.2 L972.6 467.0 L973.2 476.0 L973.8 483.3 L974.4 488.3 L975.0 467.3 L975.6 487.0 L976.2 486.1 L976.8 475.6 L977.4 465.5 L978.0 466.4 L978.6 483.0 L979.2 471.3 L979.8 468.7 L980.4 478.7 L981.0 492.2 L981.6 469.8 L982.2 458.0 L982.8 495.0 L983.4 483.0 L984.0 475.8 L984.6 475.3 L985.2 475.1 L985.8 478.7 L986.4 462.5 L987.0 487.4 L987.6 482.1 L988.2 484.1 L988.8 449.5 L989.4 494.0 L990.0 465.0 L990.6 459.8 L991.2 477.4 L991.8 479.8 L992.4 474.5 L993.0 465.1 L993.6 490.0 L994.2 467.6 L994.8 479.7 L995.4 466.4 L996.0 486.6 L996.6 482.1 L997.2 479.7 L997.8 474.7 L998.4 476.0 L999.0 483.8 L999.6 472.2 L1000.2 475.6 L1000.8 467.4 L1001.4 494.0 L1002.0 481.6 L1002.6 475.3 L1003.2 477.5 L1003.8 478.4 L1004.4 480.8 L1005.0 484.1 L1005.6 478.2 L1006.2 468.6 L1006.8 477.7 L1007.4 479.0 L1008.0 478.2 L1008.6 467.6 L1009.2 482.1 L1009.8 462.3 L1010.4 458.1 L1011.0 475.5 L1011.6 449.5 L1012.2 483.6 L1012.8 464.8 L1013.4 472.7 L1014.0 460.7 L1014.6 464.7 L1015.2 470.7 L1015.8 463.0 L1016.4 461.6 L1017.0 454.7 L1017.6 456.2 L1018.2 484.0 L1018.8 464.8 L1019.4 470.5 L1020.0 463.3 L1020.6 483.2 L1021.2 461.7 L1021.8 481.8 L1022.4 480.2 L1023.0 485.9 L1023.6 470.2 L1024.2 470.9 L1024.8 476.0 L1025.4 477.2 L1026.0 471.0 L1026.6 455.8 L1027.2 496.0 L1027.8 460.3 L1028.4 470.0 L1029.0 475.1 L1029.6 476.5 L1030.2 467.5 L1030.8 475.4 L1031.4 489.5 L1032.0 481.6 L1032.6 477.0 L1033.2 473.7 L1033.8 467.9 L1034.4 465.3 L1035.0 465.7 L1035.6 471.3 L1036.2 473.2 L1036.8 471.6 L1037.4 480.0 L1038.0 469.1 L1038.6 471.8 L1039.2 459.0 L1039.8 481.5 L1040.4 462.9 L1041.0 468.5 L1041.6 470.2 L1042.2 469.7 L1042.8 481.2 L1043.4 467.5 L1044.0 470.5 L1044.6 471.1 L1045.2 473.6 L1045.8 463.0 L1046.4 470.6 L1047.0 465.3 L1047.6 471.6 L1048.2 468.1 L1048.8 467.5 L1049.4 462.1 L1050.0 467.2 L1050.6 467.9 L1051.2 466.6 L1051.8 471.0 L1052.4 464.5 L1053.0 470.6 L1053.6 452.6 L1054.2 482.6 L1054.8 464.5 L1055.4 480.1 L1056.0 465.2 L1056.6 465.8 L1057.2 466.0 L1057.8 470.6 L1058.4 475.5 L1059.0 473.0 L1059.6 472.7 L1060.2 456.1 L1060.8 475.1 L1061.4 458.9 L1062.0 465.9 L1062.6 481.3 L1063.2 466.5 L1063.8 477.4 L1064.4 472.6 L1065.0 461.9 L1065.6 474.0 L1066.2 456.8 L1066.8 498.4 L1067.4 488.0 L1068.0 475.0 L1068.6 477.6 L1069.2 479.6 L1069.8 456.6 L1070.4 467.1 L1071.0 449.5 L1071.6 490.0 L1072.2 467.4 L1072.8 478.3 L1073.4 458.3 L1074.0 480.2 L1074.6 480.3 L1075.2 472.3 L1075.8 468.3 L1076.4 466.8 L1077.0 467.8 L1077.6 472.1 L1078.2 473.1 L1078.8 468.5 L1079.4 465.7 L1080.0 479.0 L1080.6 468.2 L1081.2 470.4 L1081.8 461.5 L1082.4 466.1 L1083.0 469.3 L1083.6 462.1 L1084.2 467.0 L1084.8 466.9 L1085.4 453.7 L1086.0 485.7 L1086.6 474.8 L1087.2 454.9 L1087.8 454.4 L1088.4 461.8 L1089.0 472.6 L1089.6 473.0 L1090.2 474.2 L1090.8 473.2 L1091.4 479.0 L1092.0 474.9 L1092.6 473.7 L1093.2 475.2 L1093.8 465.9 L1094.4 470.3 L1095.0 467.3 L1095.6 482.0 L1096.2 456.8 L1096.8 487.8 L1097.4 475.9 L1098.0 472.3 L1098.6 470.5 L1099.2 464.6 L1099.8 468.5 L1100.4 455.7 L1101.0 456.8 L1101.6 467.2 L1102.2 484.3 L1102.8 471.0 L1103.4 465.3 L1104.0 458.6 L1104.6 467.8 L1105.2 479.2 L1105.8 455.9 L1106.4 470.9 L1107.0 465.7 L1107.6 461.2 L1108.2 474.8 L1108.8 449.5 L1109.4 483.6 L1110.0 469.1 L1110.6 462.7 L1111.2 475.6 L1111.8 464.1 L1112.4 460.6 L1113.0 463.5 L1113.6 468.8 L1114.2 469.5 L1114.8 447.4 L1115.4 475.0 L1116.0 466.4 L1116.6 461.6 L1117.2 470.7 L1117.8 464.3 L1118.4 459.0 L1119.0 458.5 L1119.6 458.7 L1120.2 462.8 L1120.8 460.0 L1121.4 463.7 L1122.0 459.2 L1122.6 458.0 L1123.2 458.8 L1123.8 456.4 L1124.4 467.8 L1125.0 446.4 L1125.6 440.0 L1126.2 471.0 L1126.8 454.1 L1127.4 467.0 L1128.0 453.7 L1128.6 461.0 L1129.2 447.9 L1129.8 457.3 L1130.4 458.4 L1131.0 454.4 L1131.6 448.2 L1132.2 466.1 L1132.8 446.2 L1133.4 452.3 L1134.0 460.8 L1134.6 461.7 L1135.2 462.5 L1135.8 443.0 L1136.4 468.9 L1137.0 448.7 L1137.6 460.2 L1138.2 457.2 L1138.8 454.0 L1139.4 457.1 L1140.0 450.6 L1140.6 455.5 L1141.2 457.6 L1141.8 454.0 L1142.4 454.0 L1143.0 465.3 L1143.6 451.0 L1144.2 444.2 L1144.8 454.4 L1145.4 462.1 L1146.0 452.7 L1146.6 454.2 L1147.2 450.3 L1147.8 453.7 L1148.4 453.9 L1149.0 459.8 L1149.6 449.4 L1150.2 445.4 L1150.8 436.4 L1151.4 464.6 L1152.0 457.8 L1152.6 448.6 L1153.2 459.5 L1153.8 455.8 L1154.4 449.9 L1155.0 457.1 L1155.6 464.4 L1156.2 459.4 L1156.8 453.2 L1157.4 457.5 L1158.0 452.9 L1158.6 464.0 L1159.2 454.3 L1159.8 449.4 L1160.4 465.3 L1161.0 460.8 L1161.6 442.0 L1162.2 474.0 L1162.8 446.8 L1163.4 465.9 L1164.0 458.9 L1164.6 446.1 L1165.2 467.5 L1165.8 459.8 L1166.4 458.5 L1167.0 448.2 L1167.6 460.0 L1168.2 457.2 L1168.8 452.0 L1169.4 460.4 L1170.0 462.9 L1170.6 467.7 L1171.2 455.0 L1171.8 443.0 L1172.4 483.6 L1173.0 475.0 L1173.6 454.7 L1174.2 482.9 L1174.8 460.1 L1175.4 485.7 L1176.0 462.2 L1176.6 472.4 L1177.2 460.8 L1177.8 458.2 L1178.4 465.2 L1179.0 465.4 L1179.6 476.7 L1180.2 470.1 L1180.8 460.7 L1181.4 475.0 L1182.0 447.7 L1182.6 447.4 L1183.2 499.4 L1183.8 479.1 L1184.4 458.9 L1185.0 455.5 L1185.6 469.3 L1186.2 483.4 L1186.8 475.9 L1187.4 465.5 L1188.0 465.8 L1188.6 463.7 L1189.2 450.8 L1189.8 474.2 L1190.4 463.1 L1191.0 458.0 L1191.6 471.5 L1192.2 466.8 L1192.8 444.2 L1193.4 479.4 L1194.0 467.7 L1194.6 460.3 L1195.2 453.9 L1195.8 466.9 L1196.4 460.0 L1197.0 466.6 L1197.6 449.6 L1198.2 466.6 L1198.8 459.5 L1199.4 459.6 L1200.0 470.3 L1200.6 461.0 L1201.2 445.2 L1201.8 482.6 L1202.4 468.3 L1203.0 461.6 L1203.6 477.4 L1204.2 458.5 L1204.8 469.5 L1205.4 472.9 L1206.0 467.0 L1206.6 474.4 L1207.2 472.2 L1207.8 474.8 L1208.4 463.0 L1209.0 458.6 L1209.6 475.9 L1210.2 473.3 L1210.8 468.8 L1211.4 468.7 L1212.0 473.0 L1212.6 467.1 L1213.2 463.6 L1213.8 449.5 L1214.4 486.8 L1215.0 458.6 L1215.6 468.8 L1216.2 466.1 L1216.8 460.8 L1217.4 484.4 L1218.0 461.0 L1218.6 459.8 L1219.2 466.3 L1219.8 464.2 L1220.4 462.8 L1221.0 476.6 L1221.6 466.5 L1222.2 472.3 L1222.8 476.4 L1223.4 462.8 L1224.0 468.9 L1224.6 446.3 L1225.2 480.4 L1225.8 466.6 L1226.4 467.0 L1227.0 450.3 L1227.6 456.4 L1228.2 467.3 L1228.8 463.6 L1229.4 457.6 L1230.0 459.0 L1230.6 462.0 L1231.2 457.6 L1231.8 458.1 L1232.4 453.5 L1233.0 460.4 L1233.6 454.5 L1234.2 458.4 L1234.8 440.0 L1235.4 471.0 L1236.0 459.7 L1236.6 455.3 L1237.2 466.5 L1237.8 468.3 L1238.4 450.5 L1239.0 452.0 L1239.6 456.0 L1240.2 452.9 L1240.8 455.9 L1241.4 454.1 L1242.0 460.8 L1242.6 453.0 L1243.2 443.0 L1243.8 478.3 L1244.4 463.5 L1245.0 465.2 L1245.6 451.5 L1246.2 456.9 L1246.8 455.4 L1247.4 452.6 L1248.0 463.2 L1248.6 451.2 L1249.2 458.1 L1249.8 445.5 L1250.4 442.0 L1251.0 454.7 L1251.6 457.8 L1252.2 433.2 L1252.8 436.8 L1253.4 453.5 L1254.0 456.8 L1254.6 446.6 L1255.2 425.2 L1255.8 464.6 L1256.4 456.5 L1257.0 462.8 L1257.6 449.8 L1258.2 437.8 L1258.8 445.2 L1259.4 448.1 L1260.0 446.7 L1260.6 446.9 L1261.2 447.9 L1261.8 458.7 L1262.4 431.5 L1263.0 466.7 L1263.6 446.3 L1264.2 445.9 L1264.8 443.8 L1265.4 446.3 L1266.0 452.9 L1266.6 457.1 L1267.2 456.0 L1267.8 454.8 L1268.4 437.9 L1269.0 448.3 L1269.6 470.9 L1270.2 451.4 L1270.8 437.9 L1271.4 472.0 L1272.0 459.7 L1272.6 465.0 L1273.2 450.9 L1273.8 457.0 L1274.4 460.9 L1275.0 451.3 L1275.6 460.4 L1276.2 461.6 L1276.8 452.6 L1277.4 454.8 L1278.0 456.4 L1278.6 455.6 L1279.2 444.5 L1279.8 458.6 L1280.4 448.9 L1281.0 449.7 L1281.6 437.9 L1282.2 473.0 L1282.8 455.0 L1283.4 445.1 L1284.0 450.5 L1284.6 466.4 L1285.2 461.9 L1285.8 473.5 L1286.4 452.6 L1287.0 467.5 L1287.6 472.8 L1288.2 445.8 L1288.8 452.2 L1289.4 453.7 L1290.0 461.5 L1290.6 452.9 L1291.2 457.3 L1291.8 444.3 L1292.4 471.5 L1293.0 446.0 L1293.6 457.9 L1294.2 462.4 L1294.8 439.8 L1295.4 446.8 L1296.0 436.8 L1296.6 479.4 L1297.2 454.6 L1297.8 447.0 L1298.4 458.7 L1299.0 457.2 L1299.6 460.1 L1300.2 457.1 L1300.8 456.4 L1301.4 465.2 L1302.0 444.4 L1302.6 461.3 L1303.2 450.9 L1303.8 457.0 L1304.4 460.3 L1305.0 459.8 L1305.6 456.8 L1306.2 454.5 L1306.8 453.6 L1307.4 468.5 L1308.0 451.3 L1308.6 439.0 L1309.2 475.0 L1309.8 448.5 L1310.4 449.2 L1311.0 459.8 L1311.6 462.7 L1312.2 459.1 L1312.8 460.0 L1313.4 458.7 L1314.0 458.9 L1314.6 455.8 L1315.2 461.8 L1315.8 459.2 L1316.4 454.0 L1317.0 459.4 L1317.6 461.6 L1318.2 455.0 L1318.8 463.2 L1319.4 460.8 L1320.0 473.1 L1320.6 451.2 L1321.2 445.2 L1321.8 474.0 L1322.4 451.4 L1323.0 456.8 L1323.6 459.1 L1324.2 454.5 L1324.8 458.2 L1325.4 467.2 L1326.0 462.7 L1326.6 460.7 L1327.2 458.2 L1327.8 457.4 L1328.4 460.6 L1329.0 461.7 L1329.6 467.4 L1330.2 448.4 L1330.8 483.6 L1331.4 454.4 L1332.0 461.3 L1332.6 457.2 L1333.2 458.6 L1333.8 466.6 L1334.4 467.5 L1335.0 458.1 L1335.6 452.9 L1336.2 456.6 L1336.8 464.0 L1337.4 467.5 L1338.0 459.4 L1338.6 467.3 L1339.2 464.3 L1339.8 445.2 L1340.4 477.3 L1341.0 464.0 L1341.6 459.4 L1342.2 472.1 L1342.8 459.4 L1343.4 464.1 L1344.0 466.8 L1344.6 454.5 L1345.2 454.0 L1345.8 465.4 L1346.4 465.4 L1347.0 464.0 L1347.6 460.9 L1348.2 458.4 L1348.8 466.3 L1349.4 460.5 L1350.0 466.0 L1350.6 447.4 L1351.2 468.9 L1351.8 459.1 L1352.4 456.7 L1353.0 459.4 L1353.6 459.0 L1354.2 465.2 L1354.8 453.9 L1355.4 451.9 L1356.0 463.8 L1356.6 461.0 L1357.2 453.7 L1357.8 449.9 L1358.4 457.0 L1359.0 455.2 L1359.6 451.9 L1360.2 453.6 L1360.8 454.0 L1361.4 450.9 L1362.0 453.8 L1362.6 450.8 L1363.2 439.0 L1363.8 464.6 L1364.4 454.8 L1365.0 455.8 L1365.6 456.3 L1366.2 454.8 L1366.8 448.0 L1367.4 447.0 L1368.0 454.5 L1368.6 442.4 L1369.2 445.7 L1369.8 452.1 L1370.4 444.8 L1371.0 451.3 L1371.6 447.8 L1372.2 462.2 L1372.8 449.1 L1373.4 439.2 L1374.0 455.3 L1374.6 449.6 L1375.2 447.9 L1375.8 449.4 L1376.4 443.5 L1377.0 448.8 L1377.6 452.5 L1378.2 432.6 L1378.8 463.6 L1379.4 451.9 L1380.0 461.9 L1380.6 452.0 L1381.2 451.2 L1381.8 461.2 L1382.4 442.6 L1383.0 458.3 L1383.6 452.4 L1384.2 440.5 L1384.8 456.0 L1385.4 443.2 L1386.0 457.2 L1386.6 457.8 L1387.2 444.6 L1387.8 462.6 L1388.4 453.0 L1389.0 436.1 L1389.6 448.4 L1390.2 456.9 L1390.8 468.1 L1391.4 456.3 L1392.0 458.0 L1392.6 456.2 L1393.2 457.0 L1393.8 463.5 L1394.4 449.4 L1395.0 437.9 L1395.6 476.2 L1396.2 457.7 L1396.8 462.6 L1397.4 468.6 L1398.0 455.6 L1398.6 456.3 L1399.2 456.8 L1399.8 442.6 L1400.4 453.4 L1401.0 445.2 L1401.6 464.3 L1402.2 441.7 L1402.8 462.8 L1403.4 450.5 L1404.0 438.8 L1404.6 438.7 L1405.2 459.0 L1405.8 452.5 L1406.4 462.6 L1407.0 448.0 L1407.6 445.3 L1408.2 454.1 L1408.8 449.2 L1409.4 426.3 L1410.0 464.6 L1410.6 444.3 L1411.2 435.2 L1411.8 444.1 L1412.4 456.4 L1413.0 436.5 L1413.6 438.8 L1414.2 445.0 L1414.8 446.1 L1415.4 431.6 L1416.0 444.0 L1416.6 429.1 L1417.2 419.7 L1417.8 433.3 L1418.4 427.5 L1419.0 413.1 L1419.6 430.5 L1420.2 434.0 L1420.8 403.0 L1421.4 447.8 L1422.0 414.9 L1422.6 416.7 L1423.2 432.8 L1423.8 431.0 L1424.4 431.4 L1425.0 421.9 L1425.6 436.5 L1426.2 421.7 L1426.8 433.1 L1427.4 436.3 L1428.0 430.9 L1428.6 411.5 L1429.2 449.9 L1429.8 437.9 L1430.4 424.3 L1431.0 428.8 L1431.6 428.8 L1432.2 426.8 L1432.8 436.1 L1433.4 441.7 L1434.0 440.5 L1434.6 434.8 L1435.2 431.5 L1435.8 441.3 L1436.4 445.7 L1437.0 421.0 L1437.6 456.2 L1438.2 440.6 L1438.8 441.2 L1439.4 446.3 L1440.0 440.8 L1440.6 447.7 L1441.2 442.1 L1441.8 447.5 L1442.4 442.3 L1443.0 451.4 L1443.6 441.0 L1444.2 448.8 L1444.8 456.7 L1445.4 441.0 L1446.0 466.7 L1446.6 452.1 L1447.2 454.5 L1447.8 445.7 L1448.4 452.9 L1449.0 447.6 L1449.6 446.7 L1450.2 450.4 L1450.8 441.6 L1451.4 443.6 L1452.0 455.6 L1452.6 441.8 L1453.2 451.9 L1453.8 440.2 L1454.4 449.0 L1455.0 433.7 L1455.6 458.3 L1456.2 454.3 L1456.8 442.9 L1457.4 457.2 L1458.0 440.9 L1458.6 454.8 L1459.2 450.0 L1459.8 447.6 L1460.4 447.8 L1461.0 458.9 L1461.6 449.5 L1462.2 455.0 L1462.8 443.9 L1463.4 454.4 L1464.0 449.8 L1464.6 458.6 L1465.2 464.3 L1465.8 454.2 L1466.4 445.2 L1467.0 468.9 L1467.6 458.5 L1468.2 459.3 L1468.8 460.0 L1469.4 457.6 L1470.0 448.7 L1470.6 455.2 L1471.2 467.2 L1471.8 462.1 L1472.4 455.6 L1473.0 452.7 L1473.6 449.7 L1474.2 460.7 L1474.8 447.4 L1475.4 476.2 L1476.0 460.1 L1476.6 465.9 L1477.2 459.0 L1477.8 467.0 L1478.4 462.8 L1479.0 456.0 L1479.6 455.8 L1480.2 459.7 L1480.8 458.9 L1481.4 459.6 L1482.0 468.0 L1482.6 464.9 L1483.2 449.5 L1483.8 460.9 L1484.4 457.5 L1485.0 465.1 L1485.6 466.0 L1486.2 453.3 L1486.8 457.9 L1487.4 445.2 L1488.0 472.0 L1488.6 459.7 L1489.2 463.6 L1489.8 464.3 L1490.4 455.6 L1491.0 456.8 L1491.6 461.5 L1492.2 459.6 L1492.8 460.2 L1493.4 468.4 L1494.0 463.4 L1494.6 458.1 L1495.2 452.3 L1495.8 469.8 L1496.4 462.4 L1497.0 460.3 L1497.6 458.1 L1498.2 460.8 L1498.8 457.9 L1499.4 462.9 L1500.0 461.9 L1500.6 462.6 L1501.2 465.5 L1501.8 466.4 L1502.4 449.5 L1503.0 477.3 L1503.6 471.8 L1504.2 454.7 L1504.8 464.0 L1505.4 462.2 L1506.0 456.6 L1506.6 463.9 L1507.2 462.6 L1507.8 458.8 L1508.4 463.8 L1509.0 453.9 L1509.6 464.1 L1510.2 459.0 L1510.8 448.8 L1511.4 465.8 L1512.0 462.3 L1512.6 453.6 L1513.2 454.1 L1513.8 452.3 L1514.4 453.7 L1515.0 460.9 L1515.6 457.7 L1516.2 429.4 L1516.8 471.0 L1517.4 461.9 L1518.0 454.1 L1518.6 452.0 L1519.2 461.3 L1519.8 446.4 L1520.4 467.4 L1521.0 446.9 L1521.6 454.7 L1522.2 448.9 L1522.8 448.5 L1523.4 455.4 L1524.0 452.2 L1524.6 456.1 L1525.2 432.6 L1525.8 471.0 L1526.4 461.5 L1527.0 448.7 L1527.6 445.9 L1528.2 460.5 L1528.8 454.9 L1529.4 459.4 L1530.0 454.0 L1530.6 460.0 L1531.2 454.5 L1531.8 442.4 L1532.4 456.8 L1533.0 456.1 L1533.6 455.8 L1534.2 459.9 L1534.8 458.4 L1535.4 450.6 L1536.0 459.8 L1536.6 458.9 L1537.2 456.7 L1537.8 445.2 L1538.4 466.7 L1539.0 459.1 L1539.6 457.1 L1540.2 454.9 L1540.8 464.0 L1541.4 456.4 L1542.0 457.2 L1542.6 459.6 L1543.2 452.0 L1543.8 463.8 L1544.4 453.9 L1545.0 451.2 L1545.6 454.6 L1546.2 452.8 L1546.8 444.7 L1547.4 461.4 L1548.0 455.4 L1548.6 454.7 L1549.2 451.6 L1549.8 456.9 L1550.4 442.0 L1551.0 472.0 L1551.6 453.3 L1552.2 460.7 L1552.8 448.4 L1553.4 446.9 L1554.0 455.7 L1554.6 459.6 L1555.2 456.4 L1555.8 447.9 L1556.4 451.6 L1557.0 459.6 L1557.6 470.7 L1558.2 450.2 L1558.8 458.8 L1559.4 452.6 L1560.0 462.7 L1560.6 460.5 L1561.2 448.4 L1561.8 459.4 L1562.4 459.8 L1563.0 460.2 L1563.6 460.1 L1564.2 439.0 L1564.8 480.4 L1565.4 463.8 L1566.0 462.6 L1566.6 450.4 L1567.2 475.5 L1567.8 464.1 L1568.4 458.6 L1569.0 461.4 L1569.6 467.8 L1570.2 471.2 L1570.8 454.6 L1571.4 461.6 L1572.0 464.1 L1572.6 458.3 L1573.2 461.1 L1573.8 458.4 L1574.4 454.1 L1575.0 459.1 L1575.6 467.2 L1576.2 459.5 L1576.8 457.4 L1577.4 462.3 L1578.0 444.2 L1578.6 477.3 L1579.2 460.1 L1579.8 465.7 L1580.4 468.4 L1581.0 463.6 L1581.6 459.1 L1582.2 459.1 L1582.8 449.8 L1583.4 452.0 L1584.0 450.7 L1584.6 457.4 L1585.2 458.8 L1585.8 457.6 L1586.4 447.8 L1587.0 457.3 L1587.6 454.9 L1588.2 449.2 L1588.8 443.0 L1589.4 466.7 L1590.0 455.4 L1590.6 452.3 L1591.2 467.6 L1591.8 447.1 L1592.4 450.2 L1593.0 453.2 L1593.6 445.2 L1594.2 453.2 L1594.8 460.7 L1595.4 452.3 L1596.0 426.3 L1596.6 468.9 L1597.2 460.3 L1597.8 447.4 L1598.4 458.7 L1599.0 449.6 L1599.6 450.1 L1600.2 448.9 L1600.8 466.6 L1601.4 449.3 L1602.0 460.8 L1602.6 450.7 L1603.2 449.2 L1603.8 467.3 L1604.4 460.2 L1605.0 453.0 L1605.6 454.6 L1606.2 452.5 L1606.8 456.2 L1607.4 435.8 L1608.0 476.2 L1608.6 447.2 L1609.2 460.4 L1609.8 454.9 L1610.4 455.7 L1611.0 465.0 L1611.6 463.6 L1612.2 465.3 L1612.8 452.9 L1613.4 452.7 L1614.0 452.5 L1614.6 448.3 L1615.2 461.6 L1615.8 460.7 L1616.4 469.7 L1617.0 468.4 L1617.6 464.1 L1618.2 463.8 L1618.8 464.5 L1619.4 458.2 L1620.0 451.6 L1620.6 473.0 L1621.2 458.3 L1621.8 464.7 L1622.4 462.1 L1623.0 466.6 L1623.6 465.3 L1624.2 460.8 L1624.8 462.8 L1625.4 461.3 L1626.0 462.1 L1626.6 469.6 L1627.2 463.8 L1627.8 465.9 L1628.4 464.6 L1629.0 464.6 L1629.6 465.4 L1630.2 466.6 L1630.8 456.8 L1631.4 475.0 L1632.0 462.9 L1632.6 466.1 L1633.2 459.1 L1633.8 458.0 L1634.4 460.3 L1635.0 461.8 L1635.6 457.5 L1636.2 460.2 L1636.8 459.7 L1637.4 454.6 L1638.0 452.7 L1638.6 455.0 L1639.2 456.1 L1639.8 463.2 L1640.4 459.4 L1641.0 461.7 L1641.6 445.2 L1642.2 466.7 L1642.8 450.3 L1643.4 456.3 L1644.0 461.0 L1644.6 454.7 L1645.2 451.3 L1645.8 447.3 L1646.4 456.2 L1647.0 452.8 L1647.6 454.6 L1648.2 454.8 L1648.8 458.8 L1649.4 450.2 L1650.0 453.3 L1650.6 451.0 L1651.2 458.6 L1651.8 459.6 L1652.4 449.3 L1653.0 449.7 L1653.6 463.8 L1654.2 458.1 L1654.8 450.0 L1655.4 464.1 L1656.0 442.0 L1656.6 468.9 L1657.2 457.5 L1657.8 461.5 L1658.4 449.5 L1659.0 462.5 L1659.6 462.3 L1660.2 460.3 L1660.8 456.2 L1661.4 452.9 L1662.0 449.1 L1662.6 449.2 L1663.2 448.7 L1663.8 450.7 L1664.4 454.8 L1665.0 446.7 L1665.6 451.8 L1666.2 463.5 L1666.8 463.9 L1667.4 455.1 L1668.0 462.5 L1668.6 434.7 L1669.2 466.7 L1669.8 439.7 L1670.4 452.9 L1671.0 460.2 L1671.6 452.7 L1672.2 462.2 L1672.8 458.3 L1673.4 450.3 L1674.0 450.6 L1674.6 459.2 L1675.2 460.2 L1675.8 452.8 L1676.4 455.1 L1677.0 435.8 L1677.6 473.0 L1678.2 437.7 L1678.8 448.4 L1679.4 464.0 L1680.0 450.4 L1680.6 441.5 L1681.2 456.4 L1681.8 459.4 L1682.4 454.9 L1683.0 452.1 L1683.6 457.2 L1684.2 449.7 L1684.8 451.2 L1685.4 454.4 L1686.0 451.5 L1686.6 459.4 L1687.2 454.4 L1687.8 464.5 L1688.4 462.3 L1689.0 461.1 L1689.6 461.9 L1690.2 458.7 L1690.8 464.6 L1691.4 460.0 L1692.0 455.3 L1692.6 461.6 L1693.2 459.7 L1693.8 449.5 L1694.4 471.0 L1695.0 461.0 L1695.6 459.2 L1696.2 468.0 L1696.8 455.0 L1697.4 464.0 L1698.0 455.9 L1698.6 454.5 L1699.2 447.9 L1699.8 455.3 L1700.4 457.6 L1701.0 460.9 L1701.6 465.2 L1702.2 457.7 L1702.8 463.8 L1703.4 460.0 L1704.0 450.3 L1704.6 441.0 L1705.2 477.3 L1705.8 463.9 L1706.4 455.7 L1707.0 460.3 L1707.6 460.4 L1708.2 475.0 L1708.8 452.0 L1709.4 465.7 L1710.0 465.5 L1710.6 461.5 L1711.2 470.0 L1711.8 460.4 L1712.4 471.2 L1713.0 466.3 L1713.6 476.9 L1714.2 467.8 L1714.8 460.0 L1715.4 482.6 L1716.0 466.8 L1716.6 473.4 L1717.2 460.9 L1717.8 466.3 L1718.4 469.2 L1719.0 468.1 L1719.6 464.2 L1720.2 465.8 L1720.8 471.3 L1721.4 461.6 L1722.0 468.6 L1722.6 471.0 L1723.2 469.3 L1723.8 461.0 L1724.4 471.5 L1725.0 456.6 L1725.6 472.4 L1726.2 467.1 L1726.8 459.2 L1727.4 459.2 L1728.0 462.0 L1728.6 459.0 L1729.2 448.2 L1729.8 442.0 L1730.4 477.3 L1731.0 467.0 L1731.6 450.5 L1732.2 460.7 L1732.8 457.0 L1733.4 454.2 L1734.0 461.7 L1734.6 454.5 L1735.2 451.4 L1735.8 474.4 L1736.4 455.3 L1737.0 470.6 L1737.6 471.9 L1738.2 465.7 L1738.8 473.4 L1739.4 465.9 L1740.0 441.0 L1740.6 486.8 L1741.2 456.6 L1741.8 458.0 L1742.4 467.8 L1743.0 472.9 L1743.6 477.9 L1744.2 470.7 L1744.8 459.6 L1745.4 478.9 L1746.0 462.2 L1746.6 461.4 L1747.2 464.6 L1747.8 468.1 L1748.4 459.7 L1749.0 459.7 L1749.6 458.1 L1750.2 467.1 L1750.8 454.5 L1751.4 461.2 L1752.0 443.0 L1752.6 479.4 L1753.2 461.0 L1753.8 471.6 L1754.4 468.4 L1755.0 457.3 L1755.6 461.3 L1756.2 448.8 L1756.8 454.7 L1757.4 452.2 L1758.0 457.1 L1758.6 444.5 L1759.2 455.1 L1759.8 459.8 L1760.4 446.9 L1761.0 451.9 L1761.6 444.9 L1762.2 447.3 L1762.8 460.0 L1763.4 454.6 L1764.0 446.1 L1764.6 436.8 L1765.2 468.9 L1765.8 451.0 L1766.4 457.3 L1767.0 462.7 L1767.6 441.1 L1768.2 449.0 L1768.8 457.8 L1769.4 450.5 L1770.0 457.3 L1770.6 450.6 L1771.2 456.0 L1771.8 458.8 L1772.4 457.4 L1773.0 472.9 L1773.6 454.3 L1774.2 468.8 L1774.8 459.3 L1775.4 456.6 L1776.0 465.3 L1776.6 457.0 L1777.2 447.4 L1777.8 475.0 L1778.4 453.3 L1779.0 464.8 L1779.6 455.3 L1780.2 456.9 L1780.8 452.7 L1781.4 466.1 L1782.0 457.6 L1782.6 454.4 L1783.2 455.0 L1783.8 456.5 L1784.4 460.3 L1785.0 464.8 L1785.6 466.5 L1786.2 470.7 L1786.8 457.7 L1787.4 462.1 L1788.0 466.7 L1788.6 468.8 L1789.2 452.7 L1789.8 443.0 L1790.4 475.0 L1791.0 455.9 L1791.6 457.4 L1792.2 451.3 L1792.8 464.2 L1793.4 472.6 L1794.0 447.4 L1794.6 444.2 L1795.2 462.6 L1795.8 455.1 L1796.4 457.4 L1797.0 461.9 L1797.6 462.7 L1798.2 465.0 L1798.8 455.5 L1799.4 459.9 L1800.0 466.8 L1800.6 448.8 L1801.2 451.8 L1801.8 467.3 L1802.4 436.8 L1803.0 480.4 L1803.6 453.4 L1804.2 460.7 L1804.8 454.8 L1805.4 454.5 L1806.0 440.2 L1806.6 447.8 L1807.2 457.3 L1807.8 478.0 L1808.4 449.9 L1809.0 468.0 L1809.6 462.3 L1810.2 442.3 L1810.8 448.4 L1811.4 448.1 L1812.0 451.9 L1812.6 451.7 L1813.2 457.4 L1813.8 460.1 L1814.4 463.1 L1815.0 439.0 L1815.6 475.0 L1816.2 454.5 L1816.8 456.7 L1817.4 453.9 L1818.0 466.8 L1818.6 464.2 L1819.2 452.7 L1819.8 471.3 L1820.4 450.6 L1821.0 449.8 L1821.6 466.0 L1822.2 462.1 L1822.8 460.5 L1823.4 450.2 L1824.0 462.8 L1824.6 461.8 L1825.2 463.1 L1825.8 473.0 L1826.4 454.4 L1827.0 453.2 L1827.6 443.0 L1828.2 475.0 L1828.8 452.4 L1829.4 456.5 L1830.0 451.3 L1830.6 463.6 L1831.2 454.3 L1831.8 463.0 L1832.4 460.2 L1833.0 453.4 L1833.6 466.1 L1834.2 474.5 L1834.8 456.6 L1835.4 472.6 L1836.0 467.8 L1836.6 464.1 L1837.2 471.4 L1837.8 468.8 L1838.4 460.4 L1839.0 463.6 L1839.6 454.1 L1840.2 449.5 L1840.8 477.3 L1841.4 462.9 L1842.0 465.8 L1842.6 467.8 L1843.2 465.1 L1843.8 457.6 L1844.4 462.1 L1845.0 456.9 L1845.6 462.2 L1846.2 470.4 L1846.8 459.8 L1847.4 458.5 L1848.0 467.6 L1848.6 464.6 L1849.2 461.7 L1849.8 462.4 L1850.4 459.9 L1851.0 466.8 L1851.6 463.0 L1852.2 458.1 L1852.8 447.4 L1853.4 471.0 L1854.0 462.3 L1854.6 460.9 L1855.2 461.2 L1855.8 460.4 L1856.4 462.0 L1857.0 456.5 L1857.6 463.5 L1858.2 464.5 L1858.8 454.0 L1859.4 458.6 L1860.0 461.1 L1860.6 467.4 L1861.2 471.3 L1861.8 462.5 L1862.4 476.6 L1863.0 470.4 L1863.6 449.5 L1864.2 477.3 L1864.8 467.2 L1865.4 464.5 L1866.0 457.5 L1866.6 464.7 L1867.2 467.0 L1867.8 464.4 L1868.4 459.8 L1869.0 459.6 L1869.6 454.2 L1870.2 468.3 L1870.8 460.5 L1871.4 456.9 L1872.0 460.3 L1872.6 458.8 L1873.2 458.0 L1873.8 439.0 L1874.4 477.3 L1875.0 453.6 L1875.6 471.0 L1876.2 459.2 L1876.8 451.6 L1877.4 452.6 L1878.0 464.6 L1878.6 469.2 L1879.2 463.4 L1879.8 457.8 L1880.4 452.6 L1881.0 467.3 L1881.6 450.3 L1882.2 465.2 L1882.8 473.9 L1883.4 459.3 L1884.0 464.4 L1884.6 466.1 L1885.2 461.5 L1885.8 470.5 L1886.4 445.2 L1887.0 484.7 L1887.6 468.2 L1888.2 463.3 L1888.8 456.8 L1889.4 458.8 L1890.0 470.3 L1890.6 467.8 L1891.2 444.7 L1891.8 458.5 L1892.4 456.9 L1893.0 462.4 L1893.6 460.6 L1894.2 459.1 L1894.8 448.0 L1895.4 470.2 L1896.0 451.2 L1896.6 451.0 L1897.2 459.3 L1897.8 484.8 L1898.4 450.0 L1899.0 461.3 L1899.6 436.8 L1900.2 485.7 L1900.8 454.5 L1901.4 449.2 L1902.0 469.6 L1902.6 471.7 L1903.2 458.3 L1903.8 456.3 L1904.4 460.1 L1905.0 459.3 L1905.6 444.6 L1906.2 446.3 L1906.8 451.3 L1907.4 455.4 L1908.0 463.3 L1908.6 447.8 L1909.2 440.1 L1909.8 450.5 L1910.4 471.2 L1911.0 447.5 L1911.6 455.4 L1912.2 436.8 L1912.8 475.0 L1913.4 452.0 L1914.0 461.4 L1914.6 450.4 L1915.2 458.9 L1915.8 459.1 L1916.4 450.1 L1917.0 439.2 L1917.6 443.0 L1918.2 451.2 L1918.8 452.2 L1919.4 469.1 L1920.0 444.7 L1920.6 452.3 L1921.2 461.3 L1921.8 449.7 L1922.4 451.2 L1923.0 456.8 L1923.6 463.7 L1924.2 461.4 L1924.8 441.0 L1925.4 471.0 L1926.0 466.8 L1926.6 446.6 L1927.2 458.4 L1927.8 457.7 L1928.4 463.1 L1929.0 452.5 L1929.6 451.8 L1930.2 454.8 L1930.8 455.5 L1931.4 462.5 L1932.0 456.3 L1932.6 448.1 L1933.2 463.3 L1933.8 454.9 L1934.4 454.2 L1935.0 453.3 L1935.6 449.5 L1936.2 472.0" stroke="#1a6fdf"/>
</g>
</svg>
</body>
</html>
